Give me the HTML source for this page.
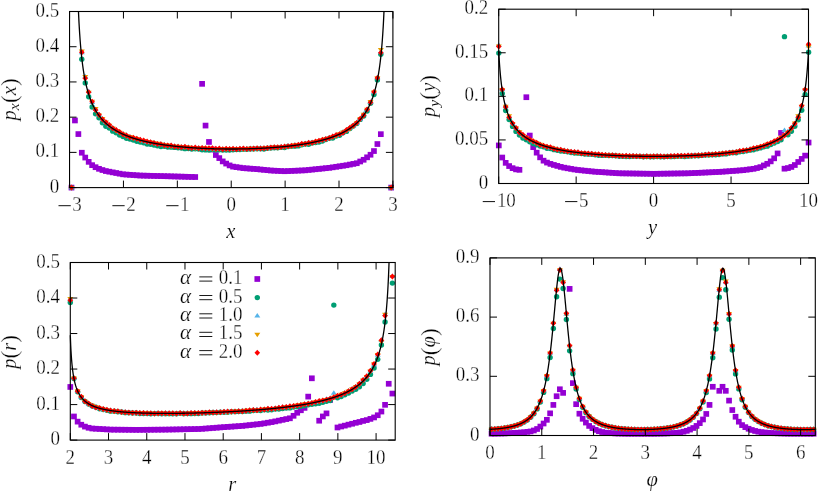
<!DOCTYPE html><html><head><meta charset="utf-8"><title>plot</title><style>html,body{margin:0;padding:0;background:#fff}svg{display:block;will-change:transform}text{font-family:"Liberation Serif",serif;fill:#000;stroke:#fff;stroke-width:0.3px}</style></head><body>
<svg width="818" height="493" viewBox="0 0 818 493"><rect width="818" height="493" fill="#fff"/>
<rect x="68.65" y="184.75" width="5.70" height="5.70" fill="#9400d3"/>
<rect x="72.09" y="117.62" width="5.70" height="5.70" fill="#9400d3"/>
<rect x="75.52" y="131.22" width="5.70" height="5.70" fill="#9400d3"/>
<rect x="78.96" y="149.88" width="5.70" height="5.70" fill="#9400d3"/>
<rect x="82.40" y="154.71" width="5.70" height="5.70" fill="#9400d3"/>
<rect x="85.84" y="159.00" width="5.70" height="5.70" fill="#9400d3"/>
<rect x="89.27" y="162.31" width="5.70" height="5.70" fill="#9400d3"/>
<rect x="92.71" y="164.36" width="5.70" height="5.70" fill="#9400d3"/>
<rect x="96.15" y="165.98" width="5.70" height="5.70" fill="#9400d3"/>
<rect x="99.58" y="167.18" width="5.70" height="5.70" fill="#9400d3"/>
<rect x="103.02" y="168.20" width="5.70" height="5.70" fill="#9400d3"/>
<rect x="106.46" y="168.85" width="5.70" height="5.70" fill="#9400d3"/>
<rect x="109.89" y="169.51" width="5.70" height="5.70" fill="#9400d3"/>
<rect x="113.33" y="170.16" width="5.70" height="5.70" fill="#9400d3"/>
<rect x="116.77" y="170.82" width="5.70" height="5.70" fill="#9400d3"/>
<rect x="120.21" y="171.47" width="5.70" height="5.70" fill="#9400d3"/>
<rect x="123.64" y="171.72" width="5.70" height="5.70" fill="#9400d3"/>
<rect x="127.08" y="171.97" width="5.70" height="5.70" fill="#9400d3"/>
<rect x="130.52" y="172.21" width="5.70" height="5.70" fill="#9400d3"/>
<rect x="133.95" y="172.46" width="5.70" height="5.70" fill="#9400d3"/>
<rect x="137.39" y="172.70" width="5.70" height="5.70" fill="#9400d3"/>
<rect x="140.83" y="172.79" width="5.70" height="5.70" fill="#9400d3"/>
<rect x="144.26" y="172.88" width="5.70" height="5.70" fill="#9400d3"/>
<rect x="147.70" y="172.97" width="5.70" height="5.70" fill="#9400d3"/>
<rect x="151.14" y="173.06" width="5.70" height="5.70" fill="#9400d3"/>
<rect x="154.58" y="173.15" width="5.70" height="5.70" fill="#9400d3"/>
<rect x="158.01" y="173.23" width="5.70" height="5.70" fill="#9400d3"/>
<rect x="161.45" y="173.32" width="5.70" height="5.70" fill="#9400d3"/>
<rect x="164.89" y="173.41" width="5.70" height="5.70" fill="#9400d3"/>
<rect x="168.32" y="173.51" width="5.70" height="5.70" fill="#9400d3"/>
<rect x="171.76" y="173.60" width="5.70" height="5.70" fill="#9400d3"/>
<rect x="175.20" y="173.70" width="5.70" height="5.70" fill="#9400d3"/>
<rect x="178.63" y="173.80" width="5.70" height="5.70" fill="#9400d3"/>
<rect x="182.07" y="173.89" width="5.70" height="5.70" fill="#9400d3"/>
<rect x="185.51" y="173.99" width="5.70" height="5.70" fill="#9400d3"/>
<rect x="188.94" y="174.09" width="5.70" height="5.70" fill="#9400d3"/>
<rect x="192.38" y="174.18" width="5.70" height="5.70" fill="#9400d3"/>
<rect x="199.26" y="80.99" width="5.70" height="5.70" fill="#9400d3"/>
<rect x="202.69" y="122.73" width="5.70" height="5.70" fill="#9400d3"/>
<rect x="206.13" y="139.10" width="5.70" height="5.70" fill="#9400d3"/>
<rect x="209.57" y="146.71" width="5.70" height="5.70" fill="#9400d3"/>
<rect x="213.00" y="152.17" width="5.70" height="5.70" fill="#9400d3"/>
<rect x="216.44" y="155.24" width="5.70" height="5.70" fill="#9400d3"/>
<rect x="219.88" y="158.55" width="5.70" height="5.70" fill="#9400d3"/>
<rect x="223.31" y="160.73" width="5.70" height="5.70" fill="#9400d3"/>
<rect x="226.75" y="162.56" width="5.70" height="5.70" fill="#9400d3"/>
<rect x="230.19" y="163.79" width="5.70" height="5.70" fill="#9400d3"/>
<rect x="233.63" y="164.29" width="5.70" height="5.70" fill="#9400d3"/>
<rect x="237.06" y="164.78" width="5.70" height="5.70" fill="#9400d3"/>
<rect x="240.50" y="165.27" width="5.70" height="5.70" fill="#9400d3"/>
<rect x="243.94" y="165.53" width="5.70" height="5.70" fill="#9400d3"/>
<rect x="247.37" y="165.78" width="5.70" height="5.70" fill="#9400d3"/>
<rect x="250.81" y="166.04" width="5.70" height="5.70" fill="#9400d3"/>
<rect x="254.25" y="166.29" width="5.70" height="5.70" fill="#9400d3"/>
<rect x="257.68" y="166.64" width="5.70" height="5.70" fill="#9400d3"/>
<rect x="261.12" y="166.98" width="5.70" height="5.70" fill="#9400d3"/>
<rect x="264.56" y="167.32" width="5.70" height="5.70" fill="#9400d3"/>
<rect x="268.00" y="167.67" width="5.70" height="5.70" fill="#9400d3"/>
<rect x="271.43" y="167.84" width="5.70" height="5.70" fill="#9400d3"/>
<rect x="274.87" y="168.02" width="5.70" height="5.70" fill="#9400d3"/>
<rect x="278.31" y="168.20" width="5.70" height="5.70" fill="#9400d3"/>
<rect x="281.74" y="168.37" width="5.70" height="5.70" fill="#9400d3"/>
<rect x="285.18" y="168.22" width="5.70" height="5.70" fill="#9400d3"/>
<rect x="288.62" y="168.07" width="5.70" height="5.70" fill="#9400d3"/>
<rect x="292.05" y="167.91" width="5.70" height="5.70" fill="#9400d3"/>
<rect x="295.49" y="167.76" width="5.70" height="5.70" fill="#9400d3"/>
<rect x="298.93" y="167.61" width="5.70" height="5.70" fill="#9400d3"/>
<rect x="302.37" y="167.46" width="5.70" height="5.70" fill="#9400d3"/>
<rect x="305.80" y="167.10" width="5.70" height="5.70" fill="#9400d3"/>
<rect x="309.24" y="166.75" width="5.70" height="5.70" fill="#9400d3"/>
<rect x="312.68" y="166.40" width="5.70" height="5.70" fill="#9400d3"/>
<rect x="316.11" y="166.05" width="5.70" height="5.70" fill="#9400d3"/>
<rect x="319.55" y="165.70" width="5.70" height="5.70" fill="#9400d3"/>
<rect x="322.99" y="165.34" width="5.70" height="5.70" fill="#9400d3"/>
<rect x="326.42" y="164.99" width="5.70" height="5.70" fill="#9400d3"/>
<rect x="329.86" y="164.47" width="5.70" height="5.70" fill="#9400d3"/>
<rect x="333.30" y="163.95" width="5.70" height="5.70" fill="#9400d3"/>
<rect x="336.74" y="163.43" width="5.70" height="5.70" fill="#9400d3"/>
<rect x="340.17" y="162.91" width="5.70" height="5.70" fill="#9400d3"/>
<rect x="343.61" y="162.39" width="5.70" height="5.70" fill="#9400d3"/>
<rect x="347.05" y="161.72" width="5.70" height="5.70" fill="#9400d3"/>
<rect x="350.48" y="161.05" width="5.70" height="5.70" fill="#9400d3"/>
<rect x="353.92" y="160.38" width="5.70" height="5.70" fill="#9400d3"/>
<rect x="357.36" y="158.65" width="5.70" height="5.70" fill="#9400d3"/>
<rect x="360.79" y="156.93" width="5.70" height="5.70" fill="#9400d3"/>
<rect x="364.23" y="154.46" width="5.70" height="5.70" fill="#9400d3"/>
<rect x="367.67" y="151.89" width="5.70" height="5.70" fill="#9400d3"/>
<rect x="371.11" y="148.19" width="5.70" height="5.70" fill="#9400d3"/>
<rect x="374.54" y="141.18" width="5.70" height="5.70" fill="#9400d3"/>
<rect x="377.98" y="131.32" width="5.70" height="5.70" fill="#9400d3"/>
<rect x="388.29" y="184.75" width="5.70" height="5.70" fill="#9400d3"/>
<circle cx="71.50" cy="187.60" r="2.7" fill="#009e73"/>
<circle cx="81.81" cy="59.14" r="2.7" fill="#009e73"/>
<circle cx="85.25" cy="82.88" r="2.7" fill="#009e73"/>
<circle cx="88.69" cy="96.81" r="2.7" fill="#009e73"/>
<circle cx="92.12" cy="107.07" r="2.7" fill="#009e73"/>
<circle cx="95.56" cy="113.86" r="2.7" fill="#009e73"/>
<circle cx="99.00" cy="117.87" r="2.7" fill="#009e73"/>
<circle cx="102.43" cy="122.79" r="2.7" fill="#009e73"/>
<circle cx="105.87" cy="126.20" r="2.7" fill="#009e73"/>
<circle cx="109.31" cy="128.12" r="2.7" fill="#009e73"/>
<circle cx="112.74" cy="131.15" r="2.7" fill="#009e73"/>
<circle cx="116.18" cy="132.84" r="2.7" fill="#009e73"/>
<circle cx="119.62" cy="135.04" r="2.7" fill="#009e73"/>
<circle cx="123.06" cy="136.47" r="2.7" fill="#009e73"/>
<circle cx="126.49" cy="138.34" r="2.7" fill="#009e73"/>
<circle cx="129.93" cy="139.09" r="2.7" fill="#009e73"/>
<circle cx="133.37" cy="139.97" r="2.7" fill="#009e73"/>
<circle cx="136.80" cy="141.28" r="2.7" fill="#009e73"/>
<circle cx="140.24" cy="141.97" r="2.7" fill="#009e73"/>
<circle cx="143.68" cy="142.85" r="2.7" fill="#009e73"/>
<circle cx="147.11" cy="144.11" r="2.7" fill="#009e73"/>
<circle cx="150.55" cy="144.18" r="2.7" fill="#009e73"/>
<circle cx="153.99" cy="144.93" r="2.7" fill="#009e73"/>
<circle cx="157.43" cy="145.73" r="2.7" fill="#009e73"/>
<circle cx="160.86" cy="146.46" r="2.7" fill="#009e73"/>
<circle cx="164.30" cy="146.23" r="2.7" fill="#009e73"/>
<circle cx="167.74" cy="146.98" r="2.7" fill="#009e73"/>
<circle cx="171.17" cy="147.16" r="2.7" fill="#009e73"/>
<circle cx="174.61" cy="147.39" r="2.7" fill="#009e73"/>
<circle cx="178.05" cy="147.84" r="2.7" fill="#009e73"/>
<circle cx="181.48" cy="147.97" r="2.7" fill="#009e73"/>
<circle cx="184.92" cy="148.64" r="2.7" fill="#009e73"/>
<circle cx="188.36" cy="148.56" r="2.7" fill="#009e73"/>
<circle cx="191.79" cy="149.05" r="2.7" fill="#009e73"/>
<circle cx="195.23" cy="148.86" r="2.7" fill="#009e73"/>
<circle cx="198.67" cy="149.06" r="2.7" fill="#009e73"/>
<circle cx="202.11" cy="149.80" r="2.7" fill="#009e73"/>
<circle cx="205.54" cy="149.89" r="2.7" fill="#009e73"/>
<circle cx="208.98" cy="149.93" r="2.7" fill="#009e73"/>
<circle cx="212.42" cy="149.45" r="2.7" fill="#009e73"/>
<circle cx="215.85" cy="149.91" r="2.7" fill="#009e73"/>
<circle cx="219.29" cy="149.81" r="2.7" fill="#009e73"/>
<circle cx="222.73" cy="150.08" r="2.7" fill="#009e73"/>
<circle cx="226.16" cy="149.93" r="2.7" fill="#009e73"/>
<circle cx="229.60" cy="150.01" r="2.7" fill="#009e73"/>
<circle cx="233.04" cy="149.82" r="2.7" fill="#009e73"/>
<circle cx="236.48" cy="149.62" r="2.7" fill="#009e73"/>
<circle cx="239.91" cy="149.58" r="2.7" fill="#009e73"/>
<circle cx="243.35" cy="149.27" r="2.7" fill="#009e73"/>
<circle cx="246.79" cy="149.36" r="2.7" fill="#009e73"/>
<circle cx="250.22" cy="149.07" r="2.7" fill="#009e73"/>
<circle cx="253.66" cy="149.01" r="2.7" fill="#009e73"/>
<circle cx="257.10" cy="148.76" r="2.7" fill="#009e73"/>
<circle cx="260.53" cy="148.85" r="2.7" fill="#009e73"/>
<circle cx="263.97" cy="149.06" r="2.7" fill="#009e73"/>
<circle cx="267.41" cy="148.31" r="2.7" fill="#009e73"/>
<circle cx="270.85" cy="148.00" r="2.7" fill="#009e73"/>
<circle cx="274.28" cy="147.79" r="2.7" fill="#009e73"/>
<circle cx="277.72" cy="147.78" r="2.7" fill="#009e73"/>
<circle cx="281.16" cy="147.36" r="2.7" fill="#009e73"/>
<circle cx="284.59" cy="147.43" r="2.7" fill="#009e73"/>
<circle cx="288.03" cy="146.56" r="2.7" fill="#009e73"/>
<circle cx="291.47" cy="146.37" r="2.7" fill="#009e73"/>
<circle cx="294.90" cy="146.17" r="2.7" fill="#009e73"/>
<circle cx="298.34" cy="145.88" r="2.7" fill="#009e73"/>
<circle cx="301.78" cy="144.70" r="2.7" fill="#009e73"/>
<circle cx="305.22" cy="144.02" r="2.7" fill="#009e73"/>
<circle cx="308.65" cy="144.19" r="2.7" fill="#009e73"/>
<circle cx="312.09" cy="142.89" r="2.7" fill="#009e73"/>
<circle cx="315.53" cy="142.51" r="2.7" fill="#009e73"/>
<circle cx="318.96" cy="141.95" r="2.7" fill="#009e73"/>
<circle cx="322.40" cy="140.94" r="2.7" fill="#009e73"/>
<circle cx="325.84" cy="139.52" r="2.7" fill="#009e73"/>
<circle cx="329.27" cy="138.35" r="2.7" fill="#009e73"/>
<circle cx="332.71" cy="137.99" r="2.7" fill="#009e73"/>
<circle cx="336.15" cy="136.09" r="2.7" fill="#009e73"/>
<circle cx="339.59" cy="135.22" r="2.7" fill="#009e73"/>
<circle cx="343.02" cy="132.84" r="2.7" fill="#009e73"/>
<circle cx="346.46" cy="131.39" r="2.7" fill="#009e73"/>
<circle cx="349.90" cy="128.59" r="2.7" fill="#009e73"/>
<circle cx="353.33" cy="125.95" r="2.7" fill="#009e73"/>
<circle cx="356.77" cy="123.59" r="2.7" fill="#009e73"/>
<circle cx="360.21" cy="119.40" r="2.7" fill="#009e73"/>
<circle cx="363.64" cy="116.06" r="2.7" fill="#009e73"/>
<circle cx="367.08" cy="111.05" r="2.7" fill="#009e73"/>
<circle cx="370.52" cy="103.20" r="2.7" fill="#009e73"/>
<circle cx="373.96" cy="94.59" r="2.7" fill="#009e73"/>
<circle cx="377.39" cy="79.90" r="2.7" fill="#009e73"/>
<circle cx="380.83" cy="54.30" r="2.7" fill="#009e73"/>
<circle cx="391.14" cy="187.60" r="2.7" fill="#009e73"/>
<path d="M68.50 189.20L74.50 189.20L71.50 184.70Z" fill="#56b4e9"/>
<path d="M78.81 54.13L84.81 54.13L81.81 49.63Z" fill="#56b4e9"/>
<path d="M82.25 78.19L88.25 78.19L85.25 73.69Z" fill="#56b4e9"/>
<path d="M85.69 93.12L91.69 93.12L88.69 88.62Z" fill="#56b4e9"/>
<path d="M89.12 103.89L95.12 103.89L92.12 99.39Z" fill="#56b4e9"/>
<path d="M92.56 110.88L98.56 110.88L95.56 106.38Z" fill="#56b4e9"/>
<path d="M96.00 116.26L102.00 116.26L99.00 111.76Z" fill="#56b4e9"/>
<path d="M99.43 120.45L105.43 120.45L102.43 115.95Z" fill="#56b4e9"/>
<path d="M102.87 124.09L108.87 124.09L105.87 119.59Z" fill="#56b4e9"/>
<path d="M106.31 127.13L112.31 127.13L109.31 122.63Z" fill="#56b4e9"/>
<path d="M109.74 129.60L115.74 129.60L112.74 125.10Z" fill="#56b4e9"/>
<path d="M113.18 131.43L119.18 131.43L116.18 126.93Z" fill="#56b4e9"/>
<path d="M116.62 133.84L122.62 133.84L119.62 129.34Z" fill="#56b4e9"/>
<path d="M120.06 135.60L126.06 135.60L123.06 131.10Z" fill="#56b4e9"/>
<path d="M123.49 136.79L129.49 136.79L126.49 132.29Z" fill="#56b4e9"/>
<path d="M126.93 138.62L132.93 138.62L129.93 134.12Z" fill="#56b4e9"/>
<path d="M130.37 139.74L136.37 139.74L133.37 135.24Z" fill="#56b4e9"/>
<path d="M133.80 140.16L139.80 140.16L136.80 135.66Z" fill="#56b4e9"/>
<path d="M137.24 141.58L143.24 141.58L140.24 137.08Z" fill="#56b4e9"/>
<path d="M140.68 142.44L146.68 142.44L143.68 137.94Z" fill="#56b4e9"/>
<path d="M144.11 143.74L150.11 143.74L147.11 139.24Z" fill="#56b4e9"/>
<path d="M147.55 144.10L153.55 144.10L150.55 139.60Z" fill="#56b4e9"/>
<path d="M150.99 144.62L156.99 144.62L153.99 140.12Z" fill="#56b4e9"/>
<path d="M154.43 145.73L160.43 145.73L157.43 141.23Z" fill="#56b4e9"/>
<path d="M157.86 145.78L163.86 145.78L160.86 141.28Z" fill="#56b4e9"/>
<path d="M161.30 146.28L167.30 146.28L164.30 141.78Z" fill="#56b4e9"/>
<path d="M164.74 147.24L170.74 147.24L167.74 142.74Z" fill="#56b4e9"/>
<path d="M168.17 147.20L174.17 147.20L171.17 142.70Z" fill="#56b4e9"/>
<path d="M171.61 147.73L177.61 147.73L174.61 143.23Z" fill="#56b4e9"/>
<path d="M175.05 147.92L181.05 147.92L178.05 143.42Z" fill="#56b4e9"/>
<path d="M178.48 148.53L184.48 148.53L181.48 144.03Z" fill="#56b4e9"/>
<path d="M181.92 148.54L187.92 148.54L184.92 144.04Z" fill="#56b4e9"/>
<path d="M185.36 148.80L191.36 148.80L188.36 144.30Z" fill="#56b4e9"/>
<path d="M188.79 149.62L194.79 149.62L191.79 145.12Z" fill="#56b4e9"/>
<path d="M192.23 149.81L198.23 149.81L195.23 145.31Z" fill="#56b4e9"/>
<path d="M195.67 149.53L201.67 149.53L198.67 145.03Z" fill="#56b4e9"/>
<path d="M199.11 149.48L205.11 149.48L202.11 144.98Z" fill="#56b4e9"/>
<path d="M202.54 150.20L208.54 150.20L205.54 145.70Z" fill="#56b4e9"/>
<path d="M205.98 150.17L211.98 150.17L208.98 145.67Z" fill="#56b4e9"/>
<path d="M209.42 150.18L215.42 150.18L212.42 145.68Z" fill="#56b4e9"/>
<path d="M212.85 150.49L218.85 150.49L215.85 145.99Z" fill="#56b4e9"/>
<path d="M216.29 150.53L222.29 150.53L219.29 146.03Z" fill="#56b4e9"/>
<path d="M219.73 150.63L225.73 150.63L222.73 146.13Z" fill="#56b4e9"/>
<path d="M223.16 150.62L229.16 150.62L226.16 146.12Z" fill="#56b4e9"/>
<path d="M226.60 150.46L232.60 150.46L229.60 145.96Z" fill="#56b4e9"/>
<path d="M230.04 150.69L236.04 150.69L233.04 146.19Z" fill="#56b4e9"/>
<path d="M233.48 150.61L239.48 150.61L236.48 146.11Z" fill="#56b4e9"/>
<path d="M236.91 150.27L242.91 150.27L239.91 145.77Z" fill="#56b4e9"/>
<path d="M240.35 150.79L246.35 150.79L243.35 146.29Z" fill="#56b4e9"/>
<path d="M243.79 150.30L249.79 150.30L246.79 145.80Z" fill="#56b4e9"/>
<path d="M247.22 150.07L253.22 150.07L250.22 145.57Z" fill="#56b4e9"/>
<path d="M250.66 150.29L256.66 150.29L253.66 145.79Z" fill="#56b4e9"/>
<path d="M254.10 150.22L260.10 150.22L257.10 145.72Z" fill="#56b4e9"/>
<path d="M257.53 149.61L263.53 149.61L260.53 145.11Z" fill="#56b4e9"/>
<path d="M260.97 149.87L266.97 149.87L263.97 145.37Z" fill="#56b4e9"/>
<path d="M264.41 149.71L270.41 149.71L267.41 145.21Z" fill="#56b4e9"/>
<path d="M267.85 149.29L273.85 149.29L270.85 144.79Z" fill="#56b4e9"/>
<path d="M271.28 148.83L277.28 148.83L274.28 144.33Z" fill="#56b4e9"/>
<path d="M274.72 149.03L280.72 149.03L277.72 144.53Z" fill="#56b4e9"/>
<path d="M278.16 148.55L284.16 148.55L281.16 144.05Z" fill="#56b4e9"/>
<path d="M281.59 148.21L287.59 148.21L284.59 143.71Z" fill="#56b4e9"/>
<path d="M285.03 147.43L291.03 147.43L288.03 142.93Z" fill="#56b4e9"/>
<path d="M288.47 147.36L294.47 147.36L291.47 142.86Z" fill="#56b4e9"/>
<path d="M291.90 146.57L297.90 146.57L294.90 142.07Z" fill="#56b4e9"/>
<path d="M295.34 146.68L301.34 146.68L298.34 142.18Z" fill="#56b4e9"/>
<path d="M298.78 146.02L304.78 146.02L301.78 141.52Z" fill="#56b4e9"/>
<path d="M302.22 145.18L308.22 145.18L305.22 140.68Z" fill="#56b4e9"/>
<path d="M305.65 144.35L311.65 144.35L308.65 139.85Z" fill="#56b4e9"/>
<path d="M309.09 144.07L315.09 144.07L312.09 139.57Z" fill="#56b4e9"/>
<path d="M312.53 143.54L318.53 143.54L315.53 139.04Z" fill="#56b4e9"/>
<path d="M315.96 142.84L321.96 142.84L318.96 138.34Z" fill="#56b4e9"/>
<path d="M319.40 141.57L325.40 141.57L322.40 137.07Z" fill="#56b4e9"/>
<path d="M322.84 140.92L328.84 140.92L325.84 136.42Z" fill="#56b4e9"/>
<path d="M326.27 139.24L332.27 139.24L329.27 134.74Z" fill="#56b4e9"/>
<path d="M329.71 138.01L335.71 138.01L332.71 133.51Z" fill="#56b4e9"/>
<path d="M333.15 137.35L339.15 137.35L336.15 132.85Z" fill="#56b4e9"/>
<path d="M336.59 135.77L342.59 135.77L339.59 131.27Z" fill="#56b4e9"/>
<path d="M340.02 133.51L346.02 133.51L343.02 129.01Z" fill="#56b4e9"/>
<path d="M343.46 131.78L349.46 131.78L346.46 127.28Z" fill="#56b4e9"/>
<path d="M346.90 129.38L352.90 129.38L349.90 124.88Z" fill="#56b4e9"/>
<path d="M350.33 127.40L356.33 127.40L353.33 122.90Z" fill="#56b4e9"/>
<path d="M353.77 124.70L359.77 124.70L356.77 120.20Z" fill="#56b4e9"/>
<path d="M357.21 120.93L363.21 120.93L360.21 116.43Z" fill="#56b4e9"/>
<path d="M360.64 115.86L366.64 115.86L363.64 111.36Z" fill="#56b4e9"/>
<path d="M364.08 111.17L370.08 111.17L367.08 106.67Z" fill="#56b4e9"/>
<path d="M367.52 103.95L373.52 103.95L370.52 99.45Z" fill="#56b4e9"/>
<path d="M370.96 94.03L376.96 94.03L373.96 89.53Z" fill="#56b4e9"/>
<path d="M374.39 79.37L380.39 79.37L377.39 74.87Z" fill="#56b4e9"/>
<path d="M377.83 53.87L383.83 53.87L380.83 49.37Z" fill="#56b4e9"/>
<path d="M388.14 189.20L394.14 189.20L391.14 184.70Z" fill="#56b4e9"/>
<path d="M68.50 186.00L74.50 186.00L71.50 190.50Z" fill="#e69f00"/>
<path d="M78.81 49.39L84.81 49.39L81.81 53.89Z" fill="#e69f00"/>
<path d="M82.25 74.93L88.25 74.93L85.25 79.43Z" fill="#e69f00"/>
<path d="M85.69 90.80L91.69 90.80L88.69 95.30Z" fill="#e69f00"/>
<path d="M89.12 99.72L95.12 99.72L92.12 104.22Z" fill="#e69f00"/>
<path d="M92.56 106.95L98.56 106.95L95.56 111.45Z" fill="#e69f00"/>
<path d="M96.00 113.49L102.00 113.49L99.00 117.99Z" fill="#e69f00"/>
<path d="M99.43 117.11L105.43 117.11L102.43 121.61Z" fill="#e69f00"/>
<path d="M102.87 120.58L108.87 120.58L105.87 125.08Z" fill="#e69f00"/>
<path d="M106.31 123.80L112.31 123.80L109.31 128.30Z" fill="#e69f00"/>
<path d="M109.74 126.53L115.74 126.53L112.74 131.03Z" fill="#e69f00"/>
<path d="M113.18 128.98L119.18 128.98L116.18 133.48Z" fill="#e69f00"/>
<path d="M116.62 130.83L122.62 130.83L119.62 135.33Z" fill="#e69f00"/>
<path d="M120.06 132.62L126.06 132.62L123.06 137.12Z" fill="#e69f00"/>
<path d="M123.49 134.27L129.49 134.27L126.49 138.77Z" fill="#e69f00"/>
<path d="M126.93 135.06L132.93 135.06L129.93 139.56Z" fill="#e69f00"/>
<path d="M130.37 136.56L136.37 136.56L133.37 141.06Z" fill="#e69f00"/>
<path d="M133.80 137.12L139.80 137.12L136.80 141.62Z" fill="#e69f00"/>
<path d="M137.24 138.83L143.24 138.83L140.24 143.33Z" fill="#e69f00"/>
<path d="M140.68 138.90L146.68 138.90L143.68 143.40Z" fill="#e69f00"/>
<path d="M144.11 139.91L150.11 139.91L147.11 144.41Z" fill="#e69f00"/>
<path d="M147.55 140.44L153.55 140.44L150.55 144.94Z" fill="#e69f00"/>
<path d="M150.99 141.14L156.99 141.14L153.99 145.64Z" fill="#e69f00"/>
<path d="M154.43 141.76L160.43 141.76L157.43 146.26Z" fill="#e69f00"/>
<path d="M157.86 142.61L163.86 142.61L160.86 147.11Z" fill="#e69f00"/>
<path d="M161.30 143.61L167.30 143.61L164.30 148.11Z" fill="#e69f00"/>
<path d="M164.74 143.46L170.74 143.46L167.74 147.96Z" fill="#e69f00"/>
<path d="M168.17 144.38L174.17 144.38L171.17 148.88Z" fill="#e69f00"/>
<path d="M171.61 144.67L177.61 144.67L174.61 149.17Z" fill="#e69f00"/>
<path d="M175.05 144.74L181.05 144.74L178.05 149.24Z" fill="#e69f00"/>
<path d="M178.48 145.19L184.48 145.19L181.48 149.69Z" fill="#e69f00"/>
<path d="M181.92 145.58L187.92 145.58L184.92 150.08Z" fill="#e69f00"/>
<path d="M185.36 145.43L191.36 145.43L188.36 149.93Z" fill="#e69f00"/>
<path d="M188.79 145.95L194.79 145.95L191.79 150.45Z" fill="#e69f00"/>
<path d="M192.23 146.39L198.23 146.39L195.23 150.89Z" fill="#e69f00"/>
<path d="M195.67 146.66L201.67 146.66L198.67 151.16Z" fill="#e69f00"/>
<path d="M199.11 146.36L205.11 146.36L202.11 150.86Z" fill="#e69f00"/>
<path d="M202.54 146.82L208.54 146.82L205.54 151.32Z" fill="#e69f00"/>
<path d="M205.98 146.72L211.98 146.72L208.98 151.22Z" fill="#e69f00"/>
<path d="M209.42 147.17L215.42 147.17L212.42 151.67Z" fill="#e69f00"/>
<path d="M212.85 147.39L218.85 147.39L215.85 151.89Z" fill="#e69f00"/>
<path d="M216.29 147.20L222.29 147.20L219.29 151.70Z" fill="#e69f00"/>
<path d="M219.73 147.04L225.73 147.04L222.73 151.54Z" fill="#e69f00"/>
<path d="M223.16 147.57L229.16 147.57L226.16 152.07Z" fill="#e69f00"/>
<path d="M226.60 147.11L232.60 147.11L229.60 151.61Z" fill="#e69f00"/>
<path d="M230.04 147.01L236.04 147.01L233.04 151.51Z" fill="#e69f00"/>
<path d="M233.48 147.08L239.48 147.08L236.48 151.58Z" fill="#e69f00"/>
<path d="M236.91 147.03L242.91 147.03L239.91 151.53Z" fill="#e69f00"/>
<path d="M240.35 147.61L246.35 147.61L243.35 152.11Z" fill="#e69f00"/>
<path d="M243.79 147.05L249.79 147.05L246.79 151.55Z" fill="#e69f00"/>
<path d="M247.22 146.77L253.22 146.77L250.22 151.27Z" fill="#e69f00"/>
<path d="M250.66 147.29L256.66 147.29L253.66 151.79Z" fill="#e69f00"/>
<path d="M254.10 146.98L260.10 146.98L257.10 151.48Z" fill="#e69f00"/>
<path d="M257.53 146.83L263.53 146.83L260.53 151.33Z" fill="#e69f00"/>
<path d="M260.97 146.44L266.97 146.44L263.97 150.94Z" fill="#e69f00"/>
<path d="M264.41 146.33L270.41 146.33L267.41 150.83Z" fill="#e69f00"/>
<path d="M267.85 146.06L273.85 146.06L270.85 150.56Z" fill="#e69f00"/>
<path d="M271.28 145.57L277.28 145.57L274.28 150.07Z" fill="#e69f00"/>
<path d="M274.72 145.91L280.72 145.91L277.72 150.41Z" fill="#e69f00"/>
<path d="M278.16 145.57L284.16 145.57L281.16 150.07Z" fill="#e69f00"/>
<path d="M281.59 145.18L287.59 145.18L284.59 149.68Z" fill="#e69f00"/>
<path d="M285.03 144.82L291.03 144.82L288.03 149.32Z" fill="#e69f00"/>
<path d="M288.47 144.47L294.47 144.47L291.47 148.97Z" fill="#e69f00"/>
<path d="M291.90 143.27L297.90 143.27L294.90 147.77Z" fill="#e69f00"/>
<path d="M295.34 142.89L301.34 142.89L298.34 147.39Z" fill="#e69f00"/>
<path d="M298.78 143.03L304.78 143.03L301.78 147.53Z" fill="#e69f00"/>
<path d="M302.22 142.11L308.22 142.11L305.22 146.61Z" fill="#e69f00"/>
<path d="M305.65 141.66L311.65 141.66L308.65 146.16Z" fill="#e69f00"/>
<path d="M309.09 140.99L315.09 140.99L312.09 145.49Z" fill="#e69f00"/>
<path d="M312.53 140.22L318.53 140.22L315.53 144.72Z" fill="#e69f00"/>
<path d="M315.96 139.14L321.96 139.14L318.96 143.64Z" fill="#e69f00"/>
<path d="M319.40 138.31L325.40 138.31L322.40 142.81Z" fill="#e69f00"/>
<path d="M322.84 137.56L328.84 137.56L325.84 142.06Z" fill="#e69f00"/>
<path d="M326.27 136.65L332.27 136.65L329.27 141.15Z" fill="#e69f00"/>
<path d="M329.71 135.33L335.71 135.33L332.71 139.83Z" fill="#e69f00"/>
<path d="M333.15 134.21L339.15 134.21L336.15 138.71Z" fill="#e69f00"/>
<path d="M336.59 132.27L342.59 132.27L339.59 136.77Z" fill="#e69f00"/>
<path d="M340.02 130.41L346.02 130.41L343.02 134.91Z" fill="#e69f00"/>
<path d="M343.46 128.88L349.46 128.88L346.46 133.38Z" fill="#e69f00"/>
<path d="M346.90 127.05L352.90 127.05L349.90 131.55Z" fill="#e69f00"/>
<path d="M350.33 124.40L356.33 124.40L353.33 128.90Z" fill="#e69f00"/>
<path d="M353.77 121.18L359.77 121.18L356.77 125.68Z" fill="#e69f00"/>
<path d="M357.21 117.30L363.21 117.30L360.21 121.80Z" fill="#e69f00"/>
<path d="M360.64 112.68L366.64 112.68L363.64 117.18Z" fill="#e69f00"/>
<path d="M364.08 107.80L370.08 107.80L367.08 112.30Z" fill="#e69f00"/>
<path d="M367.52 99.97L373.52 99.97L370.52 104.47Z" fill="#e69f00"/>
<path d="M370.96 90.44L376.96 90.44L373.96 94.94Z" fill="#e69f00"/>
<path d="M374.39 76.15L380.39 76.15L377.39 80.65Z" fill="#e69f00"/>
<path d="M377.83 48.07L383.83 48.07L380.83 52.57Z" fill="#e69f00"/>
<path d="M388.14 186.00L394.14 186.00L391.14 190.50Z" fill="#e69f00"/>
<path d="M68.70 187.60L71.50 184.60L74.30 187.60L71.50 190.60Z" fill="#ff0000"/>
<path d="M79.01 52.13L81.81 49.13L84.61 52.13L81.81 55.13Z" fill="#ff0000"/>
<path d="M82.45 78.16L85.25 75.16L88.05 78.16L85.25 81.16Z" fill="#ff0000"/>
<path d="M85.89 92.21L88.69 89.21L91.48 92.21L88.69 95.21Z" fill="#ff0000"/>
<path d="M89.32 101.75L92.12 98.75L94.92 101.75L92.12 104.75Z" fill="#ff0000"/>
<path d="M92.76 109.89L95.56 106.89L98.36 109.89L95.56 112.89Z" fill="#ff0000"/>
<path d="M96.20 114.80L99.00 111.80L101.80 114.80L99.00 117.80Z" fill="#ff0000"/>
<path d="M99.63 119.15L102.43 116.15L105.23 119.15L102.43 122.15Z" fill="#ff0000"/>
<path d="M103.07 122.13L105.87 119.13L108.67 122.13L105.87 125.13Z" fill="#ff0000"/>
<path d="M106.51 125.06L109.31 122.06L112.11 125.06L109.31 128.06Z" fill="#ff0000"/>
<path d="M109.94 128.30L112.74 125.30L115.54 128.30L112.74 131.30Z" fill="#ff0000"/>
<path d="M113.38 129.88L116.18 126.88L118.98 129.88L116.18 132.88Z" fill="#ff0000"/>
<path d="M116.82 131.93L119.62 128.93L122.42 131.93L119.62 134.93Z" fill="#ff0000"/>
<path d="M120.26 134.19L123.06 131.19L125.86 134.19L123.06 137.19Z" fill="#ff0000"/>
<path d="M123.69 135.46L126.49 132.46L129.29 135.46L126.49 138.46Z" fill="#ff0000"/>
<path d="M127.13 137.14L129.93 134.14L132.73 137.14L129.93 140.14Z" fill="#ff0000"/>
<path d="M130.57 137.63L133.37 134.63L136.17 137.63L133.37 140.63Z" fill="#ff0000"/>
<path d="M134.00 138.86L136.80 135.86L139.60 138.86L136.80 141.86Z" fill="#ff0000"/>
<path d="M137.44 139.63L140.24 136.63L143.04 139.63L140.24 142.63Z" fill="#ff0000"/>
<path d="M140.88 140.61L143.68 137.61L146.48 140.61L143.68 143.61Z" fill="#ff0000"/>
<path d="M144.31 141.53L147.11 138.53L149.91 141.53L147.11 144.53Z" fill="#ff0000"/>
<path d="M147.75 142.21L150.55 139.21L153.35 142.21L150.55 145.21Z" fill="#ff0000"/>
<path d="M151.19 143.04L153.99 140.04L156.79 143.04L153.99 146.04Z" fill="#ff0000"/>
<path d="M154.62 144.06L157.43 141.06L160.23 144.06L157.43 147.06Z" fill="#ff0000"/>
<path d="M158.06 144.20L160.86 141.20L163.66 144.20L160.86 147.20Z" fill="#ff0000"/>
<path d="M161.50 145.22L164.30 142.22L167.10 145.22L164.30 148.22Z" fill="#ff0000"/>
<path d="M164.94 145.57L167.74 142.57L170.54 145.57L167.74 148.57Z" fill="#ff0000"/>
<path d="M168.37 145.48L171.17 142.48L173.97 145.48L171.17 148.48Z" fill="#ff0000"/>
<path d="M171.81 146.48L174.61 143.48L177.41 146.48L174.61 149.48Z" fill="#ff0000"/>
<path d="M175.25 146.81L178.05 143.81L180.85 146.81L178.05 149.81Z" fill="#ff0000"/>
<path d="M178.68 147.13L181.48 144.13L184.28 147.13L181.48 150.13Z" fill="#ff0000"/>
<path d="M182.12 146.80L184.92 143.80L187.72 146.80L184.92 149.80Z" fill="#ff0000"/>
<path d="M185.56 147.65L188.36 144.65L191.16 147.65L188.36 150.65Z" fill="#ff0000"/>
<path d="M188.99 148.02L191.79 145.02L194.59 148.02L191.79 151.02Z" fill="#ff0000"/>
<path d="M192.43 147.59L195.23 144.59L198.03 147.59L195.23 150.59Z" fill="#ff0000"/>
<path d="M195.87 148.37L198.67 145.37L201.47 148.37L198.67 151.37Z" fill="#ff0000"/>
<path d="M199.31 147.97L202.11 144.97L204.91 147.97L202.11 150.97Z" fill="#ff0000"/>
<path d="M202.74 148.27L205.54 145.27L208.34 148.27L205.54 151.27Z" fill="#ff0000"/>
<path d="M206.18 148.28L208.98 145.28L211.78 148.28L208.98 151.28Z" fill="#ff0000"/>
<path d="M209.62 148.30L212.42 145.30L215.22 148.30L212.42 151.30Z" fill="#ff0000"/>
<path d="M213.05 148.69L215.85 145.69L218.65 148.69L215.85 151.69Z" fill="#ff0000"/>
<path d="M216.49 148.59L219.29 145.59L222.09 148.59L219.29 151.59Z" fill="#ff0000"/>
<path d="M219.93 149.24L222.73 146.24L225.53 149.24L222.73 152.24Z" fill="#ff0000"/>
<path d="M223.36 148.71L226.16 145.71L228.97 148.71L226.16 151.71Z" fill="#ff0000"/>
<path d="M226.80 148.93L229.60 145.93L232.40 148.93L229.60 151.93Z" fill="#ff0000"/>
<path d="M230.24 148.77L233.04 145.77L235.84 148.77L233.04 151.77Z" fill="#ff0000"/>
<path d="M233.68 149.22L236.48 146.22L239.28 149.22L236.48 152.22Z" fill="#ff0000"/>
<path d="M237.11 148.69L239.91 145.69L242.71 148.69L239.91 151.69Z" fill="#ff0000"/>
<path d="M240.55 148.49L243.35 145.49L246.15 148.49L243.35 151.49Z" fill="#ff0000"/>
<path d="M243.99 149.09L246.79 146.09L249.59 149.09L246.79 152.09Z" fill="#ff0000"/>
<path d="M247.42 148.79L250.22 145.79L253.02 148.79L250.22 151.79Z" fill="#ff0000"/>
<path d="M250.86 148.49L253.66 145.49L256.46 148.49L253.66 151.49Z" fill="#ff0000"/>
<path d="M254.30 148.15L257.10 145.15L259.90 148.15L257.10 151.15Z" fill="#ff0000"/>
<path d="M257.73 148.45L260.53 145.45L263.33 148.45L260.53 151.45Z" fill="#ff0000"/>
<path d="M261.17 148.32L263.97 145.32L266.77 148.32L263.97 151.32Z" fill="#ff0000"/>
<path d="M264.61 148.06L267.41 145.06L270.21 148.06L267.41 151.06Z" fill="#ff0000"/>
<path d="M268.05 147.55L270.85 144.55L273.65 147.55L270.85 150.55Z" fill="#ff0000"/>
<path d="M271.48 147.18L274.28 144.18L277.08 147.18L274.28 150.18Z" fill="#ff0000"/>
<path d="M274.92 147.20L277.72 144.20L280.52 147.20L277.72 150.20Z" fill="#ff0000"/>
<path d="M278.36 146.91L281.16 143.91L283.96 146.91L281.16 149.91Z" fill="#ff0000"/>
<path d="M281.79 146.56L284.59 143.56L287.39 146.56L284.59 149.56Z" fill="#ff0000"/>
<path d="M285.23 146.23L288.03 143.23L290.83 146.23L288.03 149.23Z" fill="#ff0000"/>
<path d="M288.67 145.77L291.47 142.77L294.27 145.77L291.47 148.77Z" fill="#ff0000"/>
<path d="M292.10 145.62L294.90 142.62L297.70 145.62L294.90 148.62Z" fill="#ff0000"/>
<path d="M295.54 144.79L298.34 141.79L301.14 144.79L298.34 147.79Z" fill="#ff0000"/>
<path d="M298.98 143.87L301.78 140.87L304.58 143.87L301.78 146.87Z" fill="#ff0000"/>
<path d="M302.42 143.79L305.22 140.79L308.02 143.79L305.22 146.79Z" fill="#ff0000"/>
<path d="M305.85 142.87L308.65 139.87L311.45 142.87L308.65 145.87Z" fill="#ff0000"/>
<path d="M309.29 142.73L312.09 139.73L314.89 142.73L312.09 145.73Z" fill="#ff0000"/>
<path d="M312.73 141.51L315.53 138.51L318.33 141.51L315.53 144.51Z" fill="#ff0000"/>
<path d="M316.16 140.64L318.96 137.64L321.76 140.64L318.96 143.64Z" fill="#ff0000"/>
<path d="M319.60 139.83L322.40 136.83L325.20 139.83L322.40 142.83Z" fill="#ff0000"/>
<path d="M323.04 139.01L325.84 136.01L328.64 139.01L325.84 142.01Z" fill="#ff0000"/>
<path d="M326.47 137.96L329.27 134.96L332.07 137.96L329.27 140.96Z" fill="#ff0000"/>
<path d="M329.91 136.61L332.71 133.61L335.51 136.61L332.71 139.61Z" fill="#ff0000"/>
<path d="M333.35 135.01L336.15 132.01L338.95 135.01L336.15 138.01Z" fill="#ff0000"/>
<path d="M336.79 134.31L339.59 131.31L342.39 134.31L339.59 137.31Z" fill="#ff0000"/>
<path d="M340.22 132.70L343.02 129.70L345.82 132.70L343.02 135.70Z" fill="#ff0000"/>
<path d="M343.66 130.06L346.46 127.06L349.26 130.06L346.46 133.06Z" fill="#ff0000"/>
<path d="M347.10 127.65L349.90 124.65L352.70 127.65L349.90 130.65Z" fill="#ff0000"/>
<path d="M350.53 125.58L353.33 122.58L356.13 125.58L353.33 128.58Z" fill="#ff0000"/>
<path d="M353.97 122.69L356.77 119.69L359.57 122.69L356.77 125.69Z" fill="#ff0000"/>
<path d="M357.41 118.75L360.21 115.75L363.01 118.75L360.21 121.75Z" fill="#ff0000"/>
<path d="M360.84 115.15L363.64 112.15L366.44 115.15L363.64 118.15Z" fill="#ff0000"/>
<path d="M364.28 109.58L367.08 106.58L369.88 109.58L367.08 112.58Z" fill="#ff0000"/>
<path d="M367.72 102.60L370.52 99.60L373.32 102.60L370.52 105.60Z" fill="#ff0000"/>
<path d="M371.16 92.11L373.96 89.11L376.76 92.11L373.96 95.11Z" fill="#ff0000"/>
<path d="M374.59 78.01L377.39 75.01L380.19 78.01L377.39 81.01Z" fill="#ff0000"/>
<path d="M378.03 52.75L380.83 49.75L383.63 52.75L380.83 55.75Z" fill="#ff0000"/>
<path d="M388.34 187.60L391.14 184.60L393.94 187.60L391.14 190.60Z" fill="#ff0000"/>
<path d="M78.48 11.50L78.60 14.37L78.82 18.87L79.03 23.03L79.25 26.89L79.47 30.49L79.68 33.85L79.90 37.00L80.11 39.96L80.33 42.75L80.54 45.38L80.76 47.87L80.98 50.24L81.19 52.48L81.41 54.61L81.62 56.64L81.84 58.58L82.05 60.43L82.27 62.21L82.48 63.90L82.70 65.53L82.92 67.10L83.13 68.60L83.35 70.05L83.56 71.44L83.78 72.78L83.99 74.07L84.21 75.33L84.42 76.53L84.64 77.70L84.86 78.83L85.07 79.93L85.29 80.99L85.50 82.02L85.72 83.01L85.93 83.98L86.15 84.92L86.36 85.84L86.58 86.73L86.80 87.59L87.01 88.43L87.23 89.25L87.44 90.05L87.66 90.83L87.87 91.59L88.09 92.33L88.30 93.05L88.52 93.76L88.74 94.44L88.95 95.12L89.17 95.77L89.38 96.42L89.60 97.04L89.81 97.66L90.03 98.26L90.24 98.85L90.46 99.42L90.68 99.99L90.89 100.54L91.11 101.08L91.32 101.61L91.54 102.13L91.75 102.64L91.97 103.14L92.18 103.63L92.40 104.11L92.62 104.59L92.83 105.05L93.05 105.51L93.26 105.95L93.48 106.39L93.69 106.83L93.91 107.25L94.12 107.67L94.34 108.08L94.56 108.48L94.77 108.88L94.99 109.27L95.20 109.65L95.42 110.03L95.63 110.40L95.85 110.76L96.06 111.12L96.28 111.48L96.50 111.83L96.71 112.17L96.93 112.51L97.14 112.84L97.36 113.17L97.57 113.49L97.79 113.81L98.00 114.13L98.22 114.44L98.44 114.74L98.65 115.04L98.87 115.34L99.08 115.63L99.30 115.92L99.51 116.21L99.73 116.49L99.94 116.77L100.16 117.04L100.38 117.31L100.59 117.58L100.81 117.84L101.02 118.10L101.24 118.36L101.45 118.61L101.67 118.86L101.88 119.11L102.10 119.35L102.32 119.59L102.53 119.83L102.75 120.06L102.96 120.30L103.18 120.53L103.39 120.75L103.61 120.98L103.83 121.20L104.04 121.42L104.26 121.63L104.47 121.85L104.69 122.06L104.90 122.27L105.12 122.48L105.33 122.68L105.55 122.88L105.77 123.08L105.98 123.28L106.20 123.48L106.41 123.67L106.63 123.86L106.84 124.05L107.06 124.24L107.27 124.42L107.49 124.61L107.71 124.79L107.92 124.97L108.14 125.15L108.35 125.32L108.57 125.50L108.78 125.67L109.00 125.84L109.21 126.01L109.43 126.18L109.65 126.34L109.86 126.51L110.08 126.67L110.29 126.83L110.51 126.99L110.72 127.15L110.94 127.31L111.15 127.46L111.37 127.61L111.59 127.77L111.80 127.92L112.02 128.07L112.23 128.21L112.45 128.36L112.66 128.51L112.88 128.65L113.09 128.79L113.31 128.93L113.53 129.07L113.74 129.21L113.96 129.35L114.17 129.49L114.39 129.62L114.60 129.75L114.82 129.89L115.03 130.02L115.25 130.15L115.47 130.28L115.68 130.41L115.90 130.53L116.11 130.66L116.33 130.78L116.54 130.91L116.76 131.03L116.97 131.15L117.19 131.27L117.41 131.39L117.62 131.51L117.84 131.63L118.05 131.75L118.27 131.86L118.48 131.98L118.70 132.09L118.91 132.21L119.13 132.32L119.35 132.43L119.56 132.54L119.78 132.65L119.99 132.76L120.21 132.87L120.42 132.97L120.64 133.08L120.85 133.19L121.07 133.29L121.29 133.39L121.50 133.50L121.72 133.60L121.93 133.70L122.15 133.80L122.36 133.90L122.58 134.00L122.79 134.10L123.01 134.20L123.23 134.29L123.44 134.39L123.66 134.49L123.87 134.58L124.09 134.67L124.30 134.77L124.52 134.86L124.74 134.95L124.95 135.04L125.17 135.13L125.38 135.22L125.60 135.31L125.81 135.40L126.03 135.49L126.24 135.58L126.46 135.67L126.68 135.75L126.89 135.84L127.11 135.92L127.32 136.01L127.54 136.09L127.75 136.18L127.97 136.26L128.18 136.34L128.40 136.42L128.62 136.50L128.83 136.58L129.05 136.66L129.26 136.74L129.48 136.82L129.69 136.90L129.91 136.98L130.12 137.06L130.34 137.13L130.56 137.21L130.77 137.28L130.99 137.36L131.20 137.43L131.42 137.51L131.63 137.58L131.85 137.66L132.06 137.73L132.28 137.80L132.50 137.87L132.71 137.94L132.93 138.02L133.14 138.09L133.36 138.16L133.57 138.23L133.79 138.30L134.00 138.36L134.22 138.43L134.44 138.50L134.65 138.57L134.87 138.63L135.08 138.70L135.30 138.77L135.51 138.83L135.73 138.90L135.94 138.96L136.16 139.03L136.38 139.09L136.59 139.16L136.81 139.22L137.02 139.28L137.24 139.34L137.45 139.41L137.67 139.47L137.88 139.53L138.10 139.59L138.32 139.65L138.53 139.71L138.75 139.77L138.96 139.83L139.18 139.89L139.39 139.95L139.61 140.01L139.82 140.07L140.04 140.12L140.26 140.18L140.47 140.24L140.69 140.30L140.90 140.35L141.12 140.41L141.33 140.46L141.55 140.52L141.76 140.57L141.98 140.63L142.20 140.68L142.41 140.74L142.63 140.79L142.84 140.85L143.06 140.90L143.27 140.95L143.49 141.00L143.70 141.06L143.92 141.11L144.14 141.16L144.35 141.21L144.57 141.26L144.78 141.31L145.00 141.36L145.21 141.41L145.43 141.46L145.65 141.51L145.86 141.56L146.08 141.61L146.29 141.66L146.51 141.71L146.72 141.76L146.94 141.80L147.15 141.85L147.37 141.90L147.59 141.95L147.80 141.99L148.02 142.04L148.23 142.09L148.45 142.13L148.66 142.18L148.88 142.22L149.09 142.27L149.31 142.31L149.53 142.36L149.74 142.40L149.96 142.45L150.17 142.49L150.39 142.54L150.60 142.58L150.82 142.62L151.03 142.67L151.25 142.71L151.47 142.75L151.68 142.79L151.90 142.84L152.11 142.88L152.33 142.92L152.54 142.96L152.76 143.00L152.97 143.04L153.19 143.08L153.41 143.12L153.62 143.16L153.84 143.21L154.05 143.24L154.27 143.28L154.48 143.32L154.70 143.36L154.91 143.40L155.13 143.44L155.35 143.48L155.56 143.52L155.78 143.56L155.99 143.59L156.21 143.63L156.42 143.67L156.64 143.71L156.85 143.74L157.07 143.78L157.29 143.82L157.50 143.85L157.72 143.89L157.93 143.93L158.15 143.96L158.36 144.00L158.58 144.03L158.79 144.07L159.01 144.10L159.23 144.14L159.44 144.17L159.66 144.21L159.87 144.24L160.09 144.28L160.30 144.31L160.52 144.35L160.73 144.38L160.95 144.41L161.17 144.45L161.38 144.48L161.60 144.51L161.81 144.55L162.03 144.58L162.24 144.61L162.46 144.64L162.67 144.67L162.89 144.71L163.11 144.74L163.32 144.77L163.54 144.80L163.75 144.83L163.97 144.86L164.18 144.89L164.40 144.93L164.61 144.96L164.83 144.99L165.05 145.02L165.26 145.05L165.48 145.08L165.69 145.11L165.91 145.14L166.12 145.17L166.34 145.19L166.55 145.22L166.77 145.25L166.99 145.28L167.20 145.31L167.42 145.34L167.63 145.37L167.85 145.40L168.06 145.42L168.28 145.45L168.50 145.48L168.71 145.51L168.93 145.53L169.14 145.56L169.36 145.59L169.57 145.62L169.79 145.64L170.00 145.67L170.22 145.70L170.44 145.72L170.65 145.75L170.87 145.77L171.08 145.80L171.30 145.83L171.51 145.85L171.73 145.88L171.94 145.90L172.16 145.93L172.38 145.95L172.59 145.98L172.81 146.00L173.02 146.03L173.24 146.05L173.45 146.08L173.67 146.10L173.88 146.13L174.10 146.15L174.32 146.17L174.53 146.20L174.75 146.22L174.96 146.25L175.18 146.27L175.39 146.29L175.61 146.32L175.82 146.34L176.04 146.36L176.26 146.38L176.47 146.41L176.69 146.43L176.90 146.45L177.12 146.47L177.33 146.50L177.55 146.52L177.76 146.54L177.98 146.56L178.20 146.58L178.41 146.61L178.63 146.63L178.84 146.65L179.06 146.67L179.27 146.69L179.49 146.71L179.70 146.73L179.92 146.75L180.14 146.77L180.35 146.79L180.57 146.81L180.78 146.83L181.00 146.85L181.21 146.87L181.43 146.89L181.64 146.91L181.86 146.93L182.08 146.95L182.29 146.97L182.51 146.99L182.72 147.01L182.94 147.03L183.15 147.05L183.37 147.07L183.58 147.09L183.80 147.11L184.02 147.12L184.23 147.14L184.45 147.16L184.66 147.18L184.88 147.20L185.09 147.22L185.31 147.23L185.52 147.25L185.74 147.27L185.96 147.29L186.17 147.30L186.39 147.32L186.60 147.34L186.82 147.36L187.03 147.37L187.25 147.39L187.46 147.41L187.68 147.42L187.90 147.44L188.11 147.46L188.33 147.47L188.54 147.49L188.76 147.51L188.97 147.52L189.19 147.54L189.41 147.55L189.62 147.57L189.84 147.58L190.05 147.60L190.27 147.62L190.48 147.63L190.70 147.65L190.91 147.66L191.13 147.68L191.35 147.69L191.56 147.71L191.78 147.72L191.99 147.74L192.21 147.75L192.42 147.77L192.64 147.78L192.85 147.79L193.07 147.81L193.29 147.82L193.50 147.84L193.72 147.85L193.93 147.86L194.15 147.88L194.36 147.89L194.58 147.91L194.79 147.92L195.01 147.93L195.23 147.95L195.44 147.96L195.66 147.97L195.87 147.99L196.09 148.00L196.30 148.01L196.52 148.02L196.73 148.04L196.95 148.05L197.17 148.06L197.38 148.07L197.60 148.09L197.81 148.10L198.03 148.11L198.24 148.12L198.46 148.13L198.67 148.15L198.89 148.16L199.11 148.17L199.32 148.18L199.54 148.19L199.75 148.20L199.97 148.22L200.18 148.23L200.40 148.24L200.61 148.25L200.83 148.26L201.05 148.27L201.26 148.28L201.48 148.29L201.69 148.30L201.91 148.31L202.12 148.32L202.34 148.33L202.55 148.34L202.77 148.35L202.99 148.36L203.20 148.37L203.42 148.38L203.63 148.39L203.85 148.40L204.06 148.41L204.28 148.42L204.49 148.43L204.71 148.44L204.93 148.45L205.14 148.46L205.36 148.47L205.57 148.48L205.79 148.49L206.00 148.50L206.22 148.51L206.43 148.52L206.65 148.52L206.87 148.53L207.08 148.54L207.30 148.55L207.51 148.56L207.73 148.57L207.94 148.57L208.16 148.58L208.37 148.59L208.59 148.60L208.81 148.61L209.02 148.61L209.24 148.62L209.45 148.63L209.67 148.64L209.88 148.64L210.10 148.65L210.32 148.66L210.53 148.67L210.75 148.67L210.96 148.68L211.18 148.69L211.39 148.69L211.61 148.70L211.82 148.71L212.04 148.72L212.26 148.72L212.47 148.73L212.69 148.73L212.90 148.74L213.12 148.75L213.33 148.75L213.55 148.76L213.76 148.77L213.98 148.77L214.20 148.78L214.41 148.78L214.63 148.79L214.84 148.80L215.06 148.80L215.27 148.81L215.49 148.81L215.70 148.82L215.92 148.82L216.14 148.83L216.35 148.83L216.57 148.84L216.78 148.84L217.00 148.85L217.21 148.85L217.43 148.86L217.64 148.86L217.86 148.87L218.08 148.87L218.29 148.88L218.51 148.88L218.72 148.88L218.94 148.89L219.15 148.89L219.37 148.90L219.58 148.90L219.80 148.91L220.02 148.91L220.23 148.91L220.45 148.92L220.66 148.92L220.88 148.92L221.09 148.93L221.31 148.93L221.52 148.93L221.74 148.94L221.96 148.94L222.17 148.94L222.39 148.95L222.60 148.95L222.82 148.95L223.03 148.96L223.25 148.96L223.46 148.96L223.68 148.96L223.90 148.97L224.11 148.97L224.33 148.97L224.54 148.97L224.76 148.98L224.97 148.98L225.19 148.98L225.40 148.98L225.62 148.98L225.84 148.99L226.05 148.99L226.27 148.99L226.48 148.99L226.70 148.99L226.91 148.99L227.13 149.00L227.34 149.00L227.56 149.00L227.78 149.00L227.99 149.00L228.21 149.00L228.42 149.00L228.64 149.00L228.85 149.00L229.07 149.00L229.28 149.01L229.50 149.01L229.72 149.01L229.93 149.01L230.15 149.01L230.36 149.01L230.58 149.01L230.79 149.01L231.01 149.01L231.22 149.01L231.44 149.01L231.66 149.01L231.87 149.01L232.09 149.01L232.30 149.01L232.52 149.01L232.73 149.01L232.95 149.01L233.17 149.01L233.38 149.00L233.60 149.00L233.81 149.00L234.03 149.00L234.24 149.00L234.46 149.00L234.67 149.00L234.89 149.00L235.11 149.00L235.32 149.00L235.54 148.99L235.75 148.99L235.97 148.99L236.18 148.99L236.40 148.99L236.61 148.99L236.83 148.98L237.05 148.98L237.26 148.98L237.48 148.98L237.69 148.98L237.91 148.97L238.12 148.97L238.34 148.97L238.55 148.97L238.77 148.96L238.99 148.96L239.20 148.96L239.42 148.96L239.63 148.95L239.85 148.95L240.06 148.95L240.28 148.94L240.49 148.94L240.71 148.94L240.93 148.93L241.14 148.93L241.36 148.93L241.57 148.92L241.79 148.92L242.00 148.92L242.22 148.91L242.43 148.91L242.65 148.91L242.87 148.90L243.08 148.90L243.30 148.89L243.51 148.89L243.73 148.88L243.94 148.88L244.16 148.88L244.37 148.87L244.59 148.87L244.81 148.86L245.02 148.86L245.24 148.85L245.45 148.85L245.67 148.84L245.88 148.84L246.10 148.83L246.31 148.83L246.53 148.82L246.75 148.82L246.96 148.81L247.18 148.81L247.39 148.80L247.61 148.80L247.82 148.79L248.04 148.78L248.25 148.78L248.47 148.77L248.69 148.77L248.90 148.76L249.12 148.75L249.33 148.75L249.55 148.74L249.76 148.73L249.98 148.73L250.19 148.72L250.41 148.72L250.63 148.71L250.84 148.70L251.06 148.69L251.27 148.69L251.49 148.68L251.70 148.67L251.92 148.67L252.13 148.66L252.35 148.65L252.57 148.64L252.78 148.64L253.00 148.63L253.21 148.62L253.43 148.61L253.64 148.61L253.86 148.60L254.08 148.59L254.29 148.58L254.51 148.57L254.72 148.57L254.94 148.56L255.15 148.55L255.37 148.54L255.58 148.53L255.80 148.52L256.02 148.52L256.23 148.51L256.45 148.50L256.66 148.49L256.88 148.48L257.09 148.47L257.31 148.46L257.52 148.45L257.74 148.44L257.96 148.43L258.17 148.42L258.39 148.41L258.60 148.40L258.82 148.39L259.03 148.38L259.25 148.37L259.46 148.36L259.68 148.35L259.90 148.34L260.11 148.33L260.33 148.32L260.54 148.31L260.76 148.30L260.97 148.29L261.19 148.28L261.40 148.27L261.62 148.26L261.84 148.25L262.05 148.24L262.27 148.23L262.48 148.22L262.70 148.20L262.91 148.19L263.13 148.18L263.34 148.17L263.56 148.16L263.78 148.15L263.99 148.13L264.21 148.12L264.42 148.11L264.64 148.10L264.85 148.09L265.07 148.07L265.28 148.06L265.50 148.05L265.72 148.04L265.93 148.02L266.15 148.01L266.36 148.00L266.58 147.99L266.79 147.97L267.01 147.96L267.22 147.95L267.44 147.93L267.66 147.92L267.87 147.91L268.09 147.89L268.30 147.88L268.52 147.86L268.73 147.85L268.95 147.84L269.16 147.82L269.38 147.81L269.60 147.79L269.81 147.78L270.03 147.77L270.24 147.75L270.46 147.74L270.67 147.72L270.89 147.71L271.10 147.69L271.32 147.68L271.54 147.66L271.75 147.65L271.97 147.63L272.18 147.62L272.40 147.60L272.61 147.58L272.83 147.57L273.04 147.55L273.26 147.54L273.48 147.52L273.69 147.51L273.91 147.49L274.12 147.47L274.34 147.46L274.55 147.44L274.77 147.42L274.99 147.41L275.20 147.39L275.42 147.37L275.63 147.36L275.85 147.34L276.06 147.32L276.28 147.30L276.49 147.29L276.71 147.27L276.93 147.25L277.14 147.23L277.36 147.22L277.57 147.20L277.79 147.18L278.00 147.16L278.22 147.14L278.43 147.12L278.65 147.11L278.87 147.09L279.08 147.07L279.30 147.05L279.51 147.03L279.73 147.01L279.94 146.99L280.16 146.97L280.37 146.95L280.59 146.93L280.81 146.91L281.02 146.89L281.24 146.87L281.45 146.85L281.67 146.83L281.88 146.81L282.10 146.79L282.31 146.77L282.53 146.75L282.75 146.73L282.96 146.71L283.18 146.69L283.39 146.67L283.61 146.65L283.82 146.63L284.04 146.61L284.25 146.58L284.47 146.56L284.69 146.54L284.90 146.52L285.12 146.50L285.33 146.47L285.55 146.45L285.76 146.43L285.98 146.41L286.19 146.38L286.41 146.36L286.63 146.34L286.84 146.32L287.06 146.29L287.27 146.27L287.49 146.25L287.70 146.22L287.92 146.20L288.13 146.17L288.35 146.15L288.57 146.13L288.78 146.10L289.00 146.08L289.21 146.05L289.43 146.03L289.64 146.00L289.86 145.98L290.07 145.95L290.29 145.93L290.51 145.90L290.72 145.88L290.94 145.85L291.15 145.83L291.37 145.80L291.58 145.77L291.80 145.75L292.01 145.72L292.23 145.70L292.45 145.67L292.66 145.64L292.88 145.62L293.09 145.59L293.31 145.56L293.52 145.53L293.74 145.51L293.95 145.48L294.17 145.45L294.39 145.42L294.60 145.40L294.82 145.37L295.03 145.34L295.25 145.31L295.46 145.28L295.68 145.25L295.89 145.22L296.11 145.19L296.33 145.17L296.54 145.14L296.76 145.11L296.97 145.08L297.19 145.05L297.40 145.02L297.62 144.99L297.84 144.96L298.05 144.93L298.27 144.89L298.48 144.86L298.70 144.83L298.91 144.80L299.13 144.77L299.34 144.74L299.56 144.71L299.78 144.67L299.99 144.64L300.21 144.61L300.42 144.58L300.64 144.55L300.85 144.51L301.07 144.48L301.28 144.45L301.50 144.41L301.72 144.38L301.93 144.35L302.15 144.31L302.36 144.28L302.58 144.24L302.79 144.21L303.01 144.17L303.22 144.14L303.44 144.10L303.66 144.07L303.87 144.03L304.09 144.00L304.30 143.96L304.52 143.93L304.73 143.89L304.95 143.85L305.16 143.82L305.38 143.78L305.60 143.74L305.81 143.71L306.03 143.67L306.24 143.63L306.46 143.59L306.67 143.56L306.89 143.52L307.10 143.48L307.32 143.44L307.54 143.40L307.75 143.36L307.97 143.32L308.18 143.28L308.40 143.24L308.61 143.21L308.83 143.16L309.04 143.12L309.26 143.08L309.48 143.04L309.69 143.00L309.91 142.96L310.12 142.92L310.34 142.88L310.55 142.84L310.77 142.79L310.98 142.75L311.20 142.71L311.42 142.67L311.63 142.62L311.85 142.58L312.06 142.54L312.28 142.49L312.49 142.45L312.71 142.40L312.92 142.36L313.14 142.31L313.36 142.27L313.57 142.22L313.79 142.18L314.00 142.13L314.22 142.09L314.43 142.04L314.65 141.99L314.86 141.95L315.08 141.90L315.30 141.85L315.51 141.80L315.73 141.76L315.94 141.71L316.16 141.66L316.37 141.61L316.59 141.56L316.80 141.51L317.02 141.46L317.24 141.41L317.45 141.36L317.67 141.31L317.88 141.26L318.10 141.21L318.31 141.16L318.53 141.11L318.75 141.06L318.96 141.00L319.18 140.95L319.39 140.90L319.61 140.85L319.82 140.79L320.04 140.74L320.25 140.68L320.47 140.63L320.69 140.57L320.90 140.52L321.12 140.46L321.33 140.41L321.55 140.35L321.76 140.30L321.98 140.24L322.19 140.18L322.41 140.12L322.63 140.07L322.84 140.01L323.06 139.95L323.27 139.89L323.49 139.83L323.70 139.77L323.92 139.71L324.13 139.65L324.35 139.59L324.57 139.53L324.78 139.47L325.00 139.41L325.21 139.34L325.43 139.28L325.64 139.22L325.86 139.16L326.07 139.09L326.29 139.03L326.51 138.96L326.72 138.90L326.94 138.83L327.15 138.77L327.37 138.70L327.58 138.63L327.80 138.57L328.01 138.50L328.23 138.43L328.45 138.36L328.66 138.30L328.88 138.23L329.09 138.16L329.31 138.09L329.52 138.02L329.74 137.94L329.95 137.87L330.17 137.80L330.39 137.73L330.60 137.66L330.82 137.58L331.03 137.51L331.25 137.43L331.46 137.36L331.68 137.28L331.89 137.21L332.11 137.13L332.33 137.06L332.54 136.98L332.76 136.90L332.97 136.82L333.19 136.74L333.40 136.66L333.62 136.58L333.83 136.50L334.05 136.42L334.27 136.34L334.48 136.26L334.70 136.18L334.91 136.09L335.13 136.01L335.34 135.92L335.56 135.84L335.77 135.75L335.99 135.67L336.21 135.58L336.42 135.49L336.64 135.40L336.85 135.31L337.07 135.22L337.28 135.13L337.50 135.04L337.71 134.95L337.93 134.86L338.15 134.77L338.36 134.67L338.58 134.58L338.79 134.49L339.01 134.39L339.22 134.29L339.44 134.20L339.66 134.10L339.87 134.00L340.09 133.90L340.30 133.80L340.52 133.70L340.73 133.60L340.95 133.50L341.16 133.39L341.38 133.29L341.60 133.19L341.81 133.08L342.03 132.97L342.24 132.87L342.46 132.76L342.67 132.65L342.89 132.54L343.10 132.43L343.32 132.32L343.54 132.21L343.75 132.09L343.97 131.98L344.18 131.86L344.40 131.75L344.61 131.63L344.83 131.51L345.04 131.39L345.26 131.27L345.48 131.15L345.69 131.03L345.91 130.91L346.12 130.78L346.34 130.66L346.55 130.53L346.77 130.41L346.98 130.28L347.20 130.15L347.42 130.02L347.63 129.89L347.85 129.75L348.06 129.62L348.28 129.49L348.49 129.35L348.71 129.21L348.92 129.07L349.14 128.93L349.36 128.79L349.57 128.65L349.79 128.51L350.00 128.36L350.22 128.21L350.43 128.07L350.65 127.92L350.86 127.77L351.08 127.61L351.30 127.46L351.51 127.31L351.73 127.15L351.94 126.99L352.16 126.83L352.37 126.67L352.59 126.51L352.80 126.34L353.02 126.18L353.24 126.01L353.45 125.84L353.67 125.67L353.88 125.50L354.10 125.32L354.31 125.15L354.53 124.97L354.74 124.79L354.96 124.61L355.18 124.42L355.39 124.24L355.61 124.05L355.82 123.86L356.04 123.67L356.25 123.48L356.47 123.28L356.68 123.08L356.90 122.88L357.12 122.68L357.33 122.48L357.55 122.27L357.76 122.06L357.98 121.85L358.19 121.63L358.41 121.42L358.62 121.20L358.84 120.98L359.06 120.75L359.27 120.53L359.49 120.30L359.70 120.06L359.92 119.83L360.13 119.59L360.35 119.35L360.56 119.11L360.78 118.86L361.00 118.61L361.21 118.36L361.43 118.10L361.64 117.84L361.86 117.58L362.07 117.31L362.29 117.04L362.51 116.77L362.72 116.49L362.94 116.21L363.15 115.92L363.37 115.63L363.58 115.34L363.80 115.04L364.01 114.74L364.23 114.44L364.45 114.13L364.66 113.81L364.88 113.49L365.09 113.17L365.31 112.84L365.52 112.51L365.74 112.17L365.95 111.83L366.17 111.48L366.39 111.12L366.60 110.76L366.82 110.40L367.03 110.03L367.25 109.65L367.46 109.27L367.68 108.88L367.89 108.48L368.11 108.08L368.33 107.67L368.54 107.25L368.76 106.83L368.97 106.39L369.19 105.95L369.40 105.51L369.62 105.05L369.83 104.59L370.05 104.11L370.27 103.63L370.48 103.14L370.70 102.64L370.91 102.13L371.13 101.61L371.34 101.08L371.56 100.54L371.77 99.99L371.99 99.42L372.21 98.85L372.42 98.26L372.64 97.66L372.85 97.04L373.07 96.42L373.28 95.77L373.50 95.12L373.71 94.44L373.93 93.76L374.15 93.05L374.36 92.33L374.58 91.59L374.79 90.83L375.01 90.05L375.22 89.25L375.44 88.43L375.65 87.59L375.87 86.73L376.09 85.84L376.30 84.92L376.52 83.98L376.73 83.01L376.95 82.02L377.16 80.99L377.38 79.93L377.59 78.83L377.81 77.70L378.03 76.53L378.24 75.33L378.46 74.07L378.67 72.78L378.89 71.44L379.10 70.05L379.32 68.60L379.53 67.10L379.75 65.53L379.97 63.90L380.18 62.21L380.40 60.43L380.61 58.58L380.83 56.64L381.04 54.61L381.26 52.48L381.47 50.24L381.69 47.87L381.91 45.38L382.12 42.75L382.34 39.96L382.55 37.00L382.77 33.85L382.98 30.49L383.20 26.89L383.42 23.03L383.63 18.87L383.85 14.37L383.97 11.50" fill="none" stroke="#000" stroke-width="1.3" stroke-linejoin="round"/>
<path d="M69.55 187.6v-7M69.55 11.5v7M123.44 187.6v-7M123.44 11.5v7M177.33 187.6v-7M177.33 11.5v7M231.22 187.6v-7M231.22 11.5v7M285.12 187.6v-7M285.12 11.5v7M339.01 187.6v-7M339.01 11.5v7M392.90 187.6v-7M392.90 11.5v7M69.55 187.60h7M392.9 187.60h-7M69.55 152.38h7M392.9 152.38h-7M69.55 117.16h7M392.9 117.16h-7M69.55 81.94h7M392.9 81.94h-7M69.55 46.72h7M392.9 46.72h-7M69.55 11.50h7M392.9 11.50h-7" stroke="#000" stroke-width="1" fill="none"/>
<rect x="69.55" y="11.5" width="323.35" height="176.10" fill="none" stroke="#000" stroke-width="1.1"/>
<path d="M58.50 205.70H70.75" stroke="#000" stroke-width="0.95" fill="none"/><text transform="translate(81.82 211.00) scale(1 1.11)" text-anchor="end" font-size="19.0" >3</text>
<path d="M112.39 205.70H124.64" stroke="#000" stroke-width="0.95" fill="none"/><text transform="translate(135.72 211.00) scale(1 1.11)" text-anchor="end" font-size="19.0" >2</text>
<path d="M166.28 205.70H178.53" stroke="#000" stroke-width="0.95" fill="none"/><text transform="translate(189.61 211.00) scale(1 1.11)" text-anchor="end" font-size="19.0" >1</text>
<text transform="translate(231.22 211.00) scale(1 1.11)" text-anchor="middle" font-size="19.0" >0</text>
<text transform="translate(285.12 211.00) scale(1 1.11)" text-anchor="middle" font-size="19.0" >1</text>
<text transform="translate(339.01 211.00) scale(1 1.11)" text-anchor="middle" font-size="19.0" >2</text>
<text transform="translate(392.90 211.00) scale(1 1.11)" text-anchor="middle" font-size="19.0" >3</text>
<text transform="translate(59.15 192.60) scale(1 1.11)" text-anchor="end" font-size="19.0" >0</text>
<text transform="translate(59.15 157.38) scale(1 1.11)" text-anchor="end" font-size="19.0" >0.1</text>
<text transform="translate(59.15 122.16) scale(1 1.11)" text-anchor="end" font-size="19.0" >0.2</text>
<text transform="translate(59.15 86.94) scale(1 1.11)" text-anchor="end" font-size="19.0" >0.3</text>
<text transform="translate(59.15 51.72) scale(1 1.11)" text-anchor="end" font-size="19.0" >0.4</text>
<text transform="translate(59.15 16.50) scale(1 1.11)" text-anchor="end" font-size="19.0" >0.5</text>
<rect x="495.95" y="142.57" width="5.70" height="5.70" fill="#9400d3"/>
<rect x="499.39" y="154.68" width="5.70" height="5.70" fill="#9400d3"/>
<rect x="502.83" y="160.00" width="5.70" height="5.70" fill="#9400d3"/>
<rect x="506.28" y="163.22" width="5.70" height="5.70" fill="#9400d3"/>
<rect x="509.72" y="165.31" width="5.70" height="5.70" fill="#9400d3"/>
<rect x="513.16" y="166.53" width="5.70" height="5.70" fill="#9400d3"/>
<rect x="516.60" y="166.97" width="5.70" height="5.70" fill="#9400d3"/>
<rect x="523.49" y="94.37" width="5.70" height="5.70" fill="#9400d3"/>
<rect x="526.93" y="132.72" width="5.70" height="5.70" fill="#9400d3"/>
<rect x="530.37" y="144.31" width="5.70" height="5.70" fill="#9400d3"/>
<rect x="533.81" y="149.80" width="5.70" height="5.70" fill="#9400d3"/>
<rect x="537.25" y="154.50" width="5.70" height="5.70" fill="#9400d3"/>
<rect x="540.70" y="157.82" width="5.70" height="5.70" fill="#9400d3"/>
<rect x="544.14" y="159.73" width="5.70" height="5.70" fill="#9400d3"/>
<rect x="547.58" y="161.04" width="5.70" height="5.70" fill="#9400d3"/>
<rect x="551.02" y="162.09" width="5.70" height="5.70" fill="#9400d3"/>
<rect x="554.46" y="163.06" width="5.70" height="5.70" fill="#9400d3"/>
<rect x="557.91" y="164.04" width="5.70" height="5.70" fill="#9400d3"/>
<rect x="561.35" y="164.83" width="5.70" height="5.70" fill="#9400d3"/>
<rect x="564.79" y="165.44" width="5.70" height="5.70" fill="#9400d3"/>
<rect x="568.23" y="166.05" width="5.70" height="5.70" fill="#9400d3"/>
<rect x="571.67" y="166.66" width="5.70" height="5.70" fill="#9400d3"/>
<rect x="575.12" y="167.14" width="5.70" height="5.70" fill="#9400d3"/>
<rect x="578.56" y="167.50" width="5.70" height="5.70" fill="#9400d3"/>
<rect x="582.00" y="167.85" width="5.70" height="5.70" fill="#9400d3"/>
<rect x="585.44" y="168.20" width="5.70" height="5.70" fill="#9400d3"/>
<rect x="588.88" y="168.55" width="5.70" height="5.70" fill="#9400d3"/>
<rect x="592.33" y="168.87" width="5.70" height="5.70" fill="#9400d3"/>
<rect x="595.77" y="169.09" width="5.70" height="5.70" fill="#9400d3"/>
<rect x="599.21" y="169.32" width="5.70" height="5.70" fill="#9400d3"/>
<rect x="602.65" y="169.55" width="5.70" height="5.70" fill="#9400d3"/>
<rect x="606.09" y="169.77" width="5.70" height="5.70" fill="#9400d3"/>
<rect x="609.54" y="170.00" width="5.70" height="5.70" fill="#9400d3"/>
<rect x="612.98" y="170.23" width="5.70" height="5.70" fill="#9400d3"/>
<rect x="616.42" y="170.45" width="5.70" height="5.70" fill="#9400d3"/>
<rect x="619.86" y="170.51" width="5.70" height="5.70" fill="#9400d3"/>
<rect x="623.30" y="170.56" width="5.70" height="5.70" fill="#9400d3"/>
<rect x="626.75" y="170.61" width="5.70" height="5.70" fill="#9400d3"/>
<rect x="630.19" y="170.66" width="5.70" height="5.70" fill="#9400d3"/>
<rect x="633.63" y="170.71" width="5.70" height="5.70" fill="#9400d3"/>
<rect x="637.07" y="170.77" width="5.70" height="5.70" fill="#9400d3"/>
<rect x="640.51" y="170.82" width="5.70" height="5.70" fill="#9400d3"/>
<rect x="643.96" y="170.87" width="5.70" height="5.70" fill="#9400d3"/>
<rect x="647.40" y="170.92" width="5.70" height="5.70" fill="#9400d3"/>
<rect x="650.84" y="170.98" width="5.70" height="5.70" fill="#9400d3"/>
<rect x="654.28" y="170.92" width="5.70" height="5.70" fill="#9400d3"/>
<rect x="657.72" y="170.87" width="5.70" height="5.70" fill="#9400d3"/>
<rect x="661.17" y="170.82" width="5.70" height="5.70" fill="#9400d3"/>
<rect x="664.61" y="170.77" width="5.70" height="5.70" fill="#9400d3"/>
<rect x="668.05" y="170.71" width="5.70" height="5.70" fill="#9400d3"/>
<rect x="671.49" y="170.66" width="5.70" height="5.70" fill="#9400d3"/>
<rect x="674.93" y="170.61" width="5.70" height="5.70" fill="#9400d3"/>
<rect x="678.38" y="170.56" width="5.70" height="5.70" fill="#9400d3"/>
<rect x="681.82" y="170.51" width="5.70" height="5.70" fill="#9400d3"/>
<rect x="685.26" y="170.45" width="5.70" height="5.70" fill="#9400d3"/>
<rect x="688.70" y="170.30" width="5.70" height="5.70" fill="#9400d3"/>
<rect x="692.14" y="170.14" width="5.70" height="5.70" fill="#9400d3"/>
<rect x="695.59" y="169.99" width="5.70" height="5.70" fill="#9400d3"/>
<rect x="699.03" y="169.83" width="5.70" height="5.70" fill="#9400d3"/>
<rect x="702.47" y="169.68" width="5.70" height="5.70" fill="#9400d3"/>
<rect x="705.91" y="169.52" width="5.70" height="5.70" fill="#9400d3"/>
<rect x="709.35" y="169.37" width="5.70" height="5.70" fill="#9400d3"/>
<rect x="712.80" y="169.21" width="5.70" height="5.70" fill="#9400d3"/>
<rect x="716.24" y="169.06" width="5.70" height="5.70" fill="#9400d3"/>
<rect x="719.68" y="168.83" width="5.70" height="5.70" fill="#9400d3"/>
<rect x="723.12" y="168.59" width="5.70" height="5.70" fill="#9400d3"/>
<rect x="726.56" y="168.36" width="5.70" height="5.70" fill="#9400d3"/>
<rect x="730.01" y="168.10" width="5.70" height="5.70" fill="#9400d3"/>
<rect x="733.45" y="167.84" width="5.70" height="5.70" fill="#9400d3"/>
<rect x="736.89" y="167.58" width="5.70" height="5.70" fill="#9400d3"/>
<rect x="740.33" y="167.32" width="5.70" height="5.70" fill="#9400d3"/>
<rect x="743.77" y="166.87" width="5.70" height="5.70" fill="#9400d3"/>
<rect x="747.22" y="166.42" width="5.70" height="5.70" fill="#9400d3"/>
<rect x="750.66" y="165.97" width="5.70" height="5.70" fill="#9400d3"/>
<rect x="754.10" y="165.19" width="5.70" height="5.70" fill="#9400d3"/>
<rect x="757.54" y="164.27" width="5.70" height="5.70" fill="#9400d3"/>
<rect x="760.98" y="162.61" width="5.70" height="5.70" fill="#9400d3"/>
<rect x="764.43" y="160.95" width="5.70" height="5.70" fill="#9400d3"/>
<rect x="767.87" y="158.51" width="5.70" height="5.70" fill="#9400d3"/>
<rect x="771.31" y="155.46" width="5.70" height="5.70" fill="#9400d3"/>
<rect x="774.75" y="150.58" width="5.70" height="5.70" fill="#9400d3"/>
<rect x="778.19" y="130.10" width="5.70" height="5.70" fill="#9400d3"/>
<rect x="781.64" y="165.83" width="5.70" height="5.70" fill="#9400d3"/>
<rect x="785.08" y="165.22" width="5.70" height="5.70" fill="#9400d3"/>
<rect x="788.52" y="164.09" width="5.70" height="5.70" fill="#9400d3"/>
<rect x="791.96" y="162.17" width="5.70" height="5.70" fill="#9400d3"/>
<rect x="795.40" y="159.12" width="5.70" height="5.70" fill="#9400d3"/>
<rect x="798.85" y="156.07" width="5.70" height="5.70" fill="#9400d3"/>
<rect x="802.29" y="152.76" width="5.70" height="5.70" fill="#9400d3"/>
<rect x="805.73" y="139.69" width="5.70" height="5.70" fill="#9400d3"/>
<circle cx="498.80" cy="53.12" r="2.7" fill="#009e73"/>
<circle cx="502.24" cy="93.45" r="2.7" fill="#009e73"/>
<circle cx="505.68" cy="110.54" r="2.7" fill="#009e73"/>
<circle cx="509.13" cy="119.58" r="2.7" fill="#009e73"/>
<circle cx="512.57" cy="126.40" r="2.7" fill="#009e73"/>
<circle cx="516.01" cy="131.40" r="2.7" fill="#009e73"/>
<circle cx="519.45" cy="134.96" r="2.7" fill="#009e73"/>
<circle cx="522.89" cy="137.93" r="2.7" fill="#009e73"/>
<circle cx="526.34" cy="139.81" r="2.7" fill="#009e73"/>
<circle cx="529.78" cy="141.82" r="2.7" fill="#009e73"/>
<circle cx="533.22" cy="143.62" r="2.7" fill="#009e73"/>
<circle cx="536.66" cy="144.87" r="2.7" fill="#009e73"/>
<circle cx="540.10" cy="146.12" r="2.7" fill="#009e73"/>
<circle cx="543.55" cy="146.87" r="2.7" fill="#009e73"/>
<circle cx="546.99" cy="148.27" r="2.7" fill="#009e73"/>
<circle cx="550.43" cy="148.53" r="2.7" fill="#009e73"/>
<circle cx="553.87" cy="149.65" r="2.7" fill="#009e73"/>
<circle cx="557.31" cy="150.25" r="2.7" fill="#009e73"/>
<circle cx="560.76" cy="150.96" r="2.7" fill="#009e73"/>
<circle cx="564.20" cy="151.29" r="2.7" fill="#009e73"/>
<circle cx="567.64" cy="151.82" r="2.7" fill="#009e73"/>
<circle cx="571.08" cy="152.45" r="2.7" fill="#009e73"/>
<circle cx="574.52" cy="152.93" r="2.7" fill="#009e73"/>
<circle cx="577.97" cy="153.17" r="2.7" fill="#009e73"/>
<circle cx="581.41" cy="153.45" r="2.7" fill="#009e73"/>
<circle cx="584.85" cy="154.05" r="2.7" fill="#009e73"/>
<circle cx="588.29" cy="154.16" r="2.7" fill="#009e73"/>
<circle cx="591.73" cy="154.31" r="2.7" fill="#009e73"/>
<circle cx="595.18" cy="154.85" r="2.7" fill="#009e73"/>
<circle cx="598.62" cy="155.21" r="2.7" fill="#009e73"/>
<circle cx="602.06" cy="155.42" r="2.7" fill="#009e73"/>
<circle cx="605.50" cy="155.34" r="2.7" fill="#009e73"/>
<circle cx="608.94" cy="155.55" r="2.7" fill="#009e73"/>
<circle cx="612.39" cy="155.55" r="2.7" fill="#009e73"/>
<circle cx="615.83" cy="155.75" r="2.7" fill="#009e73"/>
<circle cx="619.27" cy="156.22" r="2.7" fill="#009e73"/>
<circle cx="622.71" cy="156.36" r="2.7" fill="#009e73"/>
<circle cx="626.15" cy="156.43" r="2.7" fill="#009e73"/>
<circle cx="629.60" cy="156.55" r="2.7" fill="#009e73"/>
<circle cx="633.04" cy="156.35" r="2.7" fill="#009e73"/>
<circle cx="636.48" cy="156.33" r="2.7" fill="#009e73"/>
<circle cx="639.92" cy="156.36" r="2.7" fill="#009e73"/>
<circle cx="643.36" cy="156.75" r="2.7" fill="#009e73"/>
<circle cx="646.81" cy="156.45" r="2.7" fill="#009e73"/>
<circle cx="650.25" cy="156.76" r="2.7" fill="#009e73"/>
<circle cx="653.69" cy="156.71" r="2.7" fill="#009e73"/>
<circle cx="657.13" cy="156.54" r="2.7" fill="#009e73"/>
<circle cx="660.57" cy="156.87" r="2.7" fill="#009e73"/>
<circle cx="664.02" cy="156.84" r="2.7" fill="#009e73"/>
<circle cx="667.46" cy="156.40" r="2.7" fill="#009e73"/>
<circle cx="670.90" cy="156.64" r="2.7" fill="#009e73"/>
<circle cx="674.34" cy="156.54" r="2.7" fill="#009e73"/>
<circle cx="677.78" cy="156.34" r="2.7" fill="#009e73"/>
<circle cx="681.23" cy="156.20" r="2.7" fill="#009e73"/>
<circle cx="684.67" cy="156.46" r="2.7" fill="#009e73"/>
<circle cx="688.11" cy="156.17" r="2.7" fill="#009e73"/>
<circle cx="691.55" cy="155.98" r="2.7" fill="#009e73"/>
<circle cx="694.99" cy="155.81" r="2.7" fill="#009e73"/>
<circle cx="698.44" cy="155.80" r="2.7" fill="#009e73"/>
<circle cx="701.88" cy="155.42" r="2.7" fill="#009e73"/>
<circle cx="705.32" cy="155.02" r="2.7" fill="#009e73"/>
<circle cx="708.76" cy="155.12" r="2.7" fill="#009e73"/>
<circle cx="712.20" cy="154.80" r="2.7" fill="#009e73"/>
<circle cx="715.65" cy="154.79" r="2.7" fill="#009e73"/>
<circle cx="719.09" cy="154.43" r="2.7" fill="#009e73"/>
<circle cx="722.53" cy="153.90" r="2.7" fill="#009e73"/>
<circle cx="725.97" cy="153.90" r="2.7" fill="#009e73"/>
<circle cx="729.41" cy="153.07" r="2.7" fill="#009e73"/>
<circle cx="732.86" cy="152.66" r="2.7" fill="#009e73"/>
<circle cx="736.30" cy="152.74" r="2.7" fill="#009e73"/>
<circle cx="739.74" cy="151.74" r="2.7" fill="#009e73"/>
<circle cx="743.18" cy="151.59" r="2.7" fill="#009e73"/>
<circle cx="746.62" cy="150.76" r="2.7" fill="#009e73"/>
<circle cx="750.07" cy="150.15" r="2.7" fill="#009e73"/>
<circle cx="753.51" cy="149.77" r="2.7" fill="#009e73"/>
<circle cx="756.95" cy="148.75" r="2.7" fill="#009e73"/>
<circle cx="760.39" cy="147.91" r="2.7" fill="#009e73"/>
<circle cx="763.83" cy="146.84" r="2.7" fill="#009e73"/>
<circle cx="767.28" cy="146.16" r="2.7" fill="#009e73"/>
<circle cx="770.72" cy="144.56" r="2.7" fill="#009e73"/>
<circle cx="774.16" cy="142.98" r="2.7" fill="#009e73"/>
<circle cx="777.60" cy="141.57" r="2.7" fill="#009e73"/>
<circle cx="781.04" cy="139.76" r="2.7" fill="#009e73"/>
<circle cx="784.49" cy="36.65" r="2.7" fill="#009e73"/>
<circle cx="787.93" cy="134.69" r="2.7" fill="#009e73"/>
<circle cx="791.37" cy="131.31" r="2.7" fill="#009e73"/>
<circle cx="794.81" cy="126.24" r="2.7" fill="#009e73"/>
<circle cx="798.25" cy="119.80" r="2.7" fill="#009e73"/>
<circle cx="801.70" cy="110.31" r="2.7" fill="#009e73"/>
<circle cx="805.14" cy="94.39" r="2.7" fill="#009e73"/>
<circle cx="808.58" cy="52.21" r="2.7" fill="#009e73"/>
<path d="M495.80 46.65L501.80 46.65L498.80 42.15Z" fill="#56b4e9"/>
<path d="M499.24 91.11L505.24 91.11L502.24 86.61Z" fill="#56b4e9"/>
<path d="M502.68 107.40L508.68 107.40L505.68 102.90Z" fill="#56b4e9"/>
<path d="M506.13 117.94L512.13 117.94L509.13 113.44Z" fill="#56b4e9"/>
<path d="M509.57 125.42L515.57 125.42L512.57 120.92Z" fill="#56b4e9"/>
<path d="M513.01 129.46L519.01 129.46L516.01 124.96Z" fill="#56b4e9"/>
<path d="M516.45 134.13L522.45 134.13L519.45 129.63Z" fill="#56b4e9"/>
<path d="M519.89 136.98L525.89 136.98L522.89 132.48Z" fill="#56b4e9"/>
<path d="M523.34 139.12L529.34 139.12L526.34 134.62Z" fill="#56b4e9"/>
<path d="M526.78 141.33L532.78 141.33L529.78 136.83Z" fill="#56b4e9"/>
<path d="M530.22 143.15L536.22 143.15L533.22 138.65Z" fill="#56b4e9"/>
<path d="M533.66 144.62L539.66 144.62L536.66 140.12Z" fill="#56b4e9"/>
<path d="M537.10 146.12L543.10 146.12L540.10 141.62Z" fill="#56b4e9"/>
<path d="M540.55 147.41L546.55 147.41L543.55 142.91Z" fill="#56b4e9"/>
<path d="M543.99 148.55L549.99 148.55L546.99 144.05Z" fill="#56b4e9"/>
<path d="M547.43 149.56L553.43 149.56L550.43 145.06Z" fill="#56b4e9"/>
<path d="M550.87 149.94L556.87 149.94L553.87 145.44Z" fill="#56b4e9"/>
<path d="M554.31 150.68L560.31 150.68L557.31 146.18Z" fill="#56b4e9"/>
<path d="M557.76 151.51L563.76 151.51L560.76 147.01Z" fill="#56b4e9"/>
<path d="M561.20 152.01L567.20 152.01L564.20 147.51Z" fill="#56b4e9"/>
<path d="M564.64 152.83L570.64 152.83L567.64 148.33Z" fill="#56b4e9"/>
<path d="M568.08 153.41L574.08 153.41L571.08 148.91Z" fill="#56b4e9"/>
<path d="M571.52 153.81L577.52 153.81L574.52 149.31Z" fill="#56b4e9"/>
<path d="M574.97 153.94L580.97 153.94L577.97 149.44Z" fill="#56b4e9"/>
<path d="M578.41 154.85L584.41 154.85L581.41 150.35Z" fill="#56b4e9"/>
<path d="M581.85 154.93L587.85 154.93L584.85 150.43Z" fill="#56b4e9"/>
<path d="M585.29 155.43L591.29 155.43L588.29 150.93Z" fill="#56b4e9"/>
<path d="M588.73 155.43L594.73 155.43L591.73 150.93Z" fill="#56b4e9"/>
<path d="M592.18 155.96L598.18 155.96L595.18 151.46Z" fill="#56b4e9"/>
<path d="M595.62 156.23L601.62 156.23L598.62 151.73Z" fill="#56b4e9"/>
<path d="M599.06 156.43L605.06 156.43L602.06 151.93Z" fill="#56b4e9"/>
<path d="M602.50 156.56L608.50 156.56L605.50 152.06Z" fill="#56b4e9"/>
<path d="M605.94 156.63L611.94 156.63L608.94 152.13Z" fill="#56b4e9"/>
<path d="M609.39 157.05L615.39 157.05L612.39 152.55Z" fill="#56b4e9"/>
<path d="M612.83 156.94L618.83 156.94L615.83 152.44Z" fill="#56b4e9"/>
<path d="M616.27 157.49L622.27 157.49L619.27 152.99Z" fill="#56b4e9"/>
<path d="M619.71 157.53L625.71 157.53L622.71 153.03Z" fill="#56b4e9"/>
<path d="M623.15 157.74L629.15 157.74L626.15 153.24Z" fill="#56b4e9"/>
<path d="M626.60 157.83L632.60 157.83L629.60 153.33Z" fill="#56b4e9"/>
<path d="M630.04 157.56L636.04 157.56L633.04 153.06Z" fill="#56b4e9"/>
<path d="M633.48 157.66L639.48 157.66L636.48 153.16Z" fill="#56b4e9"/>
<path d="M636.92 158.01L642.92 158.01L639.92 153.51Z" fill="#56b4e9"/>
<path d="M640.36 158.05L646.36 158.05L643.36 153.55Z" fill="#56b4e9"/>
<path d="M643.81 157.96L649.81 157.96L646.81 153.46Z" fill="#56b4e9"/>
<path d="M647.25 157.80L653.25 157.80L650.25 153.30Z" fill="#56b4e9"/>
<path d="M650.69 157.77L656.69 157.77L653.69 153.27Z" fill="#56b4e9"/>
<path d="M654.13 157.80L660.13 157.80L657.13 153.30Z" fill="#56b4e9"/>
<path d="M657.57 157.87L663.57 157.87L660.57 153.37Z" fill="#56b4e9"/>
<path d="M661.02 158.08L667.02 158.08L664.02 153.58Z" fill="#56b4e9"/>
<path d="M664.46 157.89L670.46 157.89L667.46 153.39Z" fill="#56b4e9"/>
<path d="M667.90 157.95L673.90 157.95L670.90 153.45Z" fill="#56b4e9"/>
<path d="M671.34 157.69L677.34 157.69L674.34 153.19Z" fill="#56b4e9"/>
<path d="M674.78 157.58L680.78 157.58L677.78 153.08Z" fill="#56b4e9"/>
<path d="M678.23 157.69L684.23 157.69L681.23 153.19Z" fill="#56b4e9"/>
<path d="M681.67 157.54L687.67 157.54L684.67 153.04Z" fill="#56b4e9"/>
<path d="M685.11 157.12L691.11 157.12L688.11 152.62Z" fill="#56b4e9"/>
<path d="M688.55 157.39L694.55 157.39L691.55 152.89Z" fill="#56b4e9"/>
<path d="M691.99 156.80L697.99 156.80L694.99 152.30Z" fill="#56b4e9"/>
<path d="M695.44 156.57L701.44 156.57L698.44 152.07Z" fill="#56b4e9"/>
<path d="M698.88 156.33L704.88 156.33L701.88 151.83Z" fill="#56b4e9"/>
<path d="M702.32 156.44L708.32 156.44L705.32 151.94Z" fill="#56b4e9"/>
<path d="M705.76 156.10L711.76 156.10L708.76 151.60Z" fill="#56b4e9"/>
<path d="M709.20 155.82L715.20 155.82L712.20 151.32Z" fill="#56b4e9"/>
<path d="M712.65 155.51L718.65 155.51L715.65 151.01Z" fill="#56b4e9"/>
<path d="M716.09 154.99L722.09 154.99L719.09 150.49Z" fill="#56b4e9"/>
<path d="M719.53 154.82L725.53 154.82L722.53 150.32Z" fill="#56b4e9"/>
<path d="M722.97 154.69L728.97 154.69L725.97 150.19Z" fill="#56b4e9"/>
<path d="M726.41 153.95L732.41 153.95L729.41 149.45Z" fill="#56b4e9"/>
<path d="M729.86 153.74L735.86 153.74L732.86 149.24Z" fill="#56b4e9"/>
<path d="M733.30 153.19L739.30 153.19L736.30 148.69Z" fill="#56b4e9"/>
<path d="M736.74 152.59L742.74 152.59L739.74 148.09Z" fill="#56b4e9"/>
<path d="M740.18 152.49L746.18 152.49L743.18 147.99Z" fill="#56b4e9"/>
<path d="M743.62 151.36L749.62 151.36L746.62 146.86Z" fill="#56b4e9"/>
<path d="M747.07 150.74L753.07 150.74L750.07 146.24Z" fill="#56b4e9"/>
<path d="M750.51 150.10L756.51 150.10L753.51 145.60Z" fill="#56b4e9"/>
<path d="M753.95 149.24L759.95 149.24L756.95 144.74Z" fill="#56b4e9"/>
<path d="M757.39 148.35L763.39 148.35L760.39 143.85Z" fill="#56b4e9"/>
<path d="M760.83 147.50L766.83 147.50L763.83 143.00Z" fill="#56b4e9"/>
<path d="M764.28 146.06L770.28 146.06L767.28 141.56Z" fill="#56b4e9"/>
<path d="M767.72 145.11L773.72 145.11L770.72 140.61Z" fill="#56b4e9"/>
<path d="M771.16 143.20L777.16 143.20L774.16 138.70Z" fill="#56b4e9"/>
<path d="M774.60 141.29L780.60 141.29L777.60 136.79Z" fill="#56b4e9"/>
<path d="M778.04 139.37L784.04 139.37L781.04 134.87Z" fill="#56b4e9"/>
<path d="M781.49 131.94L787.49 131.94L784.49 127.44Z" fill="#56b4e9"/>
<path d="M784.93 133.29L790.93 133.29L787.93 128.79Z" fill="#56b4e9"/>
<path d="M788.37 129.51L794.37 129.51L791.37 125.01Z" fill="#56b4e9"/>
<path d="M791.81 125.40L797.81 125.40L794.81 120.90Z" fill="#56b4e9"/>
<path d="M795.25 117.76L801.25 117.76L798.25 113.26Z" fill="#56b4e9"/>
<path d="M798.70 107.81L804.70 107.81L801.70 103.31Z" fill="#56b4e9"/>
<path d="M802.14 91.35L808.14 91.35L805.14 86.85Z" fill="#56b4e9"/>
<path d="M805.58 47.40L811.58 47.40L808.58 42.90Z" fill="#56b4e9"/>
<path d="M495.80 44.55L501.80 44.55L498.80 49.05Z" fill="#e69f00"/>
<path d="M499.24 88.10L505.24 88.10L502.24 92.60Z" fill="#e69f00"/>
<path d="M502.68 104.74L508.68 104.74L505.68 109.24Z" fill="#e69f00"/>
<path d="M506.13 114.37L512.13 114.37L509.13 118.87Z" fill="#e69f00"/>
<path d="M509.57 121.98L515.57 121.98L512.57 126.48Z" fill="#e69f00"/>
<path d="M513.01 126.33L519.01 126.33L516.01 130.83Z" fill="#e69f00"/>
<path d="M516.45 130.36L522.45 130.36L519.45 134.86Z" fill="#e69f00"/>
<path d="M519.89 133.97L525.89 133.97L522.89 138.47Z" fill="#e69f00"/>
<path d="M523.34 135.79L529.34 135.79L526.34 140.29Z" fill="#e69f00"/>
<path d="M526.78 138.13L532.78 138.13L529.78 142.63Z" fill="#e69f00"/>
<path d="M530.22 139.64L536.22 139.64L533.22 144.14Z" fill="#e69f00"/>
<path d="M533.66 141.36L539.66 141.36L536.66 145.86Z" fill="#e69f00"/>
<path d="M537.10 142.70L543.10 142.70L540.10 147.20Z" fill="#e69f00"/>
<path d="M540.55 144.18L546.55 144.18L543.55 148.68Z" fill="#e69f00"/>
<path d="M543.99 144.89L549.99 144.89L546.99 149.39Z" fill="#e69f00"/>
<path d="M547.43 145.74L553.43 145.74L550.43 150.24Z" fill="#e69f00"/>
<path d="M550.87 146.64L556.87 146.64L553.87 151.14Z" fill="#e69f00"/>
<path d="M554.31 147.70L560.31 147.70L557.31 152.20Z" fill="#e69f00"/>
<path d="M557.76 148.17L563.76 148.17L560.76 152.67Z" fill="#e69f00"/>
<path d="M561.20 148.98L567.20 148.98L564.20 153.48Z" fill="#e69f00"/>
<path d="M564.64 149.79L570.64 149.79L567.64 154.29Z" fill="#e69f00"/>
<path d="M568.08 150.35L574.08 150.35L571.08 154.85Z" fill="#e69f00"/>
<path d="M571.52 150.80L577.52 150.80L574.52 155.30Z" fill="#e69f00"/>
<path d="M574.97 151.15L580.97 151.15L577.97 155.65Z" fill="#e69f00"/>
<path d="M578.41 151.58L584.41 151.58L581.41 156.08Z" fill="#e69f00"/>
<path d="M581.85 151.74L587.85 151.74L584.85 156.24Z" fill="#e69f00"/>
<path d="M585.29 151.96L591.29 151.96L588.29 156.46Z" fill="#e69f00"/>
<path d="M588.73 152.36L594.73 152.36L591.73 156.86Z" fill="#e69f00"/>
<path d="M592.18 152.72L598.18 152.72L595.18 157.22Z" fill="#e69f00"/>
<path d="M595.62 152.84L601.62 152.84L598.62 157.34Z" fill="#e69f00"/>
<path d="M599.06 153.28L605.06 153.28L602.06 157.78Z" fill="#e69f00"/>
<path d="M602.50 153.41L608.50 153.41L605.50 157.91Z" fill="#e69f00"/>
<path d="M605.94 153.44L611.94 153.44L608.94 157.94Z" fill="#e69f00"/>
<path d="M609.39 153.82L615.39 153.82L612.39 158.32Z" fill="#e69f00"/>
<path d="M612.83 154.11L618.83 154.11L615.83 158.61Z" fill="#e69f00"/>
<path d="M616.27 153.85L622.27 153.85L619.27 158.35Z" fill="#e69f00"/>
<path d="M619.71 154.08L625.71 154.08L622.71 158.58Z" fill="#e69f00"/>
<path d="M623.15 154.40L629.15 154.40L626.15 158.90Z" fill="#e69f00"/>
<path d="M626.60 154.49L632.60 154.49L629.60 158.99Z" fill="#e69f00"/>
<path d="M630.04 154.49L636.04 154.49L633.04 158.99Z" fill="#e69f00"/>
<path d="M633.48 154.53L639.48 154.53L636.48 159.03Z" fill="#e69f00"/>
<path d="M636.92 154.79L642.92 154.79L639.92 159.29Z" fill="#e69f00"/>
<path d="M640.36 154.96L646.36 154.96L643.36 159.46Z" fill="#e69f00"/>
<path d="M643.81 154.88L649.81 154.88L646.81 159.38Z" fill="#e69f00"/>
<path d="M647.25 154.58L653.25 154.58L650.25 159.08Z" fill="#e69f00"/>
<path d="M650.69 154.94L656.69 154.94L653.69 159.44Z" fill="#e69f00"/>
<path d="M654.13 154.76L660.13 154.76L657.13 159.26Z" fill="#e69f00"/>
<path d="M657.57 154.88L663.57 154.88L660.57 159.38Z" fill="#e69f00"/>
<path d="M661.02 154.84L667.02 154.84L664.02 159.34Z" fill="#e69f00"/>
<path d="M664.46 154.82L670.46 154.82L667.46 159.32Z" fill="#e69f00"/>
<path d="M667.90 154.63L673.90 154.63L670.90 159.13Z" fill="#e69f00"/>
<path d="M671.34 154.69L677.34 154.69L674.34 159.19Z" fill="#e69f00"/>
<path d="M674.78 154.68L680.78 154.68L677.78 159.18Z" fill="#e69f00"/>
<path d="M678.23 154.54L684.23 154.54L681.23 159.04Z" fill="#e69f00"/>
<path d="M681.67 154.39L687.67 154.39L684.67 158.89Z" fill="#e69f00"/>
<path d="M685.11 154.08L691.11 154.08L688.11 158.58Z" fill="#e69f00"/>
<path d="M688.55 154.18L694.55 154.18L691.55 158.68Z" fill="#e69f00"/>
<path d="M691.99 154.04L697.99 154.04L694.99 158.54Z" fill="#e69f00"/>
<path d="M695.44 153.62L701.44 153.62L698.44 158.12Z" fill="#e69f00"/>
<path d="M698.88 153.44L704.88 153.44L701.88 157.94Z" fill="#e69f00"/>
<path d="M702.32 153.05L708.32 153.05L705.32 157.55Z" fill="#e69f00"/>
<path d="M705.76 153.19L711.76 153.19L708.76 157.69Z" fill="#e69f00"/>
<path d="M709.20 152.73L715.20 152.73L712.20 157.23Z" fill="#e69f00"/>
<path d="M712.65 152.45L718.65 152.45L715.65 156.95Z" fill="#e69f00"/>
<path d="M716.09 152.36L722.09 152.36L719.09 156.86Z" fill="#e69f00"/>
<path d="M719.53 151.46L725.53 151.46L722.53 155.96Z" fill="#e69f00"/>
<path d="M722.97 151.54L728.97 151.54L725.97 156.04Z" fill="#e69f00"/>
<path d="M726.41 151.22L732.41 151.22L729.41 155.72Z" fill="#e69f00"/>
<path d="M729.86 150.55L735.86 150.55L732.86 155.05Z" fill="#e69f00"/>
<path d="M733.30 150.27L739.30 150.27L736.30 154.77Z" fill="#e69f00"/>
<path d="M736.74 149.46L742.74 149.46L739.74 153.96Z" fill="#e69f00"/>
<path d="M740.18 149.07L746.18 149.07L743.18 153.57Z" fill="#e69f00"/>
<path d="M743.62 148.59L749.62 148.59L746.62 153.09Z" fill="#e69f00"/>
<path d="M747.07 147.96L753.07 147.96L750.07 152.46Z" fill="#e69f00"/>
<path d="M750.51 146.74L756.51 146.74L753.51 151.24Z" fill="#e69f00"/>
<path d="M753.95 146.21L759.95 146.21L756.95 150.71Z" fill="#e69f00"/>
<path d="M757.39 144.90L763.39 144.90L760.39 149.40Z" fill="#e69f00"/>
<path d="M760.83 144.09L766.83 144.09L763.83 148.59Z" fill="#e69f00"/>
<path d="M764.28 142.55L770.28 142.55L767.28 147.05Z" fill="#e69f00"/>
<path d="M767.72 141.70L773.72 141.70L770.72 146.20Z" fill="#e69f00"/>
<path d="M771.16 140.21L777.16 140.21L774.16 144.71Z" fill="#e69f00"/>
<path d="M774.60 138.42L780.60 138.42L777.60 142.92Z" fill="#e69f00"/>
<path d="M778.04 135.83L784.04 135.83L781.04 140.33Z" fill="#e69f00"/>
<path d="M781.49 133.49L787.49 133.49L784.49 137.99Z" fill="#e69f00"/>
<path d="M784.93 130.72L790.93 130.72L787.93 135.22Z" fill="#e69f00"/>
<path d="M788.37 127.19L794.37 127.19L791.37 131.69Z" fill="#e69f00"/>
<path d="M791.81 121.55L797.81 121.55L794.81 126.05Z" fill="#e69f00"/>
<path d="M795.25 114.32L801.25 114.32L798.25 118.82Z" fill="#e69f00"/>
<path d="M798.70 104.66L804.70 104.66L801.70 109.16Z" fill="#e69f00"/>
<path d="M802.14 88.24L808.14 88.24L805.14 92.74Z" fill="#e69f00"/>
<path d="M805.58 45.11L811.58 45.11L808.58 49.61Z" fill="#e69f00"/>
<path d="M496.00 46.54L498.80 43.54L501.60 46.54L498.80 49.54Z" fill="#ff0000"/>
<path d="M499.44 89.53L502.24 86.53L505.04 89.53L502.24 92.53Z" fill="#ff0000"/>
<path d="M502.88 107.12L505.68 104.12L508.48 107.12L505.68 110.12Z" fill="#ff0000"/>
<path d="M506.33 117.15L509.13 114.15L511.93 117.15L509.13 120.15Z" fill="#ff0000"/>
<path d="M509.77 123.18L512.57 120.18L515.37 123.18L512.57 126.18Z" fill="#ff0000"/>
<path d="M513.21 127.90L516.01 124.90L518.81 127.90L516.01 130.90Z" fill="#ff0000"/>
<path d="M516.65 132.47L519.45 129.47L522.25 132.47L519.45 135.47Z" fill="#ff0000"/>
<path d="M520.09 134.76L522.89 131.76L525.69 134.76L522.89 137.76Z" fill="#ff0000"/>
<path d="M523.54 137.74L526.34 134.74L529.14 137.74L526.34 140.74Z" fill="#ff0000"/>
<path d="M526.98 139.55L529.78 136.55L532.58 139.55L529.78 142.55Z" fill="#ff0000"/>
<path d="M530.42 141.25L533.22 138.25L536.02 141.25L533.22 144.25Z" fill="#ff0000"/>
<path d="M533.86 142.78L536.66 139.78L539.46 142.78L536.66 145.78Z" fill="#ff0000"/>
<path d="M537.30 144.85L540.10 141.85L542.90 144.85L540.10 147.85Z" fill="#ff0000"/>
<path d="M540.75 145.81L543.55 142.81L546.35 145.81L543.55 148.81Z" fill="#ff0000"/>
<path d="M544.19 146.64L546.99 143.64L549.79 146.64L546.99 149.64Z" fill="#ff0000"/>
<path d="M547.63 147.33L550.43 144.33L553.23 147.33L550.43 150.33Z" fill="#ff0000"/>
<path d="M551.07 148.78L553.87 145.78L556.67 148.78L553.87 151.78Z" fill="#ff0000"/>
<path d="M554.51 149.40L557.31 146.40L560.11 149.40L557.31 152.40Z" fill="#ff0000"/>
<path d="M557.96 149.71L560.76 146.71L563.56 149.71L560.76 152.71Z" fill="#ff0000"/>
<path d="M561.40 150.82L564.20 147.82L567.00 150.82L564.20 153.82Z" fill="#ff0000"/>
<path d="M564.84 151.21L567.64 148.21L570.44 151.21L567.64 154.21Z" fill="#ff0000"/>
<path d="M568.28 151.76L571.08 148.76L573.88 151.76L571.08 154.76Z" fill="#ff0000"/>
<path d="M571.72 152.02L574.52 149.02L577.32 152.02L574.52 155.02Z" fill="#ff0000"/>
<path d="M575.17 152.30L577.97 149.30L580.77 152.30L577.97 155.30Z" fill="#ff0000"/>
<path d="M578.61 153.17L581.41 150.17L584.21 153.17L581.41 156.17Z" fill="#ff0000"/>
<path d="M582.05 153.19L584.85 150.19L587.65 153.19L584.85 156.19Z" fill="#ff0000"/>
<path d="M585.49 153.54L588.29 150.54L591.09 153.54L588.29 156.54Z" fill="#ff0000"/>
<path d="M588.93 153.79L591.73 150.79L594.53 153.79L591.73 156.79Z" fill="#ff0000"/>
<path d="M592.38 154.24L595.18 151.24L597.98 154.24L595.18 157.24Z" fill="#ff0000"/>
<path d="M595.82 154.29L598.62 151.29L601.42 154.29L598.62 157.29Z" fill="#ff0000"/>
<path d="M599.26 154.85L602.06 151.85L604.86 154.85L602.06 157.85Z" fill="#ff0000"/>
<path d="M602.70 155.04L605.50 152.04L608.30 155.04L605.50 158.04Z" fill="#ff0000"/>
<path d="M606.14 155.34L608.94 152.34L611.74 155.34L608.94 158.34Z" fill="#ff0000"/>
<path d="M609.59 155.21L612.39 152.21L615.19 155.21L612.39 158.21Z" fill="#ff0000"/>
<path d="M613.03 155.54L615.83 152.54L618.63 155.54L615.83 158.54Z" fill="#ff0000"/>
<path d="M616.47 155.80L619.27 152.80L622.07 155.80L619.27 158.80Z" fill="#ff0000"/>
<path d="M619.91 155.99L622.71 152.99L625.51 155.99L622.71 158.99Z" fill="#ff0000"/>
<path d="M623.35 155.80L626.15 152.80L628.95 155.80L626.15 158.80Z" fill="#ff0000"/>
<path d="M626.80 155.96L629.60 152.96L632.40 155.96L629.60 158.96Z" fill="#ff0000"/>
<path d="M630.24 155.99L633.04 152.99L635.84 155.99L633.04 158.99Z" fill="#ff0000"/>
<path d="M633.68 156.24L636.48 153.24L639.28 156.24L636.48 159.24Z" fill="#ff0000"/>
<path d="M637.12 156.25L639.92 153.25L642.72 156.25L639.92 159.25Z" fill="#ff0000"/>
<path d="M640.56 156.47L643.36 153.47L646.16 156.47L643.36 159.47Z" fill="#ff0000"/>
<path d="M644.01 156.20L646.81 153.20L649.61 156.20L646.81 159.20Z" fill="#ff0000"/>
<path d="M647.45 156.60L650.25 153.60L653.05 156.60L650.25 159.60Z" fill="#ff0000"/>
<path d="M650.89 156.36L653.69 153.36L656.49 156.36L653.69 159.36Z" fill="#ff0000"/>
<path d="M654.33 156.20L657.13 153.20L659.93 156.20L657.13 159.20Z" fill="#ff0000"/>
<path d="M657.77 156.22L660.57 153.22L663.37 156.22L660.57 159.22Z" fill="#ff0000"/>
<path d="M661.22 156.50L664.02 153.50L666.82 156.50L664.02 159.50Z" fill="#ff0000"/>
<path d="M664.66 156.38L667.46 153.38L670.26 156.38L667.46 159.38Z" fill="#ff0000"/>
<path d="M668.10 155.99L670.90 152.99L673.70 155.99L670.90 158.99Z" fill="#ff0000"/>
<path d="M671.54 156.03L674.34 153.03L677.14 156.03L674.34 159.03Z" fill="#ff0000"/>
<path d="M674.98 155.81L677.78 152.81L680.58 155.81L677.78 158.81Z" fill="#ff0000"/>
<path d="M678.43 155.72L681.23 152.72L684.03 155.72L681.23 158.72Z" fill="#ff0000"/>
<path d="M681.87 155.83L684.67 152.83L687.47 155.83L684.67 158.83Z" fill="#ff0000"/>
<path d="M685.31 155.46L688.11 152.46L690.91 155.46L688.11 158.46Z" fill="#ff0000"/>
<path d="M688.75 155.40L691.55 152.40L694.35 155.40L691.55 158.40Z" fill="#ff0000"/>
<path d="M692.19 155.46L694.99 152.46L697.79 155.46L694.99 158.46Z" fill="#ff0000"/>
<path d="M695.64 155.26L698.44 152.26L701.24 155.26L698.44 158.26Z" fill="#ff0000"/>
<path d="M699.08 155.23L701.88 152.23L704.68 155.23L701.88 158.23Z" fill="#ff0000"/>
<path d="M702.52 154.83L705.32 151.83L708.12 154.83L705.32 157.83Z" fill="#ff0000"/>
<path d="M705.96 154.27L708.76 151.27L711.56 154.27L708.76 157.27Z" fill="#ff0000"/>
<path d="M709.40 154.50L712.20 151.50L715.00 154.50L712.20 157.50Z" fill="#ff0000"/>
<path d="M712.85 153.94L715.65 150.94L718.45 153.94L715.65 156.94Z" fill="#ff0000"/>
<path d="M716.29 153.91L719.09 150.91L721.89 153.91L719.09 156.91Z" fill="#ff0000"/>
<path d="M719.73 153.59L722.53 150.59L725.33 153.59L722.53 156.59Z" fill="#ff0000"/>
<path d="M723.17 152.88L725.97 149.88L728.77 152.88L725.97 155.88Z" fill="#ff0000"/>
<path d="M726.61 152.73L729.41 149.73L732.21 152.73L729.41 155.73Z" fill="#ff0000"/>
<path d="M730.06 152.42L732.86 149.42L735.66 152.42L732.86 155.42Z" fill="#ff0000"/>
<path d="M733.50 151.88L736.30 148.88L739.10 151.88L736.30 154.88Z" fill="#ff0000"/>
<path d="M736.94 151.04L739.74 148.04L742.54 151.04L739.74 154.04Z" fill="#ff0000"/>
<path d="M740.38 150.51L743.18 147.51L745.98 150.51L743.18 153.51Z" fill="#ff0000"/>
<path d="M743.82 150.27L746.62 147.27L749.42 150.27L746.62 153.27Z" fill="#ff0000"/>
<path d="M747.27 149.44L750.07 146.44L752.87 149.44L750.07 152.44Z" fill="#ff0000"/>
<path d="M750.71 148.17L753.51 145.17L756.31 148.17L753.51 151.17Z" fill="#ff0000"/>
<path d="M754.15 147.85L756.95 144.85L759.75 147.85L756.95 150.85Z" fill="#ff0000"/>
<path d="M757.59 146.67L760.39 143.67L763.19 146.67L760.39 149.67Z" fill="#ff0000"/>
<path d="M761.03 145.73L763.83 142.73L766.63 145.73L763.83 148.73Z" fill="#ff0000"/>
<path d="M764.48 144.26L767.28 141.26L770.08 144.26L767.28 147.26Z" fill="#ff0000"/>
<path d="M767.92 143.06L770.72 140.06L773.52 143.06L770.72 146.06Z" fill="#ff0000"/>
<path d="M771.36 141.36L774.16 138.36L776.96 141.36L774.16 144.36Z" fill="#ff0000"/>
<path d="M774.80 139.78L777.60 136.78L780.40 139.78L777.60 142.78Z" fill="#ff0000"/>
<path d="M778.24 138.00L781.04 135.00L783.84 138.00L781.04 141.00Z" fill="#ff0000"/>
<path d="M781.69 135.53L784.49 132.53L787.29 135.53L784.49 138.53Z" fill="#ff0000"/>
<path d="M785.13 132.59L787.93 129.59L790.73 132.59L787.93 135.59Z" fill="#ff0000"/>
<path d="M788.57 127.98L791.37 124.98L794.17 127.98L791.37 130.98Z" fill="#ff0000"/>
<path d="M792.01 123.83L794.81 120.83L797.61 123.83L794.81 126.83Z" fill="#ff0000"/>
<path d="M795.45 117.19L798.25 114.19L801.05 117.19L798.25 120.19Z" fill="#ff0000"/>
<path d="M798.90 105.68L801.70 102.68L804.50 105.68L801.70 108.68Z" fill="#ff0000"/>
<path d="M802.34 89.47L805.14 86.47L807.94 89.47L805.14 92.47Z" fill="#ff0000"/>
<path d="M805.78 44.32L808.58 41.32L811.38 44.32L808.58 47.32Z" fill="#ff0000"/>
<path d="M498.70 50.44L498.91 54.34L499.11 57.91L499.32 61.20L499.53 64.23L499.73 67.05L499.94 69.68L500.15 72.13L500.35 74.42L500.56 76.58L500.77 78.61L500.97 80.53L501.18 82.34L501.38 84.06L501.59 85.69L501.80 87.25L502.00 88.73L502.21 90.14L502.42 91.48L502.62 92.77L502.83 94.01L503.04 95.19L503.24 96.33L503.45 97.42L503.66 98.47L503.86 99.48L504.07 100.46L504.28 101.40L504.48 102.31L504.69 103.19L504.90 104.03L505.10 104.85L505.31 105.65L505.52 106.42L505.72 107.17L505.93 107.89L506.14 108.60L506.34 109.28L506.55 109.94L506.75 110.59L506.96 111.22L507.17 111.83L507.37 112.42L507.58 113.00L507.79 113.57L507.99 114.12L508.20 114.66L508.41 115.18L508.61 115.69L508.82 116.19L509.03 116.68L509.23 117.16L509.44 117.62L509.65 118.08L509.85 118.52L510.06 118.96L510.27 119.39L510.47 119.81L510.68 120.22L510.89 120.62L511.09 121.01L511.30 121.39L511.51 121.77L511.71 122.14L511.92 122.51L512.12 122.86L512.33 123.21L512.54 123.55L512.74 123.89L512.95 124.22L513.16 124.55L513.36 124.87L513.57 125.18L513.78 125.49L513.98 125.79L514.19 126.09L514.40 126.38L514.60 126.67L514.81 126.95L515.02 127.23L515.22 127.50L515.43 127.77L515.64 128.04L515.84 128.30L516.05 128.56L516.26 128.81L516.46 129.06L516.67 129.30L516.87 129.55L517.08 129.79L517.29 130.02L517.49 130.25L517.70 130.48L517.91 130.70L518.11 130.93L518.32 131.15L518.53 131.36L518.73 131.57L518.94 131.78L519.15 131.99L519.35 132.19L519.56 132.40L519.77 132.59L519.97 132.79L520.18 132.98L520.39 133.18L520.59 133.36L520.80 133.55L521.01 133.73L521.21 133.92L521.42 134.10L521.63 134.27L521.83 134.45L522.04 134.62L522.24 134.79L522.45 134.96L522.66 135.13L522.86 135.29L523.07 135.45L523.28 135.62L523.48 135.77L523.69 135.93L523.90 136.09L524.10 136.24L524.31 136.39L524.52 136.54L524.72 136.69L524.93 136.84L525.14 136.98L525.34 137.13L525.55 137.27L525.76 137.41L525.96 137.55L526.17 137.69L526.38 137.82L526.58 137.96L526.79 138.09L527.00 138.23L527.20 138.36L527.41 138.49L527.61 138.61L527.82 138.74L528.03 138.87L528.23 138.99L528.44 139.11L528.65 139.24L528.85 139.36L529.06 139.48L529.27 139.59L529.47 139.71L529.68 139.83L529.89 139.94L530.09 140.06L530.30 140.17L530.51 140.28L530.71 140.39L530.92 140.50L531.13 140.61L531.33 140.72L531.54 140.82L531.75 140.93L531.95 141.03L532.16 141.14L532.36 141.24L532.57 141.34L532.78 141.44L532.98 141.54L533.19 141.64L533.40 141.74L533.60 141.84L533.81 141.93L534.02 142.03L534.22 142.13L534.43 142.22L534.64 142.31L534.84 142.41L535.05 142.50L535.26 142.59L535.46 142.68L535.67 142.77L535.88 142.86L536.08 142.94L536.29 143.03L536.50 143.12L536.70 143.20L536.91 143.29L537.12 143.37L537.32 143.46L537.53 143.54L537.73 143.62L537.94 143.71L538.15 143.79L538.35 143.87L538.56 143.95L538.77 144.03L538.97 144.11L539.18 144.18L539.39 144.26L539.59 144.34L539.80 144.41L540.01 144.49L540.21 144.56L540.42 144.64L540.63 144.71L540.83 144.79L541.04 144.86L541.25 144.93L541.45 145.00L541.66 145.08L541.87 145.15L542.07 145.22L542.28 145.29L542.49 145.36L542.69 145.42L542.90 145.49L543.10 145.56L543.31 145.63L543.52 145.69L543.72 145.76L543.93 145.83L544.14 145.89L544.34 145.96L544.55 146.02L544.76 146.08L544.96 146.15L545.17 146.21L545.38 146.27L545.58 146.34L545.79 146.40L546.00 146.46L546.20 146.52L546.41 146.58L546.62 146.64L546.82 146.70L547.03 146.76L547.24 146.82L547.44 146.88L547.65 146.94L547.85 146.99L548.06 147.05L548.27 147.11L548.47 147.16L548.68 147.22L548.89 147.28L549.09 147.33L549.30 147.39L549.51 147.44L549.71 147.50L549.92 147.55L550.13 147.60L550.33 147.66L550.54 147.71L550.75 147.76L550.95 147.82L551.16 147.87L551.37 147.92L551.57 147.97L551.78 148.02L551.99 148.07L552.19 148.12L552.40 148.17L552.61 148.22L552.81 148.27L553.02 148.32L553.22 148.37L553.43 148.42L553.64 148.47L553.84 148.51L554.05 148.56L554.26 148.61L554.46 148.66L554.67 148.70L554.88 148.75L555.08 148.80L555.29 148.84L555.50 148.89L555.70 148.93L555.91 148.98L556.12 149.02L556.32 149.07L556.53 149.11L556.74 149.16L556.94 149.20L557.15 149.24L557.36 149.29L557.56 149.33L557.77 149.37L557.98 149.41L558.18 149.46L558.39 149.50L558.59 149.54L558.80 149.58L559.01 149.62L559.21 149.66L559.42 149.70L559.63 149.75L559.83 149.79L560.04 149.83L560.25 149.87L560.45 149.91L560.66 149.94L560.87 149.98L561.07 150.02L561.28 150.06L561.49 150.10L561.69 150.14L561.90 150.18L562.11 150.21L562.31 150.25L562.52 150.29L562.73 150.33L562.93 150.36L563.14 150.40L563.34 150.44L563.55 150.47L563.76 150.51L563.96 150.55L564.17 150.58L564.38 150.62L564.58 150.65L564.79 150.69L565.00 150.72L565.20 150.76L565.41 150.79L565.62 150.83L565.82 150.86L566.03 150.89L566.24 150.93L566.44 150.96L566.65 151.00L566.86 151.03L567.06 151.06L567.27 151.09L567.48 151.13L567.68 151.16L567.89 151.19L568.10 151.22L568.30 151.26L568.51 151.29L568.71 151.32L568.92 151.35L569.13 151.38L569.33 151.41L569.54 151.45L569.75 151.48L569.95 151.51L570.16 151.54L570.37 151.57L570.57 151.60L570.78 151.63L570.99 151.66L571.19 151.69L571.40 151.72L571.61 151.75L571.81 151.78L572.02 151.81L572.23 151.83L572.43 151.86L572.64 151.89L572.85 151.92L573.05 151.95L573.26 151.98L573.47 152.01L573.67 152.03L573.88 152.06L574.08 152.09L574.29 152.12L574.50 152.14L574.70 152.17L574.91 152.20L575.12 152.22L575.32 152.25L575.53 152.28L575.74 152.30L575.94 152.33L576.15 152.36L576.36 152.38L576.56 152.41L576.77 152.44L576.98 152.46L577.18 152.49L577.39 152.51L577.60 152.54L577.80 152.56L578.01 152.59L578.22 152.61L578.42 152.64L578.63 152.66L578.83 152.69L579.04 152.71L579.25 152.74L579.45 152.76L579.66 152.78L579.87 152.81L580.07 152.83L580.28 152.85L580.49 152.88L580.69 152.90L580.90 152.92L581.11 152.95L581.31 152.97L581.52 152.99L581.73 153.02L581.93 153.04L582.14 153.06L582.35 153.08L582.55 153.11L582.76 153.13L582.97 153.15L583.17 153.17L583.38 153.20L583.59 153.22L583.79 153.24L584.00 153.26L584.20 153.28L584.41 153.30L584.62 153.32L584.82 153.35L585.03 153.37L585.24 153.39L585.44 153.41L585.65 153.43L585.86 153.45L586.06 153.47L586.27 153.49L586.48 153.51L586.68 153.53L586.89 153.55L587.10 153.57L587.30 153.59L587.51 153.61L587.72 153.63L587.92 153.65L588.13 153.67L588.34 153.69L588.54 153.71L588.75 153.73L588.96 153.75L589.16 153.77L589.37 153.78L589.57 153.80L589.78 153.82L589.99 153.84L590.19 153.86L590.40 153.88L590.61 153.90L590.81 153.91L591.02 153.93L591.23 153.95L591.43 153.97L591.64 153.99L591.85 154.00L592.05 154.02L592.26 154.04L592.47 154.06L592.67 154.07L592.88 154.09L593.09 154.11L593.29 154.13L593.50 154.14L593.71 154.16L593.91 154.18L594.12 154.19L594.32 154.21L594.53 154.23L594.74 154.24L594.94 154.26L595.15 154.28L595.36 154.29L595.56 154.31L595.77 154.32L595.98 154.34L596.18 154.36L596.39 154.37L596.60 154.39L596.80 154.40L597.01 154.42L597.22 154.44L597.42 154.45L597.63 154.47L597.84 154.48L598.04 154.50L598.25 154.51L598.46 154.53L598.66 154.54L598.87 154.56L599.08 154.57L599.28 154.59L599.49 154.60L599.69 154.62L599.90 154.63L600.11 154.64L600.31 154.66L600.52 154.67L600.73 154.69L600.93 154.70L601.14 154.72L601.35 154.73L601.55 154.74L601.76 154.76L601.97 154.77L602.17 154.78L602.38 154.80L602.59 154.81L602.79 154.82L603.00 154.84L603.21 154.85L603.41 154.86L603.62 154.88L603.83 154.89L604.03 154.90L604.24 154.92L604.45 154.93L604.65 154.94L604.86 154.96L605.06 154.97L605.27 154.98L605.48 154.99L605.68 155.01L605.89 155.02L606.10 155.03L606.30 155.04L606.51 155.05L606.72 155.07L606.92 155.08L607.13 155.09L607.34 155.10L607.54 155.11L607.75 155.13L607.96 155.14L608.16 155.15L608.37 155.16L608.58 155.17L608.78 155.18L608.99 155.19L609.20 155.21L609.40 155.22L609.61 155.23L609.81 155.24L610.02 155.25L610.23 155.26L610.43 155.27L610.64 155.28L610.85 155.29L611.05 155.30L611.26 155.32L611.47 155.33L611.67 155.34L611.88 155.35L612.09 155.36L612.29 155.37L612.50 155.38L612.71 155.39L612.91 155.40L613.12 155.41L613.33 155.42L613.53 155.43L613.74 155.44L613.95 155.45L614.15 155.46L614.36 155.47L614.57 155.48L614.77 155.49L614.98 155.50L615.18 155.51L615.39 155.52L615.60 155.52L615.80 155.53L616.01 155.54L616.22 155.55L616.42 155.56L616.63 155.57L616.84 155.58L617.04 155.59L617.25 155.60L617.46 155.61L617.66 155.61L617.87 155.62L618.08 155.63L618.28 155.64L618.49 155.65L618.70 155.66L618.90 155.67L619.11 155.67L619.32 155.68L619.52 155.69L619.73 155.70L619.94 155.71L620.14 155.71L620.35 155.72L620.55 155.73L620.76 155.74L620.97 155.75L621.17 155.75L621.38 155.76L621.59 155.77L621.79 155.78L622.00 155.78L622.21 155.79L622.41 155.80L622.62 155.81L622.83 155.81L623.03 155.82L623.24 155.83L623.45 155.84L623.65 155.84L623.86 155.85L624.07 155.86L624.27 155.86L624.48 155.87L624.69 155.88L624.89 155.88L625.10 155.89L625.30 155.90L625.51 155.90L625.72 155.91L625.92 155.92L626.13 155.92L626.34 155.93L626.54 155.94L626.75 155.94L626.96 155.95L627.16 155.96L627.37 155.96L627.58 155.97L627.78 155.97L627.99 155.98L628.20 155.99L628.40 155.99L628.61 156.00L628.82 156.00L629.02 156.01L629.23 156.02L629.44 156.02L629.64 156.03L629.85 156.03L630.06 156.04L630.26 156.04L630.47 156.05L630.67 156.05L630.88 156.06L631.09 156.06L631.29 156.07L631.50 156.07L631.71 156.08L631.91 156.08L632.12 156.09L632.33 156.09L632.53 156.10L632.74 156.10L632.95 156.11L633.15 156.11L633.36 156.12L633.57 156.12L633.77 156.13L633.98 156.13L634.19 156.14L634.39 156.14L634.60 156.15L634.81 156.15L635.01 156.15L635.22 156.16L635.43 156.16L635.63 156.17L635.84 156.17L636.04 156.17L636.25 156.18L636.46 156.18L636.66 156.19L636.87 156.19L637.08 156.19L637.28 156.20L637.49 156.20L637.70 156.20L637.90 156.21L638.11 156.21L638.32 156.22L638.52 156.22L638.73 156.22L638.94 156.23L639.14 156.23L639.35 156.23L639.56 156.24L639.76 156.24L639.97 156.24L640.18 156.24L640.38 156.25L640.59 156.25L640.79 156.25L641.00 156.26L641.21 156.26L641.41 156.26L641.62 156.27L641.83 156.27L642.03 156.27L642.24 156.27L642.45 156.28L642.65 156.28L642.86 156.28L643.07 156.28L643.27 156.29L643.48 156.29L643.69 156.29L643.89 156.29L644.10 156.29L644.31 156.30L644.51 156.30L644.72 156.30L644.93 156.30L645.13 156.30L645.34 156.31L645.55 156.31L645.75 156.31L645.96 156.31L646.16 156.31L646.37 156.31L646.58 156.32L646.78 156.32L646.99 156.32L647.20 156.32L647.40 156.32L647.61 156.32L647.82 156.33L648.02 156.33L648.23 156.33L648.44 156.33L648.64 156.33L648.85 156.33L649.06 156.33L649.26 156.33L649.47 156.33L649.68 156.33L649.88 156.34L650.09 156.34L650.30 156.34L650.50 156.34L650.71 156.34L650.92 156.34L651.12 156.34L651.33 156.34L651.53 156.34L651.74 156.34L651.95 156.34L652.15 156.34L652.36 156.34L652.57 156.34L652.77 156.34L652.98 156.34L653.19 156.34L653.39 156.34L653.60 156.34L653.81 156.34L654.01 156.34L654.22 156.34L654.43 156.34L654.63 156.34L654.84 156.34L655.05 156.34L655.25 156.34L655.46 156.34L655.67 156.34L655.87 156.34L656.08 156.34L656.28 156.34L656.49 156.34L656.70 156.34L656.90 156.34L657.11 156.34L657.32 156.34L657.52 156.33L657.73 156.33L657.94 156.33L658.14 156.33L658.35 156.33L658.56 156.33L658.76 156.33L658.97 156.33L659.18 156.33L659.38 156.33L659.59 156.32L659.80 156.32L660.00 156.32L660.21 156.32L660.42 156.32L660.62 156.32L660.83 156.31L661.04 156.31L661.24 156.31L661.45 156.31L661.65 156.31L661.86 156.31L662.07 156.30L662.27 156.30L662.48 156.30L662.69 156.30L662.89 156.30L663.10 156.29L663.31 156.29L663.51 156.29L663.72 156.29L663.93 156.29L664.13 156.28L664.34 156.28L664.55 156.28L664.75 156.28L664.96 156.27L665.17 156.27L665.37 156.27L665.58 156.27L665.79 156.26L665.99 156.26L666.20 156.26L666.41 156.25L666.61 156.25L666.82 156.25L667.02 156.24L667.23 156.24L667.44 156.24L667.64 156.24L667.85 156.23L668.06 156.23L668.26 156.23L668.47 156.22L668.68 156.22L668.88 156.22L669.09 156.21L669.30 156.21L669.50 156.20L669.71 156.20L669.92 156.20L670.12 156.19L670.33 156.19L670.54 156.19L670.74 156.18L670.95 156.18L671.16 156.17L671.36 156.17L671.57 156.17L671.77 156.16L671.98 156.16L672.19 156.15L672.39 156.15L672.60 156.15L672.81 156.14L673.01 156.14L673.22 156.13L673.43 156.13L673.63 156.12L673.84 156.12L674.05 156.11L674.25 156.11L674.46 156.10L674.67 156.10L674.87 156.09L675.08 156.09L675.29 156.08L675.49 156.08L675.70 156.07L675.91 156.07L676.11 156.06L676.32 156.06L676.53 156.05L676.73 156.05L676.94 156.04L677.14 156.04L677.35 156.03L677.56 156.03L677.76 156.02L677.97 156.02L678.18 156.01L678.38 156.00L678.59 156.00L678.80 155.99L679.00 155.99L679.21 155.98L679.42 155.97L679.62 155.97L679.83 155.96L680.04 155.96L680.24 155.95L680.45 155.94L680.66 155.94L680.86 155.93L681.07 155.92L681.28 155.92L681.48 155.91L681.69 155.90L681.90 155.90L682.10 155.89L682.31 155.88L682.51 155.88L682.72 155.87L682.93 155.86L683.13 155.86L683.34 155.85L683.55 155.84L683.75 155.84L683.96 155.83L684.17 155.82L684.37 155.81L684.58 155.81L684.79 155.80L684.99 155.79L685.20 155.78L685.41 155.78L685.61 155.77L685.82 155.76L686.03 155.75L686.23 155.75L686.44 155.74L686.65 155.73L686.85 155.72L687.06 155.71L687.26 155.71L687.47 155.70L687.68 155.69L687.88 155.68L688.09 155.67L688.30 155.67L688.50 155.66L688.71 155.65L688.92 155.64L689.12 155.63L689.33 155.62L689.54 155.61L689.74 155.61L689.95 155.60L690.16 155.59L690.36 155.58L690.57 155.57L690.78 155.56L690.98 155.55L691.19 155.54L691.40 155.53L691.60 155.52L691.81 155.52L692.02 155.51L692.22 155.50L692.43 155.49L692.63 155.48L692.84 155.47L693.05 155.46L693.25 155.45L693.46 155.44L693.67 155.43L693.87 155.42L694.08 155.41L694.29 155.40L694.49 155.39L694.70 155.38L694.91 155.37L695.11 155.36L695.32 155.35L695.53 155.34L695.73 155.33L695.94 155.32L696.15 155.30L696.35 155.29L696.56 155.28L696.77 155.27L696.97 155.26L697.18 155.25L697.39 155.24L697.59 155.23L697.80 155.22L698.00 155.21L698.21 155.19L698.42 155.18L698.62 155.17L698.83 155.16L699.04 155.15L699.24 155.14L699.45 155.13L699.66 155.11L699.86 155.10L700.07 155.09L700.28 155.08L700.48 155.07L700.69 155.05L700.90 155.04L701.10 155.03L701.31 155.02L701.52 155.01L701.72 154.99L701.93 154.98L702.14 154.97L702.34 154.96L702.55 154.94L702.75 154.93L702.96 154.92L703.17 154.90L703.37 154.89L703.58 154.88L703.79 154.86L703.99 154.85L704.20 154.84L704.41 154.82L704.61 154.81L704.82 154.80L705.03 154.78L705.23 154.77L705.44 154.76L705.65 154.74L705.85 154.73L706.06 154.72L706.27 154.70L706.47 154.69L706.68 154.67L706.89 154.66L707.09 154.64L707.30 154.63L707.51 154.62L707.71 154.60L707.92 154.59L708.12 154.57L708.33 154.56L708.54 154.54L708.74 154.53L708.95 154.51L709.16 154.50L709.36 154.48L709.57 154.47L709.78 154.45L709.98 154.44L710.19 154.42L710.40 154.40L710.60 154.39L710.81 154.37L711.02 154.36L711.22 154.34L711.43 154.32L711.64 154.31L711.84 154.29L712.05 154.28L712.26 154.26L712.46 154.24L712.67 154.23L712.88 154.21L713.08 154.19L713.29 154.18L713.49 154.16L713.70 154.14L713.91 154.13L714.11 154.11L714.32 154.09L714.53 154.07L714.73 154.06L714.94 154.04L715.15 154.02L715.35 154.00L715.56 153.99L715.77 153.97L715.97 153.95L716.18 153.93L716.39 153.91L716.59 153.90L716.80 153.88L717.01 153.86L717.21 153.84L717.42 153.82L717.63 153.80L717.83 153.78L718.04 153.77L718.24 153.75L718.45 153.73L718.66 153.71L718.86 153.69L719.07 153.67L719.28 153.65L719.48 153.63L719.69 153.61L719.90 153.59L720.10 153.57L720.31 153.55L720.52 153.53L720.72 153.51L720.93 153.49L721.14 153.47L721.34 153.45L721.55 153.43L721.76 153.41L721.96 153.39L722.17 153.37L722.38 153.35L722.58 153.32L722.79 153.30L723.00 153.28L723.20 153.26L723.41 153.24L723.61 153.22L723.82 153.20L724.03 153.17L724.23 153.15L724.44 153.13L724.65 153.11L724.85 153.08L725.06 153.06L725.27 153.04L725.47 153.02L725.68 152.99L725.89 152.97L726.09 152.95L726.30 152.92L726.51 152.90L726.71 152.88L726.92 152.85L727.13 152.83L727.33 152.81L727.54 152.78L727.75 152.76L727.95 152.74L728.16 152.71L728.37 152.69L728.57 152.66L728.78 152.64L728.98 152.61L729.19 152.59L729.40 152.56L729.60 152.54L729.81 152.51L730.02 152.49L730.22 152.46L730.43 152.44L730.64 152.41L730.84 152.38L731.05 152.36L731.26 152.33L731.46 152.30L731.67 152.28L731.88 152.25L732.08 152.22L732.29 152.20L732.50 152.17L732.70 152.14L732.91 152.12L733.12 152.09L733.32 152.06L733.53 152.03L733.73 152.01L733.94 151.98L734.15 151.95L734.35 151.92L734.56 151.89L734.77 151.86L734.97 151.83L735.18 151.81L735.39 151.78L735.59 151.75L735.80 151.72L736.01 151.69L736.21 151.66L736.42 151.63L736.63 151.60L736.83 151.57L737.04 151.54L737.25 151.51L737.45 151.48L737.66 151.45L737.87 151.41L738.07 151.38L738.28 151.35L738.49 151.32L738.69 151.29L738.90 151.26L739.10 151.22L739.31 151.19L739.52 151.16L739.72 151.13L739.93 151.09L740.14 151.06L740.34 151.03L740.55 151.00L740.76 150.96L740.96 150.93L741.17 150.89L741.38 150.86L741.58 150.83L741.79 150.79L742.00 150.76L742.20 150.72L742.41 150.69L742.62 150.65L742.82 150.62L743.03 150.58L743.24 150.55L743.44 150.51L743.65 150.47L743.86 150.44L744.06 150.40L744.27 150.36L744.47 150.33L744.68 150.29L744.89 150.25L745.09 150.21L745.30 150.18L745.51 150.14L745.71 150.10L745.92 150.06L746.13 150.02L746.33 149.98L746.54 149.94L746.75 149.91L746.95 149.87L747.16 149.83L747.37 149.79L747.57 149.75L747.78 149.70L747.99 149.66L748.19 149.62L748.40 149.58L748.61 149.54L748.81 149.50L749.02 149.46L749.22 149.41L749.43 149.37L749.64 149.33L749.84 149.29L750.05 149.24L750.26 149.20L750.46 149.16L750.67 149.11L750.88 149.07L751.08 149.02L751.29 148.98L751.50 148.93L751.70 148.89L751.91 148.84L752.12 148.80L752.32 148.75L752.53 148.70L752.74 148.66L752.94 148.61L753.15 148.56L753.36 148.51L753.56 148.47L753.77 148.42L753.98 148.37L754.18 148.32L754.39 148.27L754.59 148.22L754.80 148.17L755.01 148.12L755.21 148.07L755.42 148.02L755.63 147.97L755.83 147.92L756.04 147.87L756.25 147.82L756.45 147.76L756.66 147.71L756.87 147.66L757.07 147.60L757.28 147.55L757.49 147.50L757.69 147.44L757.90 147.39L758.11 147.33L758.31 147.28L758.52 147.22L758.73 147.16L758.93 147.11L759.14 147.05L759.35 146.99L759.55 146.94L759.76 146.88L759.96 146.82L760.17 146.76L760.38 146.70L760.58 146.64L760.79 146.58L761.00 146.52L761.20 146.46L761.41 146.40L761.62 146.34L761.82 146.27L762.03 146.21L762.24 146.15L762.44 146.08L762.65 146.02L762.86 145.96L763.06 145.89L763.27 145.83L763.48 145.76L763.68 145.69L763.89 145.63L764.10 145.56L764.30 145.49L764.51 145.42L764.71 145.36L764.92 145.29L765.13 145.22L765.33 145.15L765.54 145.08L765.75 145.00L765.95 144.93L766.16 144.86L766.37 144.79L766.57 144.71L766.78 144.64L766.99 144.56L767.19 144.49L767.40 144.41L767.61 144.34L767.81 144.26L768.02 144.18L768.23 144.11L768.43 144.03L768.64 143.95L768.85 143.87L769.05 143.79L769.26 143.71L769.47 143.62L769.67 143.54L769.88 143.46L770.08 143.37L770.29 143.29L770.50 143.20L770.70 143.12L770.91 143.03L771.12 142.94L771.32 142.86L771.53 142.77L771.74 142.68L771.94 142.59L772.15 142.50L772.36 142.41L772.56 142.31L772.77 142.22L772.98 142.13L773.18 142.03L773.39 141.93L773.60 141.84L773.80 141.74L774.01 141.64L774.22 141.54L774.42 141.44L774.63 141.34L774.84 141.24L775.04 141.14L775.25 141.03L775.45 140.93L775.66 140.82L775.87 140.72L776.07 140.61L776.28 140.50L776.49 140.39L776.69 140.28L776.90 140.17L777.11 140.06L777.31 139.94L777.52 139.83L777.73 139.71L777.93 139.59L778.14 139.48L778.35 139.36L778.55 139.24L778.76 139.11L778.97 138.99L779.17 138.87L779.38 138.74L779.59 138.61L779.79 138.49L780.00 138.36L780.20 138.23L780.41 138.09L780.62 137.96L780.82 137.82L781.03 137.69L781.24 137.55L781.44 137.41L781.65 137.27L781.86 137.13L782.06 136.98L782.27 136.84L782.48 136.69L782.68 136.54L782.89 136.39L783.10 136.24L783.30 136.09L783.51 135.93L783.72 135.77L783.92 135.62L784.13 135.45L784.34 135.29L784.54 135.13L784.75 134.96L784.96 134.79L785.16 134.62L785.37 134.45L785.57 134.27L785.78 134.10L785.99 133.92L786.19 133.73L786.40 133.55L786.61 133.36L786.81 133.18L787.02 132.98L787.23 132.79L787.43 132.59L787.64 132.40L787.85 132.19L788.05 131.99L788.26 131.78L788.47 131.57L788.67 131.36L788.88 131.15L789.09 130.93L789.29 130.70L789.50 130.48L789.71 130.25L789.91 130.02L790.12 129.79L790.33 129.55L790.53 129.30L790.74 129.06L790.94 128.81L791.15 128.56L791.36 128.30L791.56 128.04L791.77 127.77L791.98 127.50L792.18 127.23L792.39 126.95L792.60 126.67L792.80 126.38L793.01 126.09L793.22 125.79L793.42 125.49L793.63 125.18L793.84 124.87L794.04 124.55L794.25 124.22L794.46 123.89L794.66 123.55L794.87 123.21L795.08 122.86L795.28 122.51L795.49 122.14L795.69 121.77L795.90 121.39L796.11 121.01L796.31 120.62L796.52 120.22L796.73 119.81L796.93 119.39L797.14 118.96L797.35 118.52L797.55 118.08L797.76 117.62L797.97 117.16L798.17 116.68L798.38 116.19L798.59 115.69L798.79 115.18L799.00 114.66L799.21 114.12L799.41 113.57L799.62 113.00L799.83 112.42L800.03 111.83L800.24 111.22L800.45 110.59L800.65 109.94L800.86 109.28L801.06 108.60L801.27 107.89L801.48 107.17L801.68 106.42L801.89 105.65L802.10 104.85L802.30 104.03L802.51 103.19L802.72 102.31L802.92 101.40L803.13 100.46L803.34 99.48L803.54 98.47L803.75 97.42L803.96 96.33L804.16 95.19L804.37 94.01L804.58 92.77L804.78 91.48L804.99 90.14L805.20 88.73L805.40 87.25L805.61 85.69L805.82 84.06L806.02 82.34L806.23 80.53L806.43 78.61L806.64 76.58L806.85 74.42L807.05 72.13L807.26 69.68L807.47 67.05L807.67 64.23L807.88 61.20L808.09 57.91L808.29 54.34L808.50 50.44" fill="none" stroke="#000" stroke-width="1.3" stroke-linejoin="round"/>
<path d="M498.70 183.5v-7M498.70 9.2v7M576.15 183.5v-7M576.15 9.2v7M653.60 183.5v-7M653.60 9.2v7M731.05 183.5v-7M731.05 9.2v7M808.50 183.5v-7M808.50 9.2v7M498.7 183.50h7M808.5 183.50h-7M498.7 139.93h7M808.5 139.93h-7M498.7 96.35h7M808.5 96.35h-7M498.7 52.78h7M808.5 52.78h-7M498.7 9.20h7M808.5 9.20h-7" stroke="#000" stroke-width="1" fill="none"/>
<rect x="498.7" y="9.2" width="309.80" height="174.30" fill="none" stroke="#000" stroke-width="1.1"/>
<path d="M482.75 201.60H495.00" stroke="#000" stroke-width="0.95" fill="none"/><text transform="translate(515.87 206.90) scale(1 1.11)" text-anchor="end" font-size="19.0" >10</text>
<path d="M565.10 201.60H577.35" stroke="#000" stroke-width="0.95" fill="none"/><text transform="translate(588.42 206.90) scale(1 1.11)" text-anchor="end" font-size="19.0" >5</text>
<text transform="translate(653.60 206.90) scale(1 1.11)" text-anchor="middle" font-size="19.0" >0</text>
<text transform="translate(731.05 206.90) scale(1 1.11)" text-anchor="middle" font-size="19.0" >5</text>
<text transform="translate(808.50 206.90) scale(1 1.11)" text-anchor="middle" font-size="19.0" >10</text>
<text transform="translate(488.30 188.50) scale(1 1.11)" text-anchor="end" font-size="19.0" >0</text>
<text transform="translate(488.30 144.93) scale(1 1.11)" text-anchor="end" font-size="19.0" >0.05</text>
<text transform="translate(488.30 101.35) scale(1 1.11)" text-anchor="end" font-size="19.0" >0.1</text>
<text transform="translate(488.30 57.78) scale(1 1.11)" text-anchor="end" font-size="19.0" >0.15</text>
<text transform="translate(488.30 14.20) scale(1 1.11)" text-anchor="end" font-size="19.0" >0.2</text>
<rect x="67.45" y="384.11" width="5.70" height="5.70" fill="#9400d3"/>
<rect x="71.11" y="413.63" width="5.70" height="5.70" fill="#9400d3"/>
<rect x="74.77" y="418.78" width="5.70" height="5.70" fill="#9400d3"/>
<rect x="78.43" y="421.87" width="5.70" height="5.70" fill="#9400d3"/>
<rect x="82.09" y="423.75" width="5.70" height="5.70" fill="#9400d3"/>
<rect x="85.75" y="424.92" width="5.70" height="5.70" fill="#9400d3"/>
<rect x="89.41" y="425.67" width="5.70" height="5.70" fill="#9400d3"/>
<rect x="93.07" y="425.89" width="5.70" height="5.70" fill="#9400d3"/>
<rect x="96.73" y="426.11" width="5.70" height="5.70" fill="#9400d3"/>
<rect x="100.39" y="426.33" width="5.70" height="5.70" fill="#9400d3"/>
<rect x="104.05" y="426.55" width="5.70" height="5.70" fill="#9400d3"/>
<rect x="107.71" y="426.77" width="5.70" height="5.70" fill="#9400d3"/>
<rect x="111.37" y="426.81" width="5.70" height="5.70" fill="#9400d3"/>
<rect x="115.03" y="426.84" width="5.70" height="5.70" fill="#9400d3"/>
<rect x="118.69" y="426.88" width="5.70" height="5.70" fill="#9400d3"/>
<rect x="122.35" y="426.91" width="5.70" height="5.70" fill="#9400d3"/>
<rect x="126.01" y="426.95" width="5.70" height="5.70" fill="#9400d3"/>
<rect x="129.67" y="426.98" width="5.70" height="5.70" fill="#9400d3"/>
<rect x="133.33" y="427.02" width="5.70" height="5.70" fill="#9400d3"/>
<rect x="136.99" y="426.99" width="5.70" height="5.70" fill="#9400d3"/>
<rect x="140.65" y="426.96" width="5.70" height="5.70" fill="#9400d3"/>
<rect x="144.31" y="426.93" width="5.70" height="5.70" fill="#9400d3"/>
<rect x="147.97" y="426.90" width="5.70" height="5.70" fill="#9400d3"/>
<rect x="151.63" y="426.86" width="5.70" height="5.70" fill="#9400d3"/>
<rect x="155.29" y="426.83" width="5.70" height="5.70" fill="#9400d3"/>
<rect x="158.95" y="426.80" width="5.70" height="5.70" fill="#9400d3"/>
<rect x="162.61" y="426.77" width="5.70" height="5.70" fill="#9400d3"/>
<rect x="166.27" y="426.70" width="5.70" height="5.70" fill="#9400d3"/>
<rect x="169.93" y="426.64" width="5.70" height="5.70" fill="#9400d3"/>
<rect x="173.59" y="426.57" width="5.70" height="5.70" fill="#9400d3"/>
<rect x="177.25" y="426.50" width="5.70" height="5.70" fill="#9400d3"/>
<rect x="180.91" y="426.43" width="5.70" height="5.70" fill="#9400d3"/>
<rect x="184.57" y="426.36" width="5.70" height="5.70" fill="#9400d3"/>
<rect x="188.23" y="426.30" width="5.70" height="5.70" fill="#9400d3"/>
<rect x="191.89" y="426.23" width="5.70" height="5.70" fill="#9400d3"/>
<rect x="195.55" y="426.16" width="5.70" height="5.70" fill="#9400d3"/>
<rect x="199.21" y="425.96" width="5.70" height="5.70" fill="#9400d3"/>
<rect x="202.87" y="425.68" width="5.70" height="5.70" fill="#9400d3"/>
<rect x="206.53" y="425.40" width="5.70" height="5.70" fill="#9400d3"/>
<rect x="210.19" y="425.12" width="5.70" height="5.70" fill="#9400d3"/>
<rect x="213.85" y="424.84" width="5.70" height="5.70" fill="#9400d3"/>
<rect x="217.51" y="424.55" width="5.70" height="5.70" fill="#9400d3"/>
<rect x="221.17" y="424.28" width="5.70" height="5.70" fill="#9400d3"/>
<rect x="224.83" y="424.03" width="5.70" height="5.70" fill="#9400d3"/>
<rect x="228.49" y="423.79" width="5.70" height="5.70" fill="#9400d3"/>
<rect x="232.15" y="423.54" width="5.70" height="5.70" fill="#9400d3"/>
<rect x="235.81" y="423.29" width="5.70" height="5.70" fill="#9400d3"/>
<rect x="239.47" y="423.04" width="5.70" height="5.70" fill="#9400d3"/>
<rect x="243.13" y="422.65" width="5.70" height="5.70" fill="#9400d3"/>
<rect x="246.79" y="422.25" width="5.70" height="5.70" fill="#9400d3"/>
<rect x="250.45" y="421.85" width="5.70" height="5.70" fill="#9400d3"/>
<rect x="254.11" y="421.45" width="5.70" height="5.70" fill="#9400d3"/>
<rect x="257.77" y="421.06" width="5.70" height="5.70" fill="#9400d3"/>
<rect x="261.43" y="420.47" width="5.70" height="5.70" fill="#9400d3"/>
<rect x="265.09" y="419.86" width="5.70" height="5.70" fill="#9400d3"/>
<rect x="268.75" y="419.25" width="5.70" height="5.70" fill="#9400d3"/>
<rect x="272.41" y="418.53" width="5.70" height="5.70" fill="#9400d3"/>
<rect x="276.07" y="417.77" width="5.70" height="5.70" fill="#9400d3"/>
<rect x="279.73" y="417.00" width="5.70" height="5.70" fill="#9400d3"/>
<rect x="283.39" y="416.23" width="5.70" height="5.70" fill="#9400d3"/>
<rect x="287.05" y="415.44" width="5.70" height="5.70" fill="#9400d3"/>
<rect x="290.71" y="412.95" width="5.70" height="5.70" fill="#9400d3"/>
<rect x="294.37" y="409.90" width="5.70" height="5.70" fill="#9400d3"/>
<rect x="298.03" y="407.41" width="5.70" height="5.70" fill="#9400d3"/>
<rect x="301.69" y="405.03" width="5.70" height="5.70" fill="#9400d3"/>
<rect x="305.35" y="393.77" width="5.70" height="5.70" fill="#9400d3"/>
<rect x="309.01" y="375.45" width="5.70" height="5.70" fill="#9400d3"/>
<rect x="316.33" y="417.86" width="5.70" height="5.70" fill="#9400d3"/>
<rect x="319.99" y="413.59" width="5.70" height="5.70" fill="#9400d3"/>
<rect x="323.65" y="410.54" width="5.70" height="5.70" fill="#9400d3"/>
<rect x="327.31" y="397.11" width="5.70" height="5.70" fill="#9400d3"/>
<rect x="334.63" y="424.64" width="5.70" height="5.70" fill="#9400d3"/>
<rect x="338.29" y="423.65" width="5.70" height="5.70" fill="#9400d3"/>
<rect x="341.95" y="422.79" width="5.70" height="5.70" fill="#9400d3"/>
<rect x="345.61" y="421.80" width="5.70" height="5.70" fill="#9400d3"/>
<rect x="349.27" y="420.91" width="5.70" height="5.70" fill="#9400d3"/>
<rect x="352.93" y="419.95" width="5.70" height="5.70" fill="#9400d3"/>
<rect x="356.59" y="419.13" width="5.70" height="5.70" fill="#9400d3"/>
<rect x="360.25" y="418.07" width="5.70" height="5.70" fill="#9400d3"/>
<rect x="363.91" y="417.25" width="5.70" height="5.70" fill="#9400d3"/>
<rect x="367.57" y="416.04" width="5.70" height="5.70" fill="#9400d3"/>
<rect x="371.23" y="414.59" width="5.70" height="5.70" fill="#9400d3"/>
<rect x="374.89" y="412.39" width="5.70" height="5.70" fill="#9400d3"/>
<rect x="378.55" y="408.69" width="5.70" height="5.70" fill="#9400d3"/>
<rect x="382.21" y="401.98" width="5.70" height="5.70" fill="#9400d3"/>
<rect x="385.87" y="380.92" width="5.70" height="5.70" fill="#9400d3"/>
<rect x="389.53" y="390.72" width="5.70" height="5.70" fill="#9400d3"/>
<circle cx="70.30" cy="302.50" r="2.7" fill="#009e73"/>
<circle cx="73.96" cy="378.61" r="2.7" fill="#009e73"/>
<circle cx="77.62" cy="391.68" r="2.7" fill="#009e73"/>
<circle cx="81.28" cy="397.45" r="2.7" fill="#009e73"/>
<circle cx="84.94" cy="401.50" r="2.7" fill="#009e73"/>
<circle cx="88.60" cy="404.11" r="2.7" fill="#009e73"/>
<circle cx="92.26" cy="405.94" r="2.7" fill="#009e73"/>
<circle cx="95.92" cy="407.32" r="2.7" fill="#009e73"/>
<circle cx="99.58" cy="408.79" r="2.7" fill="#009e73"/>
<circle cx="103.24" cy="409.53" r="2.7" fill="#009e73"/>
<circle cx="106.90" cy="410.36" r="2.7" fill="#009e73"/>
<circle cx="110.56" cy="411.16" r="2.7" fill="#009e73"/>
<circle cx="114.22" cy="411.24" r="2.7" fill="#009e73"/>
<circle cx="117.88" cy="411.80" r="2.7" fill="#009e73"/>
<circle cx="121.54" cy="412.03" r="2.7" fill="#009e73"/>
<circle cx="125.20" cy="412.67" r="2.7" fill="#009e73"/>
<circle cx="128.86" cy="412.74" r="2.7" fill="#009e73"/>
<circle cx="132.52" cy="412.99" r="2.7" fill="#009e73"/>
<circle cx="136.18" cy="413.02" r="2.7" fill="#009e73"/>
<circle cx="139.84" cy="413.52" r="2.7" fill="#009e73"/>
<circle cx="143.50" cy="413.50" r="2.7" fill="#009e73"/>
<circle cx="147.16" cy="413.52" r="2.7" fill="#009e73"/>
<circle cx="150.82" cy="413.82" r="2.7" fill="#009e73"/>
<circle cx="154.48" cy="413.62" r="2.7" fill="#009e73"/>
<circle cx="158.14" cy="413.56" r="2.7" fill="#009e73"/>
<circle cx="161.80" cy="413.75" r="2.7" fill="#009e73"/>
<circle cx="165.46" cy="413.64" r="2.7" fill="#009e73"/>
<circle cx="169.12" cy="413.66" r="2.7" fill="#009e73"/>
<circle cx="172.78" cy="413.85" r="2.7" fill="#009e73"/>
<circle cx="176.44" cy="413.75" r="2.7" fill="#009e73"/>
<circle cx="180.10" cy="413.37" r="2.7" fill="#009e73"/>
<circle cx="183.76" cy="413.67" r="2.7" fill="#009e73"/>
<circle cx="187.42" cy="413.55" r="2.7" fill="#009e73"/>
<circle cx="191.08" cy="413.66" r="2.7" fill="#009e73"/>
<circle cx="194.74" cy="413.51" r="2.7" fill="#009e73"/>
<circle cx="198.40" cy="413.44" r="2.7" fill="#009e73"/>
<circle cx="202.06" cy="412.93" r="2.7" fill="#009e73"/>
<circle cx="205.72" cy="412.92" r="2.7" fill="#009e73"/>
<circle cx="209.38" cy="412.72" r="2.7" fill="#009e73"/>
<circle cx="213.04" cy="412.52" r="2.7" fill="#009e73"/>
<circle cx="216.70" cy="412.58" r="2.7" fill="#009e73"/>
<circle cx="220.36" cy="412.25" r="2.7" fill="#009e73"/>
<circle cx="224.02" cy="412.32" r="2.7" fill="#009e73"/>
<circle cx="227.68" cy="412.24" r="2.7" fill="#009e73"/>
<circle cx="231.34" cy="411.78" r="2.7" fill="#009e73"/>
<circle cx="235.00" cy="411.64" r="2.7" fill="#009e73"/>
<circle cx="238.66" cy="411.44" r="2.7" fill="#009e73"/>
<circle cx="242.32" cy="411.51" r="2.7" fill="#009e73"/>
<circle cx="245.98" cy="411.14" r="2.7" fill="#009e73"/>
<circle cx="249.64" cy="411.14" r="2.7" fill="#009e73"/>
<circle cx="253.30" cy="410.57" r="2.7" fill="#009e73"/>
<circle cx="256.96" cy="410.37" r="2.7" fill="#009e73"/>
<circle cx="260.62" cy="410.48" r="2.7" fill="#009e73"/>
<circle cx="264.28" cy="409.83" r="2.7" fill="#009e73"/>
<circle cx="267.94" cy="409.99" r="2.7" fill="#009e73"/>
<circle cx="271.60" cy="409.73" r="2.7" fill="#009e73"/>
<circle cx="275.26" cy="409.02" r="2.7" fill="#009e73"/>
<circle cx="278.92" cy="408.94" r="2.7" fill="#009e73"/>
<circle cx="282.58" cy="408.43" r="2.7" fill="#009e73"/>
<circle cx="286.24" cy="407.96" r="2.7" fill="#009e73"/>
<circle cx="289.90" cy="407.92" r="2.7" fill="#009e73"/>
<circle cx="293.56" cy="407.02" r="2.7" fill="#009e73"/>
<circle cx="297.22" cy="406.85" r="2.7" fill="#009e73"/>
<circle cx="300.88" cy="406.23" r="2.7" fill="#009e73"/>
<circle cx="304.54" cy="405.74" r="2.7" fill="#009e73"/>
<circle cx="308.20" cy="404.87" r="2.7" fill="#009e73"/>
<circle cx="311.86" cy="404.22" r="2.7" fill="#009e73"/>
<circle cx="315.52" cy="403.86" r="2.7" fill="#009e73"/>
<circle cx="319.18" cy="403.26" r="2.7" fill="#009e73"/>
<circle cx="322.84" cy="402.30" r="2.7" fill="#009e73"/>
<circle cx="326.50" cy="401.33" r="2.7" fill="#009e73"/>
<circle cx="330.16" cy="400.62" r="2.7" fill="#009e73"/>
<circle cx="333.82" cy="305.12" r="2.7" fill="#009e73"/>
<circle cx="337.48" cy="397.80" r="2.7" fill="#009e73"/>
<circle cx="341.14" cy="396.48" r="2.7" fill="#009e73"/>
<circle cx="344.80" cy="394.68" r="2.7" fill="#009e73"/>
<circle cx="348.46" cy="392.93" r="2.7" fill="#009e73"/>
<circle cx="352.12" cy="391.02" r="2.7" fill="#009e73"/>
<circle cx="355.78" cy="389.23" r="2.7" fill="#009e73"/>
<circle cx="359.44" cy="386.78" r="2.7" fill="#009e73"/>
<circle cx="363.10" cy="383.43" r="2.7" fill="#009e73"/>
<circle cx="366.76" cy="379.36" r="2.7" fill="#009e73"/>
<circle cx="370.42" cy="374.38" r="2.7" fill="#009e73"/>
<circle cx="374.08" cy="367.95" r="2.7" fill="#009e73"/>
<circle cx="377.74" cy="359.37" r="2.7" fill="#009e73"/>
<circle cx="381.40" cy="345.02" r="2.7" fill="#009e73"/>
<circle cx="385.06" cy="321.97" r="2.7" fill="#009e73"/>
<circle cx="392.38" cy="283.10" r="2.7" fill="#009e73"/>
<path d="M67.30 300.40L73.30 300.40L70.30 295.90Z" fill="#56b4e9"/>
<path d="M70.96 379.67L76.96 379.67L73.96 375.17Z" fill="#56b4e9"/>
<path d="M74.62 392.67L80.62 392.67L77.62 388.17Z" fill="#56b4e9"/>
<path d="M78.28 398.55L84.28 398.55L81.28 394.05Z" fill="#56b4e9"/>
<path d="M81.94 403.10L87.94 403.10L84.94 398.60Z" fill="#56b4e9"/>
<path d="M85.60 405.64L91.60 405.64L88.60 401.14Z" fill="#56b4e9"/>
<path d="M89.26 407.28L95.26 407.28L92.26 402.78Z" fill="#56b4e9"/>
<path d="M92.92 408.74L98.92 408.74L95.92 404.24Z" fill="#56b4e9"/>
<path d="M96.58 410.12L102.58 410.12L99.58 405.62Z" fill="#56b4e9"/>
<path d="M100.24 411.10L106.24 411.10L103.24 406.60Z" fill="#56b4e9"/>
<path d="M103.90 411.74L109.90 411.74L106.90 407.24Z" fill="#56b4e9"/>
<path d="M107.56 412.02L113.56 412.02L110.56 407.52Z" fill="#56b4e9"/>
<path d="M111.22 412.71L117.22 412.71L114.22 408.21Z" fill="#56b4e9"/>
<path d="M114.88 412.84L120.88 412.84L117.88 408.34Z" fill="#56b4e9"/>
<path d="M118.54 413.31L124.54 413.31L121.54 408.81Z" fill="#56b4e9"/>
<path d="M122.20 413.50L128.20 413.50L125.20 409.00Z" fill="#56b4e9"/>
<path d="M125.86 414.28L131.86 414.28L128.86 409.78Z" fill="#56b4e9"/>
<path d="M129.52 414.41L135.52 414.41L132.52 409.91Z" fill="#56b4e9"/>
<path d="M133.18 414.69L139.18 414.69L136.18 410.19Z" fill="#56b4e9"/>
<path d="M136.84 414.61L142.84 414.61L139.84 410.11Z" fill="#56b4e9"/>
<path d="M140.50 414.78L146.50 414.78L143.50 410.28Z" fill="#56b4e9"/>
<path d="M144.16 415.03L150.16 415.03L147.16 410.53Z" fill="#56b4e9"/>
<path d="M147.82 414.84L153.82 414.84L150.82 410.34Z" fill="#56b4e9"/>
<path d="M151.48 415.14L157.48 415.14L154.48 410.64Z" fill="#56b4e9"/>
<path d="M155.14 415.07L161.14 415.07L158.14 410.57Z" fill="#56b4e9"/>
<path d="M158.80 415.13L164.80 415.13L161.80 410.63Z" fill="#56b4e9"/>
<path d="M162.46 414.84L168.46 414.84L165.46 410.34Z" fill="#56b4e9"/>
<path d="M166.12 415.04L172.12 415.04L169.12 410.54Z" fill="#56b4e9"/>
<path d="M169.78 415.11L175.78 415.11L172.78 410.61Z" fill="#56b4e9"/>
<path d="M173.44 415.19L179.44 415.19L176.44 410.69Z" fill="#56b4e9"/>
<path d="M177.10 414.95L183.10 414.95L180.10 410.45Z" fill="#56b4e9"/>
<path d="M180.76 414.79L186.76 414.79L183.76 410.29Z" fill="#56b4e9"/>
<path d="M184.42 414.70L190.42 414.70L187.42 410.20Z" fill="#56b4e9"/>
<path d="M188.08 414.50L194.08 414.50L191.08 410.00Z" fill="#56b4e9"/>
<path d="M191.74 414.47L197.74 414.47L194.74 409.97Z" fill="#56b4e9"/>
<path d="M195.40 414.68L201.40 414.68L198.40 410.18Z" fill="#56b4e9"/>
<path d="M199.06 414.63L205.06 414.63L202.06 410.13Z" fill="#56b4e9"/>
<path d="M202.72 414.18L208.72 414.18L205.72 409.68Z" fill="#56b4e9"/>
<path d="M206.38 414.03L212.38 414.03L209.38 409.53Z" fill="#56b4e9"/>
<path d="M210.04 414.05L216.04 414.05L213.04 409.55Z" fill="#56b4e9"/>
<path d="M213.70 413.73L219.70 413.73L216.70 409.23Z" fill="#56b4e9"/>
<path d="M217.36 413.73L223.36 413.73L220.36 409.23Z" fill="#56b4e9"/>
<path d="M221.02 413.71L227.02 413.71L224.02 409.21Z" fill="#56b4e9"/>
<path d="M224.68 413.60L230.68 413.60L227.68 409.10Z" fill="#56b4e9"/>
<path d="M228.34 413.49L234.34 413.49L231.34 408.99Z" fill="#56b4e9"/>
<path d="M232.00 412.94L238.00 412.94L235.00 408.44Z" fill="#56b4e9"/>
<path d="M235.66 412.58L241.66 412.58L238.66 408.08Z" fill="#56b4e9"/>
<path d="M239.32 412.34L245.32 412.34L242.32 407.84Z" fill="#56b4e9"/>
<path d="M242.98 412.36L248.98 412.36L245.98 407.86Z" fill="#56b4e9"/>
<path d="M246.64 411.99L252.64 411.99L249.64 407.49Z" fill="#56b4e9"/>
<path d="M250.30 411.57L256.30 411.57L253.30 407.07Z" fill="#56b4e9"/>
<path d="M253.96 411.35L259.96 411.35L256.96 406.85Z" fill="#56b4e9"/>
<path d="M257.62 411.18L263.62 411.18L260.62 406.68Z" fill="#56b4e9"/>
<path d="M261.28 410.98L267.28 410.98L264.28 406.48Z" fill="#56b4e9"/>
<path d="M264.94 410.58L270.94 410.58L267.94 406.08Z" fill="#56b4e9"/>
<path d="M268.60 410.45L274.60 410.45L271.60 405.95Z" fill="#56b4e9"/>
<path d="M272.26 410.07L278.26 410.07L275.26 405.57Z" fill="#56b4e9"/>
<path d="M275.92 409.35L281.92 409.35L278.92 404.85Z" fill="#56b4e9"/>
<path d="M279.58 408.73L285.58 408.73L282.58 404.23Z" fill="#56b4e9"/>
<path d="M283.24 408.58L289.24 408.58L286.24 404.08Z" fill="#56b4e9"/>
<path d="M286.90 408.20L292.90 408.20L289.90 403.70Z" fill="#56b4e9"/>
<path d="M290.56 407.73L296.56 407.73L293.56 403.23Z" fill="#56b4e9"/>
<path d="M294.22 407.12L300.22 407.12L297.22 402.62Z" fill="#56b4e9"/>
<path d="M297.88 406.31L303.88 406.31L300.88 401.81Z" fill="#56b4e9"/>
<path d="M301.54 405.94L307.54 405.94L304.54 401.44Z" fill="#56b4e9"/>
<path d="M305.20 404.91L311.20 404.91L308.20 400.41Z" fill="#56b4e9"/>
<path d="M308.86 404.80L314.86 404.80L311.86 400.30Z" fill="#56b4e9"/>
<path d="M312.52 403.92L318.52 403.92L315.52 399.42Z" fill="#56b4e9"/>
<path d="M316.18 402.94L322.18 402.94L319.18 398.44Z" fill="#56b4e9"/>
<path d="M319.84 402.13L325.84 402.13L322.84 397.63Z" fill="#56b4e9"/>
<path d="M323.50 400.80L329.50 400.80L326.50 396.30Z" fill="#56b4e9"/>
<path d="M327.16 399.74L333.16 399.74L330.16 395.24Z" fill="#56b4e9"/>
<path d="M330.82 394.81L336.82 394.81L333.82 390.31Z" fill="#56b4e9"/>
<path d="M334.48 397.45L340.48 397.45L337.48 392.95Z" fill="#56b4e9"/>
<path d="M338.14 396.54L344.14 396.54L341.14 392.04Z" fill="#56b4e9"/>
<path d="M341.80 394.42L347.80 394.42L344.80 389.92Z" fill="#56b4e9"/>
<path d="M345.46 392.62L351.46 392.62L348.46 388.12Z" fill="#56b4e9"/>
<path d="M349.12 390.60L355.12 390.60L352.12 386.10Z" fill="#56b4e9"/>
<path d="M352.78 388.42L358.78 388.42L355.78 383.92Z" fill="#56b4e9"/>
<path d="M356.44 385.13L362.44 385.13L359.44 380.63Z" fill="#56b4e9"/>
<path d="M360.10 381.52L366.10 381.52L363.10 377.02Z" fill="#56b4e9"/>
<path d="M363.76 378.43L369.76 378.43L366.76 373.93Z" fill="#56b4e9"/>
<path d="M367.42 372.54L373.42 372.54L370.42 368.04Z" fill="#56b4e9"/>
<path d="M371.08 366.25L377.08 366.25L374.08 361.75Z" fill="#56b4e9"/>
<path d="M374.74 356.73L380.74 356.73L377.74 352.23Z" fill="#56b4e9"/>
<path d="M378.40 341.85L384.40 341.85L381.40 337.35Z" fill="#56b4e9"/>
<path d="M382.06 316.06L388.06 316.06L385.06 311.56Z" fill="#56b4e9"/>
<path d="M389.38 278.09L395.38 278.09L392.38 273.59Z" fill="#56b4e9"/>
<path d="M67.30 296.88L73.30 296.88L70.30 301.38Z" fill="#e69f00"/>
<path d="M70.96 376.62L76.96 376.62L73.96 381.12Z" fill="#e69f00"/>
<path d="M74.62 389.33L80.62 389.33L77.62 393.83Z" fill="#e69f00"/>
<path d="M78.28 395.33L84.28 395.33L81.28 399.83Z" fill="#e69f00"/>
<path d="M81.94 399.66L87.94 399.66L84.94 404.16Z" fill="#e69f00"/>
<path d="M85.60 402.34L91.60 402.34L88.60 406.84Z" fill="#e69f00"/>
<path d="M89.26 403.80L95.26 403.80L92.26 408.30Z" fill="#e69f00"/>
<path d="M92.92 405.27L98.92 405.27L95.92 409.77Z" fill="#e69f00"/>
<path d="M96.58 406.83L102.58 406.83L99.58 411.33Z" fill="#e69f00"/>
<path d="M100.24 407.69L106.24 407.69L103.24 412.19Z" fill="#e69f00"/>
<path d="M103.90 408.50L109.90 408.50L106.90 413.00Z" fill="#e69f00"/>
<path d="M107.56 409.20L113.56 409.20L110.56 413.70Z" fill="#e69f00"/>
<path d="M111.22 409.63L117.22 409.63L114.22 414.13Z" fill="#e69f00"/>
<path d="M114.88 409.64L120.88 409.64L117.88 414.14Z" fill="#e69f00"/>
<path d="M118.54 410.51L124.54 410.51L121.54 415.01Z" fill="#e69f00"/>
<path d="M122.20 410.72L128.20 410.72L125.20 415.22Z" fill="#e69f00"/>
<path d="M125.86 410.99L131.86 410.99L128.86 415.49Z" fill="#e69f00"/>
<path d="M129.52 411.27L135.52 411.27L132.52 415.77Z" fill="#e69f00"/>
<path d="M133.18 411.21L139.18 411.21L136.18 415.71Z" fill="#e69f00"/>
<path d="M136.84 411.24L142.84 411.24L139.84 415.74Z" fill="#e69f00"/>
<path d="M140.50 411.31L146.50 411.31L143.50 415.81Z" fill="#e69f00"/>
<path d="M144.16 411.52L150.16 411.52L147.16 416.02Z" fill="#e69f00"/>
<path d="M147.82 411.50L153.82 411.50L150.82 416.00Z" fill="#e69f00"/>
<path d="M151.48 411.99L157.48 411.99L154.48 416.49Z" fill="#e69f00"/>
<path d="M155.14 411.88L161.14 411.88L158.14 416.38Z" fill="#e69f00"/>
<path d="M158.80 411.55L164.80 411.55L161.80 416.05Z" fill="#e69f00"/>
<path d="M162.46 412.03L168.46 412.03L165.46 416.53Z" fill="#e69f00"/>
<path d="M166.12 411.92L172.12 411.92L169.12 416.42Z" fill="#e69f00"/>
<path d="M169.78 411.79L175.78 411.79L172.78 416.29Z" fill="#e69f00"/>
<path d="M173.44 411.88L179.44 411.88L176.44 416.38Z" fill="#e69f00"/>
<path d="M177.10 411.68L183.10 411.68L180.10 416.18Z" fill="#e69f00"/>
<path d="M180.76 411.90L186.76 411.90L183.76 416.40Z" fill="#e69f00"/>
<path d="M184.42 411.74L190.42 411.74L187.42 416.24Z" fill="#e69f00"/>
<path d="M188.08 411.27L194.08 411.27L191.08 415.77Z" fill="#e69f00"/>
<path d="M191.74 411.63L197.74 411.63L194.74 416.13Z" fill="#e69f00"/>
<path d="M195.40 411.12L201.40 411.12L198.40 415.62Z" fill="#e69f00"/>
<path d="M199.06 411.41L205.06 411.41L202.06 415.91Z" fill="#e69f00"/>
<path d="M202.72 410.85L208.72 410.85L205.72 415.35Z" fill="#e69f00"/>
<path d="M206.38 410.90L212.38 410.90L209.38 415.40Z" fill="#e69f00"/>
<path d="M210.04 410.78L216.04 410.78L213.04 415.28Z" fill="#e69f00"/>
<path d="M213.70 410.91L219.70 410.91L216.70 415.41Z" fill="#e69f00"/>
<path d="M217.36 410.80L223.36 410.80L220.36 415.30Z" fill="#e69f00"/>
<path d="M221.02 410.24L227.02 410.24L224.02 414.74Z" fill="#e69f00"/>
<path d="M224.68 410.39L230.68 410.39L227.68 414.89Z" fill="#e69f00"/>
<path d="M228.34 410.20L234.34 410.20L231.34 414.70Z" fill="#e69f00"/>
<path d="M232.00 409.63L238.00 409.63L235.00 414.13Z" fill="#e69f00"/>
<path d="M235.66 409.39L241.66 409.39L238.66 413.89Z" fill="#e69f00"/>
<path d="M239.32 409.64L245.32 409.64L242.32 414.14Z" fill="#e69f00"/>
<path d="M242.98 408.87L248.98 408.87L245.98 413.37Z" fill="#e69f00"/>
<path d="M246.64 408.87L252.64 408.87L249.64 413.37Z" fill="#e69f00"/>
<path d="M250.30 408.69L256.30 408.69L253.30 413.19Z" fill="#e69f00"/>
<path d="M253.96 408.58L259.96 408.58L256.96 413.08Z" fill="#e69f00"/>
<path d="M257.62 408.11L263.62 408.11L260.62 412.61Z" fill="#e69f00"/>
<path d="M261.28 407.43L267.28 407.43L264.28 411.93Z" fill="#e69f00"/>
<path d="M264.94 407.53L270.94 407.53L267.94 412.03Z" fill="#e69f00"/>
<path d="M268.60 407.27L274.60 407.27L271.60 411.77Z" fill="#e69f00"/>
<path d="M272.26 406.89L278.26 406.89L275.26 411.39Z" fill="#e69f00"/>
<path d="M275.92 406.51L281.92 406.51L278.92 411.01Z" fill="#e69f00"/>
<path d="M279.58 405.95L285.58 405.95L282.58 410.45Z" fill="#e69f00"/>
<path d="M283.24 405.13L289.24 405.13L286.24 409.63Z" fill="#e69f00"/>
<path d="M286.90 405.22L292.90 405.22L289.90 409.72Z" fill="#e69f00"/>
<path d="M290.56 404.64L296.56 404.64L293.56 409.14Z" fill="#e69f00"/>
<path d="M294.22 403.59L300.22 403.59L297.22 408.09Z" fill="#e69f00"/>
<path d="M297.88 402.97L303.88 402.97L300.88 407.47Z" fill="#e69f00"/>
<path d="M301.54 402.36L307.54 402.36L304.54 406.86Z" fill="#e69f00"/>
<path d="M305.20 402.23L311.20 402.23L308.20 406.73Z" fill="#e69f00"/>
<path d="M308.86 401.45L314.86 401.45L311.86 405.95Z" fill="#e69f00"/>
<path d="M312.52 400.24L318.52 400.24L315.52 404.74Z" fill="#e69f00"/>
<path d="M316.18 399.76L322.18 399.76L319.18 404.26Z" fill="#e69f00"/>
<path d="M319.84 398.70L325.84 398.70L322.84 403.20Z" fill="#e69f00"/>
<path d="M323.50 398.04L329.50 398.04L326.50 402.54Z" fill="#e69f00"/>
<path d="M327.16 397.22L333.16 397.22L330.16 401.72Z" fill="#e69f00"/>
<path d="M330.82 395.78L336.82 395.78L333.82 400.28Z" fill="#e69f00"/>
<path d="M334.48 394.13L340.48 394.13L337.48 398.63Z" fill="#e69f00"/>
<path d="M338.14 392.65L344.14 392.65L341.14 397.15Z" fill="#e69f00"/>
<path d="M341.80 391.23L347.80 391.23L344.80 395.73Z" fill="#e69f00"/>
<path d="M345.46 389.51L351.46 389.51L348.46 394.01Z" fill="#e69f00"/>
<path d="M349.12 387.35L355.12 387.35L352.12 391.85Z" fill="#e69f00"/>
<path d="M352.78 385.05L358.78 385.05L355.78 389.55Z" fill="#e69f00"/>
<path d="M356.44 382.13L362.44 382.13L359.44 386.63Z" fill="#e69f00"/>
<path d="M360.10 378.41L366.10 378.41L363.10 382.91Z" fill="#e69f00"/>
<path d="M363.76 375.10L369.76 375.10L366.76 379.60Z" fill="#e69f00"/>
<path d="M367.42 369.45L373.42 369.45L370.42 373.95Z" fill="#e69f00"/>
<path d="M371.08 362.20L377.08 362.20L374.08 366.70Z" fill="#e69f00"/>
<path d="M374.74 352.96L380.74 352.96L377.74 357.46Z" fill="#e69f00"/>
<path d="M378.40 340.07L384.40 340.07L381.40 344.57Z" fill="#e69f00"/>
<path d="M382.06 312.85L388.06 312.85L385.06 317.35Z" fill="#e69f00"/>
<path d="M389.38 274.89L395.38 274.89L392.38 279.39Z" fill="#e69f00"/>
<path d="M67.50 300.32L70.30 297.32L73.10 300.32L70.30 303.32Z" fill="#ff0000"/>
<path d="M71.16 378.19L73.96 375.19L76.76 378.19L73.96 381.19Z" fill="#ff0000"/>
<path d="M74.82 391.26L77.62 388.26L80.42 391.26L77.62 394.26Z" fill="#ff0000"/>
<path d="M78.48 396.80L81.28 393.80L84.08 396.80L81.28 399.80Z" fill="#ff0000"/>
<path d="M82.14 401.19L84.94 398.19L87.74 401.19L84.94 404.19Z" fill="#ff0000"/>
<path d="M85.80 403.50L88.60 400.50L91.40 403.50L88.60 406.50Z" fill="#ff0000"/>
<path d="M89.46 405.97L92.26 402.97L95.06 405.97L92.26 408.97Z" fill="#ff0000"/>
<path d="M93.12 407.49L95.92 404.49L98.72 407.49L95.92 410.49Z" fill="#ff0000"/>
<path d="M96.78 408.07L99.58 405.07L102.38 408.07L99.58 411.07Z" fill="#ff0000"/>
<path d="M100.44 409.04L103.24 406.04L106.04 409.04L103.24 412.04Z" fill="#ff0000"/>
<path d="M104.10 409.67L106.90 406.67L109.70 409.67L106.90 412.67Z" fill="#ff0000"/>
<path d="M107.76 410.47L110.56 407.47L113.36 410.47L110.56 413.47Z" fill="#ff0000"/>
<path d="M111.42 411.07L114.22 408.07L117.02 411.07L114.22 414.07Z" fill="#ff0000"/>
<path d="M115.08 411.36L117.88 408.36L120.68 411.36L117.88 414.36Z" fill="#ff0000"/>
<path d="M118.74 412.10L121.54 409.10L124.34 412.10L121.54 415.10Z" fill="#ff0000"/>
<path d="M122.40 412.15L125.20 409.15L128.00 412.15L125.20 415.15Z" fill="#ff0000"/>
<path d="M126.06 412.46L128.86 409.46L131.66 412.46L128.86 415.46Z" fill="#ff0000"/>
<path d="M129.72 412.83L132.52 409.83L135.32 412.83L132.52 415.83Z" fill="#ff0000"/>
<path d="M133.38 412.77L136.18 409.77L138.98 412.77L136.18 415.77Z" fill="#ff0000"/>
<path d="M137.04 413.07L139.84 410.07L142.64 413.07L139.84 416.07Z" fill="#ff0000"/>
<path d="M140.70 413.09L143.50 410.09L146.30 413.09L143.50 416.09Z" fill="#ff0000"/>
<path d="M144.36 413.26L147.16 410.26L149.96 413.26L147.16 416.26Z" fill="#ff0000"/>
<path d="M148.02 413.37L150.82 410.37L153.62 413.37L150.82 416.37Z" fill="#ff0000"/>
<path d="M151.68 413.40L154.48 410.40L157.28 413.40L154.48 416.40Z" fill="#ff0000"/>
<path d="M155.34 413.31L158.14 410.31L160.94 413.31L158.14 416.31Z" fill="#ff0000"/>
<path d="M159.00 413.14L161.80 410.14L164.60 413.14L161.80 416.14Z" fill="#ff0000"/>
<path d="M162.66 413.17L165.46 410.17L168.26 413.17L165.46 416.17Z" fill="#ff0000"/>
<path d="M166.32 413.20L169.12 410.20L171.92 413.20L169.12 416.20Z" fill="#ff0000"/>
<path d="M169.98 413.20L172.78 410.20L175.58 413.20L172.78 416.20Z" fill="#ff0000"/>
<path d="M173.64 413.46L176.44 410.46L179.24 413.46L176.44 416.46Z" fill="#ff0000"/>
<path d="M177.30 413.05L180.10 410.05L182.90 413.05L180.10 416.05Z" fill="#ff0000"/>
<path d="M180.96 413.38L183.76 410.38L186.56 413.38L183.76 416.38Z" fill="#ff0000"/>
<path d="M184.62 413.40L187.42 410.40L190.22 413.40L187.42 416.40Z" fill="#ff0000"/>
<path d="M188.28 413.12L191.08 410.12L193.88 413.12L191.08 416.12Z" fill="#ff0000"/>
<path d="M191.94 412.91L194.74 409.91L197.54 412.91L194.74 415.91Z" fill="#ff0000"/>
<path d="M195.60 413.03L198.40 410.03L201.20 413.03L198.40 416.03Z" fill="#ff0000"/>
<path d="M199.26 412.75L202.06 409.75L204.86 412.75L202.06 415.75Z" fill="#ff0000"/>
<path d="M202.92 412.84L205.72 409.84L208.52 412.84L205.72 415.84Z" fill="#ff0000"/>
<path d="M206.58 412.34L209.38 409.34L212.18 412.34L209.38 415.34Z" fill="#ff0000"/>
<path d="M210.24 412.48L213.04 409.48L215.84 412.48L213.04 415.48Z" fill="#ff0000"/>
<path d="M213.90 412.32L216.70 409.32L219.50 412.32L216.70 415.32Z" fill="#ff0000"/>
<path d="M217.56 412.14L220.36 409.14L223.16 412.14L220.36 415.14Z" fill="#ff0000"/>
<path d="M221.22 411.78L224.02 408.78L226.82 411.78L224.02 414.78Z" fill="#ff0000"/>
<path d="M224.88 411.53L227.68 408.53L230.48 411.53L227.68 414.53Z" fill="#ff0000"/>
<path d="M228.54 411.60L231.34 408.60L234.14 411.60L231.34 414.60Z" fill="#ff0000"/>
<path d="M232.20 411.45L235.00 408.45L237.80 411.45L235.00 414.45Z" fill="#ff0000"/>
<path d="M235.86 411.14L238.66 408.14L241.46 411.14L238.66 414.14Z" fill="#ff0000"/>
<path d="M239.52 411.23L242.32 408.23L245.12 411.23L242.32 414.23Z" fill="#ff0000"/>
<path d="M243.18 410.78L245.98 407.78L248.78 410.78L245.98 413.78Z" fill="#ff0000"/>
<path d="M246.84 410.28L249.64 407.28L252.44 410.28L249.64 413.28Z" fill="#ff0000"/>
<path d="M250.50 410.06L253.30 407.06L256.10 410.06L253.30 413.06Z" fill="#ff0000"/>
<path d="M254.16 410.20L256.96 407.20L259.76 410.20L256.96 413.20Z" fill="#ff0000"/>
<path d="M257.82 409.43L260.62 406.43L263.42 409.43L260.62 412.43Z" fill="#ff0000"/>
<path d="M261.48 409.40L264.28 406.40L267.08 409.40L264.28 412.40Z" fill="#ff0000"/>
<path d="M265.14 408.69L267.94 405.69L270.74 408.69L267.94 411.69Z" fill="#ff0000"/>
<path d="M268.80 408.72L271.60 405.72L274.40 408.72L271.60 411.72Z" fill="#ff0000"/>
<path d="M272.46 408.45L275.26 405.45L278.06 408.45L275.26 411.45Z" fill="#ff0000"/>
<path d="M276.12 407.84L278.92 404.84L281.72 407.84L278.92 410.84Z" fill="#ff0000"/>
<path d="M279.78 407.20L282.58 404.20L285.38 407.20L282.58 410.20Z" fill="#ff0000"/>
<path d="M283.44 407.05L286.24 404.05L289.04 407.05L286.24 410.05Z" fill="#ff0000"/>
<path d="M287.10 406.29L289.90 403.29L292.70 406.29L289.90 409.29Z" fill="#ff0000"/>
<path d="M290.76 405.89L293.56 402.89L296.36 405.89L293.56 408.89Z" fill="#ff0000"/>
<path d="M294.42 405.59L297.22 402.59L300.02 405.59L297.22 408.59Z" fill="#ff0000"/>
<path d="M298.08 405.06L300.88 402.06L303.68 405.06L300.88 408.06Z" fill="#ff0000"/>
<path d="M301.74 404.30L304.54 401.30L307.34 404.30L304.54 407.30Z" fill="#ff0000"/>
<path d="M305.40 403.72L308.20 400.72L311.00 403.72L308.20 406.72Z" fill="#ff0000"/>
<path d="M309.06 403.04L311.86 400.04L314.66 403.04L311.86 406.04Z" fill="#ff0000"/>
<path d="M312.72 402.06L315.52 399.06L318.32 402.06L315.52 405.06Z" fill="#ff0000"/>
<path d="M316.38 401.06L319.18 398.06L321.98 401.06L319.18 404.06Z" fill="#ff0000"/>
<path d="M320.04 400.39L322.84 397.39L325.64 400.39L322.84 403.39Z" fill="#ff0000"/>
<path d="M323.70 399.77L326.50 396.77L329.30 399.77L326.50 402.77Z" fill="#ff0000"/>
<path d="M327.36 398.65L330.16 395.65L332.96 398.65L330.16 401.65Z" fill="#ff0000"/>
<path d="M331.02 397.36L333.82 394.36L336.62 397.36L333.82 400.36Z" fill="#ff0000"/>
<path d="M334.68 395.85L337.48 392.85L340.28 395.85L337.48 398.85Z" fill="#ff0000"/>
<path d="M338.34 394.84L341.14 391.84L343.94 394.84L341.14 397.84Z" fill="#ff0000"/>
<path d="M342.00 393.29L344.80 390.29L347.60 393.29L344.80 396.29Z" fill="#ff0000"/>
<path d="M345.66 391.25L348.46 388.25L351.26 391.25L348.46 394.25Z" fill="#ff0000"/>
<path d="M349.32 389.21L352.12 386.21L354.92 389.21L352.12 392.21Z" fill="#ff0000"/>
<path d="M352.98 387.09L355.78 384.09L358.58 387.09L355.78 390.09Z" fill="#ff0000"/>
<path d="M356.64 383.73L359.44 380.73L362.24 383.73L359.44 386.73Z" fill="#ff0000"/>
<path d="M360.30 379.91L363.10 376.91L365.90 379.91L363.10 382.91Z" fill="#ff0000"/>
<path d="M363.96 376.27L366.76 373.27L369.56 376.27L366.76 379.27Z" fill="#ff0000"/>
<path d="M367.62 370.85L370.42 367.85L373.22 370.85L370.42 373.85Z" fill="#ff0000"/>
<path d="M371.28 363.96L374.08 360.96L376.88 363.96L374.08 366.96Z" fill="#ff0000"/>
<path d="M374.94 354.58L377.74 351.58L380.54 354.58L377.74 357.58Z" fill="#ff0000"/>
<path d="M378.60 340.21L381.40 337.21L384.20 340.21L381.40 343.21Z" fill="#ff0000"/>
<path d="M382.26 315.75L385.06 312.75L387.86 315.75L385.06 318.75Z" fill="#ff0000"/>
<path d="M389.58 276.49L392.38 273.49L395.18 276.49L392.38 279.49Z" fill="#ff0000"/>
<path d="M70.30 335.27L70.52 341.09L70.73 345.99L70.95 350.20L71.17 353.85L71.38 357.07L71.60 359.93L71.82 362.49L72.03 364.80L72.25 366.90L72.47 368.81L72.68 370.57L72.90 372.19L73.12 373.69L73.33 375.08L73.55 376.38L73.77 377.59L73.98 378.72L74.20 379.79L74.42 380.80L74.63 381.74L74.85 382.64L75.07 383.49L75.28 384.30L75.50 385.06L75.71 385.79L75.93 386.49L76.15 387.15L76.36 387.79L76.58 388.39L76.80 388.97L77.01 389.53L77.23 390.07L77.45 390.58L77.66 391.08L77.88 391.55L78.10 392.01L78.31 392.45L78.53 392.88L78.75 393.29L78.96 393.69L79.18 394.08L79.40 394.45L79.61 394.81L79.83 395.16L80.05 395.50L80.26 395.83L80.48 396.15L80.70 396.46L80.91 396.76L81.13 397.05L81.35 397.33L81.56 397.61L81.78 397.88L82.00 398.14L82.21 398.39L82.43 398.64L82.65 398.88L82.86 399.12L83.08 399.35L83.30 399.57L83.51 399.79L83.73 400.01L83.95 400.22L84.16 400.42L84.38 400.62L84.60 400.81L84.81 401.00L85.03 401.19L85.25 401.37L85.46 401.55L85.68 401.72L85.90 401.90L86.11 402.06L86.33 402.23L86.54 402.39L86.76 402.54L86.98 402.70L87.19 402.85L87.41 403.00L87.63 403.14L87.84 403.28L88.06 403.42L88.28 403.56L88.49 403.69L88.71 403.82L88.93 403.95L89.14 404.08L89.36 404.21L89.58 404.33L89.79 404.45L90.01 404.57L90.23 404.68L90.44 404.80L90.66 404.91L90.88 405.02L91.09 405.13L91.31 405.23L91.53 405.34L91.74 405.44L91.96 405.54L92.18 405.64L92.39 405.74L92.61 405.84L92.83 405.93L93.04 406.03L93.26 406.12L93.48 406.21L93.69 406.30L93.91 406.39L94.13 406.47L94.34 406.56L94.56 406.64L94.78 406.72L94.99 406.80L95.21 406.88L95.43 406.96L95.64 407.04L95.86 407.12L96.08 407.19L96.29 407.27L96.51 407.34L96.73 407.41L96.94 407.49L97.16 407.56L97.38 407.63L97.59 407.69L97.81 407.76L98.02 407.83L98.24 407.89L98.46 407.96L98.67 408.02L98.89 408.09L99.11 408.15L99.32 408.21L99.54 408.27L99.76 408.33L99.97 408.39L100.19 408.45L100.41 408.51L100.62 408.56L100.84 408.62L101.06 408.67L101.27 408.73L101.49 408.78L101.71 408.84L101.92 408.89L102.14 408.94L102.36 408.99L102.57 409.04L102.79 409.09L103.01 409.14L103.22 409.19L103.44 409.24L103.66 409.29L103.87 409.33L104.09 409.38L104.31 409.43L104.52 409.47L104.74 409.52L104.96 409.56L105.17 409.61L105.39 409.65L105.61 409.69L105.82 409.73L106.04 409.78L106.26 409.82L106.47 409.86L106.69 409.90L106.91 409.94L107.12 409.98L107.34 410.02L107.56 410.06L107.77 410.10L107.99 410.13L108.20 410.17L108.42 410.21L108.64 410.24L108.85 410.28L109.07 410.32L109.29 410.35L109.50 410.39L109.72 410.42L109.94 410.45L110.15 410.49L110.37 410.52L110.59 410.56L110.80 410.59L111.02 410.62L111.24 410.65L111.45 410.68L111.67 410.72L111.89 410.75L112.10 410.78L112.32 410.81L112.54 410.84L112.75 410.87L112.97 410.90L113.19 410.93L113.40 410.95L113.62 410.98L113.84 411.01L114.05 411.04L114.27 411.07L114.49 411.09L114.70 411.12L114.92 411.15L115.14 411.17L115.35 411.20L115.57 411.23L115.79 411.25L116.00 411.28L116.22 411.30L116.44 411.33L116.65 411.35L116.87 411.38L117.09 411.40L117.30 411.42L117.52 411.45L117.74 411.47L117.95 411.49L118.17 411.52L118.39 411.54L118.60 411.56L118.82 411.58L119.03 411.61L119.25 411.63L119.47 411.65L119.68 411.67L119.90 411.69L120.12 411.71L120.33 411.73L120.55 411.75L120.77 411.77L120.98 411.79L121.20 411.81L121.42 411.83L121.63 411.85L121.85 411.87L122.07 411.89L122.28 411.91L122.50 411.93L122.72 411.95L122.93 411.97L123.15 411.99L123.37 412.00L123.58 412.02L123.80 412.04L124.02 412.06L124.23 412.07L124.45 412.09L124.67 412.11L124.88 412.12L125.10 412.14L125.32 412.16L125.53 412.17L125.75 412.19L125.97 412.21L126.18 412.22L126.40 412.24L126.62 412.25L126.83 412.27L127.05 412.28L127.27 412.30L127.48 412.31L127.70 412.33L127.92 412.34L128.13 412.36L128.35 412.37L128.57 412.38L128.78 412.40L129.00 412.41L129.22 412.43L129.43 412.44L129.65 412.45L129.87 412.47L130.08 412.48L130.30 412.49L130.51 412.51L130.73 412.52L130.95 412.53L131.16 412.54L131.38 412.56L131.60 412.57L131.81 412.58L132.03 412.59L132.25 412.60L132.46 412.62L132.68 412.63L132.90 412.64L133.11 412.65L133.33 412.66L133.55 412.67L133.76 412.68L133.98 412.69L134.20 412.71L134.41 412.72L134.63 412.73L134.85 412.74L135.06 412.75L135.28 412.76L135.50 412.77L135.71 412.78L135.93 412.79L136.15 412.80L136.36 412.81L136.58 412.82L136.80 412.83L137.01 412.84L137.23 412.84L137.45 412.85L137.66 412.86L137.88 412.87L138.10 412.88L138.31 412.89L138.53 412.90L138.75 412.91L138.96 412.92L139.18 412.92L139.40 412.93L139.61 412.94L139.83 412.95L140.05 412.96L140.26 412.96L140.48 412.97L140.69 412.98L140.91 412.99L141.13 412.99L141.34 413.00L141.56 413.01L141.78 413.02L141.99 413.02L142.21 413.03L142.43 413.04L142.64 413.05L142.86 413.05L143.08 413.06L143.29 413.07L143.51 413.07L143.73 413.08L143.94 413.09L144.16 413.09L144.38 413.10L144.59 413.10L144.81 413.11L145.03 413.12L145.24 413.12L145.46 413.13L145.68 413.13L145.89 413.14L146.11 413.15L146.33 413.15L146.54 413.16L146.76 413.16L146.98 413.17L147.19 413.17L147.41 413.18L147.63 413.18L147.84 413.19L148.06 413.19L148.28 413.20L148.49 413.20L148.71 413.21L148.93 413.21L149.14 413.22L149.36 413.22L149.58 413.23L149.79 413.23L150.01 413.23L150.23 413.24L150.44 413.24L150.66 413.25L150.88 413.25L151.09 413.25L151.31 413.26L151.52 413.26L151.74 413.27L151.96 413.27L152.17 413.27L152.39 413.28L152.61 413.28L152.82 413.28L153.04 413.29L153.26 413.29L153.47 413.29L153.69 413.30L153.91 413.30L154.12 413.30L154.34 413.31L154.56 413.31L154.77 413.31L154.99 413.32L155.21 413.32L155.42 413.32L155.64 413.32L155.86 413.33L156.07 413.33L156.29 413.33L156.51 413.33L156.72 413.34L156.94 413.34L157.16 413.34L157.37 413.34L157.59 413.35L157.81 413.35L158.02 413.35L158.24 413.35L158.46 413.35L158.67 413.36L158.89 413.36L159.11 413.36L159.32 413.36L159.54 413.36L159.76 413.36L159.97 413.37L160.19 413.37L160.41 413.37L160.62 413.37L160.84 413.37L161.06 413.37L161.27 413.37L161.49 413.37L161.71 413.38L161.92 413.38L162.14 413.38L162.35 413.38L162.57 413.38L162.79 413.38L163.00 413.38L163.22 413.38L163.44 413.38L163.65 413.38L163.87 413.38L164.09 413.38L164.30 413.38L164.52 413.39L164.74 413.39L164.95 413.39L165.17 413.39L165.39 413.39L165.60 413.39L165.82 413.39L166.04 413.39L166.25 413.39L166.47 413.39L166.69 413.39L166.90 413.39L167.12 413.39L167.34 413.39L167.55 413.39L167.77 413.39L167.99 413.39L168.20 413.39L168.42 413.38L168.64 413.38L168.85 413.38L169.07 413.38L169.29 413.38L169.50 413.38L169.72 413.38L169.94 413.38L170.15 413.38L170.37 413.38L170.59 413.38L170.80 413.38L171.02 413.38L171.24 413.38L171.45 413.37L171.67 413.37L171.89 413.37L172.10 413.37L172.32 413.37L172.54 413.37L172.75 413.37L172.97 413.37L173.19 413.36L173.40 413.36L173.62 413.36L173.83 413.36L174.05 413.36L174.27 413.36L174.48 413.35L174.70 413.35L174.92 413.35L175.13 413.35L175.35 413.35L175.57 413.35L175.78 413.34L176.00 413.34L176.22 413.34L176.43 413.34L176.65 413.34L176.87 413.33L177.08 413.33L177.30 413.33L177.52 413.33L177.73 413.32L177.95 413.32L178.17 413.32L178.38 413.32L178.60 413.32L178.82 413.31L179.03 413.31L179.25 413.31L179.47 413.30L179.68 413.30L179.90 413.30L180.12 413.30L180.33 413.29L180.55 413.29L180.77 413.29L180.98 413.29L181.20 413.28L181.42 413.28L181.63 413.28L181.85 413.27L182.07 413.27L182.28 413.27L182.50 413.26L182.72 413.26L182.93 413.26L183.15 413.25L183.37 413.25L183.58 413.25L183.80 413.24L184.01 413.24L184.23 413.24L184.45 413.23L184.66 413.23L184.88 413.23L185.10 413.22L185.31 413.22L185.53 413.22L185.75 413.21L185.96 413.21L186.18 413.20L186.40 413.20L186.61 413.20L186.83 413.19L187.05 413.19L187.26 413.19L187.48 413.18L187.70 413.18L187.91 413.17L188.13 413.17L188.35 413.16L188.56 413.16L188.78 413.16L189.00 413.15L189.21 413.15L189.43 413.14L189.65 413.14L189.86 413.13L190.08 413.13L190.30 413.13L190.51 413.12L190.73 413.12L190.95 413.11L191.16 413.11L191.38 413.10L191.60 413.10L191.81 413.09L192.03 413.09L192.25 413.08L192.46 413.08L192.68 413.07L192.90 413.07L193.11 413.06L193.33 413.06L193.55 413.05L193.76 413.05L193.98 413.04L194.20 413.04L194.41 413.03L194.63 413.03L194.84 413.02L195.06 413.02L195.28 413.01L195.49 413.01L195.71 413.00L195.93 413.00L196.14 412.99L196.36 412.98L196.58 412.98L196.79 412.97L197.01 412.97L197.23 412.96L197.44 412.96L197.66 412.95L197.88 412.94L198.09 412.94L198.31 412.93L198.53 412.93L198.74 412.92L198.96 412.92L199.18 412.91L199.39 412.90L199.61 412.90L199.83 412.89L200.04 412.89L200.26 412.88L200.48 412.87L200.69 412.87L200.91 412.86L201.13 412.85L201.34 412.85L201.56 412.84L201.78 412.83L201.99 412.83L202.21 412.82L202.43 412.82L202.64 412.81L202.86 412.80L203.08 412.80L203.29 412.79L203.51 412.78L203.73 412.78L203.94 412.77L204.16 412.76L204.38 412.76L204.59 412.75L204.81 412.74L205.03 412.73L205.24 412.73L205.46 412.72L205.67 412.71L205.89 412.71L206.11 412.70L206.32 412.69L206.54 412.68L206.76 412.68L206.97 412.67L207.19 412.66L207.41 412.66L207.62 412.65L207.84 412.64L208.06 412.63L208.27 412.63L208.49 412.62L208.71 412.61L208.92 412.60L209.14 412.60L209.36 412.59L209.57 412.58L209.79 412.57L210.01 412.56L210.22 412.56L210.44 412.55L210.66 412.54L210.87 412.53L211.09 412.53L211.31 412.52L211.52 412.51L211.74 412.50L211.96 412.49L212.17 412.49L212.39 412.48L212.61 412.47L212.82 412.46L213.04 412.45L213.26 412.44L213.47 412.44L213.69 412.43L213.91 412.42L214.12 412.41L214.34 412.40L214.56 412.39L214.77 412.39L214.99 412.38L215.21 412.37L215.42 412.36L215.64 412.35L215.86 412.34L216.07 412.33L216.29 412.32L216.50 412.32L216.72 412.31L216.94 412.30L217.15 412.29L217.37 412.28L217.59 412.27L217.80 412.26L218.02 412.25L218.24 412.24L218.45 412.23L218.67 412.23L218.89 412.22L219.10 412.21L219.32 412.20L219.54 412.19L219.75 412.18L219.97 412.17L220.19 412.16L220.40 412.15L220.62 412.14L220.84 412.13L221.05 412.12L221.27 412.11L221.49 412.10L221.70 412.09L221.92 412.08L222.14 412.07L222.35 412.06L222.57 412.05L222.79 412.04L223.00 412.03L223.22 412.02L223.44 412.01L223.65 412.00L223.87 411.99L224.09 411.98L224.30 411.97L224.52 411.96L224.74 411.95L224.95 411.94L225.17 411.93L225.39 411.92L225.60 411.91L225.82 411.90L226.04 411.89L226.25 411.88L226.47 411.87L226.69 411.86L226.90 411.85L227.12 411.84L227.33 411.83L227.55 411.82L227.77 411.80L227.98 411.79L228.20 411.78L228.42 411.77L228.63 411.76L228.85 411.75L229.07 411.74L229.28 411.73L229.50 411.72L229.72 411.71L229.93 411.69L230.15 411.68L230.37 411.67L230.58 411.66L230.80 411.65L231.02 411.64L231.23 411.63L231.45 411.62L231.67 411.60L231.88 411.59L232.10 411.58L232.32 411.57L232.53 411.56L232.75 411.55L232.97 411.53L233.18 411.52L233.40 411.51L233.62 411.50L233.83 411.49L234.05 411.47L234.27 411.46L234.48 411.45L234.70 411.44L234.92 411.43L235.13 411.41L235.35 411.40L235.57 411.39L235.78 411.38L236.00 411.36L236.22 411.35L236.43 411.34L236.65 411.33L236.87 411.31L237.08 411.30L237.30 411.29L237.52 411.28L237.73 411.26L237.95 411.25L238.16 411.24L238.38 411.23L238.60 411.21L238.81 411.20L239.03 411.19L239.25 411.17L239.46 411.16L239.68 411.15L239.90 411.14L240.11 411.12L240.33 411.11L240.55 411.10L240.76 411.08L240.98 411.07L241.20 411.06L241.41 411.04L241.63 411.03L241.85 411.01L242.06 411.00L242.28 410.99L242.50 410.97L242.71 410.96L242.93 410.95L243.15 410.93L243.36 410.92L243.58 410.91L243.80 410.89L244.01 410.88L244.23 410.86L244.45 410.85L244.66 410.83L244.88 410.82L245.10 410.81L245.31 410.79L245.53 410.78L245.75 410.76L245.96 410.75L246.18 410.73L246.40 410.72L246.61 410.71L246.83 410.69L247.05 410.68L247.26 410.66L247.48 410.65L247.70 410.63L247.91 410.62L248.13 410.60L248.35 410.59L248.56 410.57L248.78 410.56L248.99 410.54L249.21 410.53L249.43 410.51L249.64 410.50L249.86 410.48L250.08 410.47L250.29 410.45L250.51 410.44L250.73 410.42L250.94 410.40L251.16 410.39L251.38 410.37L251.59 410.36L251.81 410.34L252.03 410.33L252.24 410.31L252.46 410.29L252.68 410.28L252.89 410.26L253.11 410.25L253.33 410.23L253.54 410.21L253.76 410.20L253.98 410.18L254.19 410.17L254.41 410.15L254.63 410.13L254.84 410.12L255.06 410.10L255.28 410.08L255.49 410.07L255.71 410.05L255.93 410.03L256.14 410.02L256.36 410.00L256.58 409.98L256.79 409.97L257.01 409.95L257.23 409.93L257.44 409.91L257.66 409.90L257.88 409.88L258.09 409.86L258.31 409.84L258.53 409.83L258.74 409.81L258.96 409.79L259.18 409.77L259.39 409.76L259.61 409.74L259.82 409.72L260.04 409.70L260.26 409.69L260.47 409.67L260.69 409.65L260.91 409.63L261.12 409.61L261.34 409.60L261.56 409.58L261.77 409.56L261.99 409.54L262.21 409.52L262.42 409.50L262.64 409.49L262.86 409.47L263.07 409.45L263.29 409.43L263.51 409.41L263.72 409.39L263.94 409.37L264.16 409.35L264.37 409.34L264.59 409.32L264.81 409.30L265.02 409.28L265.24 409.26L265.46 409.24L265.67 409.22L265.89 409.20L266.11 409.18L266.32 409.16L266.54 409.14L266.76 409.12L266.97 409.10L267.19 409.08L267.41 409.06L267.62 409.04L267.84 409.02L268.06 409.00L268.27 408.98L268.49 408.96L268.71 408.94L268.92 408.92L269.14 408.90L269.36 408.88L269.57 408.86L269.79 408.84L270.01 408.82L270.22 408.80L270.44 408.78L270.65 408.75L270.87 408.73L271.09 408.71L271.30 408.69L271.52 408.67L271.74 408.65L271.95 408.63L272.17 408.61L272.39 408.58L272.60 408.56L272.82 408.54L273.04 408.52L273.25 408.50L273.47 408.48L273.69 408.45L273.90 408.43L274.12 408.41L274.34 408.39L274.55 408.37L274.77 408.34L274.99 408.32L275.20 408.30L275.42 408.28L275.64 408.25L275.85 408.23L276.07 408.21L276.29 408.18L276.50 408.16L276.72 408.14L276.94 408.12L277.15 408.09L277.37 408.07L277.59 408.05L277.80 408.02L278.02 408.00L278.24 407.98L278.45 407.95L278.67 407.93L278.89 407.90L279.10 407.88L279.32 407.86L279.54 407.83L279.75 407.81L279.97 407.78L280.19 407.76L280.40 407.73L280.62 407.71L280.84 407.69L281.05 407.66L281.27 407.64L281.49 407.61L281.70 407.59L281.92 407.56L282.13 407.54L282.35 407.51L282.57 407.49L282.78 407.46L283.00 407.43L283.22 407.41L283.43 407.38L283.65 407.36L283.87 407.33L284.08 407.31L284.30 407.28L284.52 407.25L284.73 407.23L284.95 407.20L285.17 407.18L285.38 407.15L285.60 407.12L285.82 407.10L286.03 407.07L286.25 407.04L286.47 407.01L286.68 406.99L286.90 406.96L287.12 406.93L287.33 406.91L287.55 406.88L287.77 406.85L287.98 406.82L288.20 406.80L288.42 406.77L288.63 406.74L288.85 406.71L289.07 406.68L289.28 406.66L289.50 406.63L289.72 406.60L289.93 406.57L290.15 406.54L290.37 406.51L290.58 406.48L290.80 406.45L291.02 406.43L291.23 406.40L291.45 406.37L291.67 406.34L291.88 406.31L292.10 406.28L292.31 406.25L292.53 406.22L292.75 406.19L292.96 406.16L293.18 406.13L293.40 406.10L293.61 406.07L293.83 406.04L294.05 406.01L294.26 405.98L294.48 405.94L294.70 405.91L294.91 405.88L295.13 405.85L295.35 405.82L295.56 405.79L295.78 405.76L296.00 405.72L296.21 405.69L296.43 405.66L296.65 405.63L296.86 405.60L297.08 405.56L297.30 405.53L297.51 405.50L297.73 405.47L297.95 405.43L298.16 405.40L298.38 405.37L298.60 405.33L298.81 405.30L299.03 405.27L299.25 405.23L299.46 405.20L299.68 405.17L299.90 405.13L300.11 405.10L300.33 405.06L300.55 405.03L300.76 404.99L300.98 404.96L301.20 404.93L301.41 404.89L301.63 404.85L301.85 404.82L302.06 404.78L302.28 404.75L302.50 404.71L302.71 404.68L302.93 404.64L303.14 404.60L303.36 404.57L303.58 404.53L303.79 404.50L304.01 404.46L304.23 404.42L304.44 404.38L304.66 404.35L304.88 404.31L305.09 404.27L305.31 404.24L305.53 404.20L305.74 404.16L305.96 404.12L306.18 404.08L306.39 404.04L306.61 404.01L306.83 403.97L307.04 403.93L307.26 403.89L307.48 403.85L307.69 403.81L307.91 403.77L308.13 403.73L308.34 403.69L308.56 403.65L308.78 403.61L308.99 403.57L309.21 403.53L309.43 403.49L309.64 403.45L309.86 403.41L310.08 403.37L310.29 403.32L310.51 403.28L310.73 403.24L310.94 403.20L311.16 403.16L311.38 403.11L311.59 403.07L311.81 403.03L312.03 402.99L312.24 402.94L312.46 402.90L312.68 402.86L312.89 402.81L313.11 402.77L313.33 402.72L313.54 402.68L313.76 402.63L313.97 402.59L314.19 402.54L314.41 402.50L314.62 402.45L314.84 402.41L315.06 402.36L315.27 402.32L315.49 402.27L315.71 402.22L315.92 402.18L316.14 402.13L316.36 402.08L316.57 402.04L316.79 401.99L317.01 401.94L317.22 401.89L317.44 401.84L317.66 401.80L317.87 401.75L318.09 401.70L318.31 401.65L318.52 401.60L318.74 401.55L318.96 401.50L319.17 401.45L319.39 401.40L319.61 401.35L319.82 401.30L320.04 401.25L320.26 401.20L320.47 401.15L320.69 401.09L320.91 401.04L321.12 400.99L321.34 400.94L321.56 400.88L321.77 400.83L321.99 400.78L322.21 400.72L322.42 400.67L322.64 400.62L322.86 400.56L323.07 400.51L323.29 400.45L323.51 400.40L323.72 400.34L323.94 400.29L324.16 400.23L324.37 400.17L324.59 400.12L324.80 400.06L325.02 400.00L325.24 399.95L325.45 399.89L325.67 399.83L325.89 399.77L326.10 399.71L326.32 399.65L326.54 399.60L326.75 399.54L326.97 399.48L327.19 399.42L327.40 399.35L327.62 399.29L327.84 399.23L328.05 399.17L328.27 399.11L328.49 399.05L328.70 398.98L328.92 398.92L329.14 398.86L329.35 398.79L329.57 398.73L329.79 398.67L330.00 398.60L330.22 398.54L330.44 398.47L330.65 398.41L330.87 398.34L331.09 398.27L331.30 398.21L331.52 398.14L331.74 398.07L331.95 398.00L332.17 397.94L332.39 397.87L332.60 397.80L332.82 397.73L333.04 397.66L333.25 397.59L333.47 397.52L333.69 397.45L333.90 397.37L334.12 397.30L334.34 397.23L334.55 397.16L334.77 397.08L334.99 397.01L335.20 396.94L335.42 396.86L335.63 396.79L335.85 396.71L336.07 396.63L336.28 396.56L336.50 396.48L336.72 396.40L336.93 396.33L337.15 396.25L337.37 396.17L337.58 396.09L337.80 396.01L338.02 395.93L338.23 395.85L338.45 395.77L338.67 395.68L338.88 395.60L339.10 395.52L339.32 395.44L339.53 395.35L339.75 395.27L339.97 395.18L340.18 395.10L340.40 395.01L340.62 394.92L340.83 394.84L341.05 394.75L341.27 394.66L341.48 394.57L341.70 394.48L341.92 394.39L342.13 394.30L342.35 394.21L342.57 394.12L342.78 394.02L343.00 393.93L343.22 393.84L343.43 393.74L343.65 393.65L343.87 393.55L344.08 393.45L344.30 393.36L344.52 393.26L344.73 393.16L344.95 393.06L345.17 392.96L345.38 392.86L345.60 392.76L345.82 392.66L346.03 392.55L346.25 392.45L346.46 392.34L346.68 392.24L346.90 392.13L347.11 392.03L347.33 391.92L347.55 391.81L347.76 391.70L347.98 391.59L348.20 391.48L348.41 391.37L348.63 391.25L348.85 391.14L349.06 391.03L349.28 390.91L349.50 390.80L349.71 390.68L349.93 390.56L350.15 390.44L350.36 390.32L350.58 390.20L350.80 390.08L351.01 389.95L351.23 389.83L351.45 389.71L351.66 389.58L351.88 389.45L352.10 389.32L352.31 389.20L352.53 389.07L352.75 388.93L352.96 388.80L353.18 388.67L353.40 388.53L353.61 388.40L353.83 388.26L354.05 388.12L354.26 387.98L354.48 387.84L354.70 387.70L354.91 387.56L355.13 387.41L355.35 387.27L355.56 387.12L355.78 386.97L356.00 386.82L356.21 386.67L356.43 386.52L356.65 386.36L356.86 386.21L357.08 386.05L357.29 385.89L357.51 385.73L357.73 385.57L357.94 385.41L358.16 385.24L358.38 385.07L358.59 384.91L358.81 384.74L359.03 384.56L359.24 384.39L359.46 384.22L359.68 384.04L359.89 383.86L360.11 383.68L360.33 383.50L360.54 383.31L360.76 383.13L360.98 382.94L361.19 382.75L361.41 382.56L361.63 382.36L361.84 382.17L362.06 381.97L362.28 381.77L362.49 381.57L362.71 381.36L362.93 381.15L363.14 380.94L363.36 380.73L363.58 380.52L363.79 380.30L364.01 380.08L364.23 379.86L364.44 379.63L364.66 379.40L364.88 379.17L365.09 378.94L365.31 378.70L365.53 378.46L365.74 378.22L365.96 377.98L366.18 377.73L366.39 377.48L366.61 377.22L366.83 376.96L367.04 376.70L367.26 376.44L367.48 376.17L367.69 375.90L367.91 375.62L368.13 375.34L368.34 375.06L368.56 374.77L368.77 374.48L368.99 374.19L369.21 373.89L369.42 373.58L369.64 373.27L369.86 372.96L370.07 372.64L370.29 372.32L370.51 371.99L370.72 371.66L370.94 371.32L371.16 370.98L371.37 370.63L371.59 370.28L371.81 369.92L372.02 369.55L372.24 369.18L372.46 368.80L372.67 368.42L372.89 368.03L373.11 367.63L373.32 367.23L373.54 366.82L373.76 366.40L373.97 365.97L374.19 365.54L374.41 365.10L374.62 364.65L374.84 364.19L375.06 363.72L375.27 363.25L375.49 362.76L375.71 362.26L375.92 361.76L376.14 361.24L376.36 360.72L376.57 360.18L376.79 359.63L377.01 359.07L377.22 358.50L377.44 357.91L377.66 357.31L377.87 356.70L378.09 356.07L378.31 355.43L378.52 354.78L378.74 354.10L378.95 353.41L379.17 352.71L379.39 351.98L379.60 351.24L379.82 350.47L380.04 349.69L380.25 348.89L380.47 348.06L380.69 347.21L380.90 346.33L381.12 345.43L381.34 344.50L381.55 343.54L381.77 342.55L381.99 341.53L382.20 340.48L382.42 339.39L382.64 338.27L382.85 337.11L383.07 335.90L383.29 334.65L383.50 333.35L383.72 332.01L383.94 330.61L384.15 329.15L384.37 327.63L384.59 326.05L384.80 324.40L385.02 322.67L385.24 320.86L385.45 318.96L385.67 316.97L385.89 314.88L386.10 312.67L386.32 310.35L386.54 307.88L386.75 305.28L386.97 302.50L387.19 299.55L387.40 296.40L387.62 293.02L387.84 289.39L388.05 285.48L388.27 281.24L388.49 276.62L388.70 271.58L388.92 266.04L389.04 262.50" fill="none" stroke="#000" stroke-width="1.3" stroke-linejoin="round"/>
<path d="M70.30 440.1v-7M70.30 262.5v7M108.52 440.1v-7M108.52 262.5v7M146.75 440.1v-7M146.75 262.5v7M184.97 440.1v-7M184.97 262.5v7M223.19 440.1v-7M223.19 262.5v7M261.42 440.1v-7M261.42 262.5v7M299.64 440.1v-7M299.64 262.5v7M337.86 440.1v-7M337.86 262.5v7M376.09 440.1v-7M376.09 262.5v7M70.3 440.10h7M395.2 440.10h-7M70.3 404.58h7M395.2 404.58h-7M70.3 369.06h7M395.2 369.06h-7M70.3 333.54h7M395.2 333.54h-7M70.3 298.02h7M395.2 298.02h-7M70.3 262.50h7M395.2 262.50h-7" stroke="#000" stroke-width="1" fill="none"/>
<rect x="70.3" y="262.5" width="324.90" height="177.60" fill="none" stroke="#000" stroke-width="1.1"/>
<text transform="translate(70.30 463.50) scale(1 1.11)" text-anchor="middle" font-size="19.0" >2</text>
<text transform="translate(108.52 463.50) scale(1 1.11)" text-anchor="middle" font-size="19.0" >3</text>
<text transform="translate(146.75 463.50) scale(1 1.11)" text-anchor="middle" font-size="19.0" >4</text>
<text transform="translate(184.97 463.50) scale(1 1.11)" text-anchor="middle" font-size="19.0" >5</text>
<text transform="translate(223.19 463.50) scale(1 1.11)" text-anchor="middle" font-size="19.0" >6</text>
<text transform="translate(261.42 463.50) scale(1 1.11)" text-anchor="middle" font-size="19.0" >7</text>
<text transform="translate(299.64 463.50) scale(1 1.11)" text-anchor="middle" font-size="19.0" >8</text>
<text transform="translate(337.86 463.50) scale(1 1.11)" text-anchor="middle" font-size="19.0" >9</text>
<text transform="translate(376.09 463.50) scale(1 1.11)" text-anchor="middle" font-size="19.0" >10</text>
<text transform="translate(59.90 445.10) scale(1 1.11)" text-anchor="end" font-size="19.0" >0</text>
<text transform="translate(59.90 409.58) scale(1 1.11)" text-anchor="end" font-size="19.0" >0.1</text>
<text transform="translate(59.90 374.06) scale(1 1.11)" text-anchor="end" font-size="19.0" >0.2</text>
<text transform="translate(59.90 338.54) scale(1 1.11)" text-anchor="end" font-size="19.0" >0.3</text>
<text transform="translate(59.90 303.02) scale(1 1.11)" text-anchor="end" font-size="19.0" >0.4</text>
<text transform="translate(59.90 267.50) scale(1 1.11)" text-anchor="end" font-size="19.0" >0.5</text>
<rect x="488.70" y="430.87" width="5.70" height="5.70" fill="#9400d3"/>
<rect x="491.95" y="430.80" width="5.70" height="5.70" fill="#9400d3"/>
<rect x="495.21" y="430.73" width="5.70" height="5.70" fill="#9400d3"/>
<rect x="498.46" y="430.65" width="5.70" height="5.70" fill="#9400d3"/>
<rect x="501.71" y="430.58" width="5.70" height="5.70" fill="#9400d3"/>
<rect x="504.97" y="430.41" width="5.70" height="5.70" fill="#9400d3"/>
<rect x="508.22" y="430.23" width="5.70" height="5.70" fill="#9400d3"/>
<rect x="511.47" y="430.06" width="5.70" height="5.70" fill="#9400d3"/>
<rect x="514.73" y="429.89" width="5.70" height="5.70" fill="#9400d3"/>
<rect x="517.98" y="429.64" width="5.70" height="5.70" fill="#9400d3"/>
<rect x="521.23" y="429.39" width="5.70" height="5.70" fill="#9400d3"/>
<rect x="524.49" y="429.00" width="5.70" height="5.70" fill="#9400d3"/>
<rect x="527.74" y="428.60" width="5.70" height="5.70" fill="#9400d3"/>
<rect x="530.99" y="427.62" width="5.70" height="5.70" fill="#9400d3"/>
<rect x="534.25" y="426.14" width="5.70" height="5.70" fill="#9400d3"/>
<rect x="537.50" y="423.71" width="5.70" height="5.70" fill="#9400d3"/>
<rect x="540.75" y="420.65" width="5.70" height="5.70" fill="#9400d3"/>
<rect x="544.01" y="416.98" width="5.70" height="5.70" fill="#9400d3"/>
<rect x="547.26" y="410.49" width="5.70" height="5.70" fill="#9400d3"/>
<rect x="550.51" y="402.06" width="5.70" height="5.70" fill="#9400d3"/>
<rect x="553.77" y="393.38" width="5.70" height="5.70" fill="#9400d3"/>
<rect x="557.02" y="386.41" width="5.70" height="5.70" fill="#9400d3"/>
<rect x="560.27" y="390.03" width="5.70" height="5.70" fill="#9400d3"/>
<rect x="566.78" y="286.03" width="5.70" height="5.70" fill="#9400d3"/>
<rect x="570.03" y="380.28" width="5.70" height="5.70" fill="#9400d3"/>
<rect x="573.29" y="401.33" width="5.70" height="5.70" fill="#9400d3"/>
<rect x="576.54" y="410.86" width="5.70" height="5.70" fill="#9400d3"/>
<rect x="579.80" y="415.94" width="5.70" height="5.70" fill="#9400d3"/>
<rect x="583.05" y="419.72" width="5.70" height="5.70" fill="#9400d3"/>
<rect x="586.30" y="423.08" width="5.70" height="5.70" fill="#9400d3"/>
<rect x="589.56" y="425.29" width="5.70" height="5.70" fill="#9400d3"/>
<rect x="592.81" y="427.01" width="5.70" height="5.70" fill="#9400d3"/>
<rect x="596.06" y="428.35" width="5.70" height="5.70" fill="#9400d3"/>
<rect x="599.32" y="429.20" width="5.70" height="5.70" fill="#9400d3"/>
<rect x="602.57" y="429.83" width="5.70" height="5.70" fill="#9400d3"/>
<rect x="605.82" y="430.08" width="5.70" height="5.70" fill="#9400d3"/>
<rect x="609.08" y="430.33" width="5.70" height="5.70" fill="#9400d3"/>
<rect x="612.33" y="430.58" width="5.70" height="5.70" fill="#9400d3"/>
<rect x="615.58" y="430.65" width="5.70" height="5.70" fill="#9400d3"/>
<rect x="618.84" y="430.73" width="5.70" height="5.70" fill="#9400d3"/>
<rect x="622.09" y="430.80" width="5.70" height="5.70" fill="#9400d3"/>
<rect x="625.34" y="430.87" width="5.70" height="5.70" fill="#9400d3"/>
<rect x="628.60" y="430.87" width="5.70" height="5.70" fill="#9400d3"/>
<rect x="631.85" y="430.87" width="5.70" height="5.70" fill="#9400d3"/>
<rect x="635.10" y="430.87" width="5.70" height="5.70" fill="#9400d3"/>
<rect x="638.36" y="430.87" width="5.70" height="5.70" fill="#9400d3"/>
<rect x="641.61" y="430.87" width="5.70" height="5.70" fill="#9400d3"/>
<rect x="644.86" y="430.87" width="5.70" height="5.70" fill="#9400d3"/>
<rect x="648.12" y="430.87" width="5.70" height="5.70" fill="#9400d3"/>
<rect x="651.37" y="430.87" width="5.70" height="5.70" fill="#9400d3"/>
<rect x="654.62" y="430.80" width="5.70" height="5.70" fill="#9400d3"/>
<rect x="657.88" y="430.73" width="5.70" height="5.70" fill="#9400d3"/>
<rect x="661.13" y="430.65" width="5.70" height="5.70" fill="#9400d3"/>
<rect x="664.38" y="430.58" width="5.70" height="5.70" fill="#9400d3"/>
<rect x="667.64" y="430.38" width="5.70" height="5.70" fill="#9400d3"/>
<rect x="670.89" y="430.18" width="5.70" height="5.70" fill="#9400d3"/>
<rect x="674.14" y="429.99" width="5.70" height="5.70" fill="#9400d3"/>
<rect x="677.40" y="429.57" width="5.70" height="5.70" fill="#9400d3"/>
<rect x="680.65" y="428.84" width="5.70" height="5.70" fill="#9400d3"/>
<rect x="683.90" y="427.97" width="5.70" height="5.70" fill="#9400d3"/>
<rect x="687.16" y="426.73" width="5.70" height="5.70" fill="#9400d3"/>
<rect x="690.41" y="425.15" width="5.70" height="5.70" fill="#9400d3"/>
<rect x="693.66" y="423.08" width="5.70" height="5.70" fill="#9400d3"/>
<rect x="696.92" y="420.28" width="5.70" height="5.70" fill="#9400d3"/>
<rect x="700.17" y="416.61" width="5.70" height="5.70" fill="#9400d3"/>
<rect x="703.42" y="411.10" width="5.70" height="5.70" fill="#9400d3"/>
<rect x="706.68" y="402.06" width="5.70" height="5.70" fill="#9400d3"/>
<rect x="709.93" y="383.93" width="5.70" height="5.70" fill="#9400d3"/>
<rect x="716.44" y="387.97" width="5.70" height="5.70" fill="#9400d3"/>
<rect x="719.69" y="383.93" width="5.70" height="5.70" fill="#9400d3"/>
<rect x="722.94" y="387.97" width="5.70" height="5.70" fill="#9400d3"/>
<rect x="726.20" y="397.76" width="5.70" height="5.70" fill="#9400d3"/>
<rect x="729.45" y="407.19" width="5.70" height="5.70" fill="#9400d3"/>
<rect x="732.71" y="413.90" width="5.70" height="5.70" fill="#9400d3"/>
<rect x="735.96" y="418.84" width="5.70" height="5.70" fill="#9400d3"/>
<rect x="739.21" y="422.25" width="5.70" height="5.70" fill="#9400d3"/>
<rect x="742.47" y="424.30" width="5.70" height="5.70" fill="#9400d3"/>
<rect x="745.72" y="425.90" width="5.70" height="5.70" fill="#9400d3"/>
<rect x="748.97" y="427.12" width="5.70" height="5.70" fill="#9400d3"/>
<rect x="752.23" y="428.11" width="5.70" height="5.70" fill="#9400d3"/>
<rect x="755.48" y="428.84" width="5.70" height="5.70" fill="#9400d3"/>
<rect x="758.73" y="429.27" width="5.70" height="5.70" fill="#9400d3"/>
<rect x="761.99" y="429.69" width="5.70" height="5.70" fill="#9400d3"/>
<rect x="765.24" y="429.92" width="5.70" height="5.70" fill="#9400d3"/>
<rect x="768.49" y="430.15" width="5.70" height="5.70" fill="#9400d3"/>
<rect x="771.75" y="430.38" width="5.70" height="5.70" fill="#9400d3"/>
<rect x="775.00" y="430.48" width="5.70" height="5.70" fill="#9400d3"/>
<rect x="778.25" y="430.58" width="5.70" height="5.70" fill="#9400d3"/>
<rect x="781.51" y="430.68" width="5.70" height="5.70" fill="#9400d3"/>
<rect x="784.76" y="430.78" width="5.70" height="5.70" fill="#9400d3"/>
<rect x="788.01" y="430.79" width="5.70" height="5.70" fill="#9400d3"/>
<rect x="791.27" y="430.80" width="5.70" height="5.70" fill="#9400d3"/>
<rect x="794.52" y="430.81" width="5.70" height="5.70" fill="#9400d3"/>
<rect x="797.77" y="430.82" width="5.70" height="5.70" fill="#9400d3"/>
<rect x="801.03" y="430.84" width="5.70" height="5.70" fill="#9400d3"/>
<rect x="804.28" y="430.85" width="5.70" height="5.70" fill="#9400d3"/>
<rect x="807.53" y="430.86" width="5.70" height="5.70" fill="#9400d3"/>
<rect x="810.79" y="430.87" width="5.70" height="5.70" fill="#9400d3"/>
<circle cx="491.55" cy="429.26" r="2.7" fill="#009e73"/>
<circle cx="494.80" cy="429.08" r="2.7" fill="#009e73"/>
<circle cx="498.06" cy="428.80" r="2.7" fill="#009e73"/>
<circle cx="501.31" cy="428.41" r="2.7" fill="#009e73"/>
<circle cx="504.56" cy="428.03" r="2.7" fill="#009e73"/>
<circle cx="507.82" cy="427.51" r="2.7" fill="#009e73"/>
<circle cx="511.07" cy="426.78" r="2.7" fill="#009e73"/>
<circle cx="514.32" cy="425.99" r="2.7" fill="#009e73"/>
<circle cx="517.58" cy="425.03" r="2.7" fill="#009e73"/>
<circle cx="520.83" cy="423.77" r="2.7" fill="#009e73"/>
<circle cx="524.08" cy="422.11" r="2.7" fill="#009e73"/>
<circle cx="527.34" cy="420.11" r="2.7" fill="#009e73"/>
<circle cx="530.59" cy="417.23" r="2.7" fill="#009e73"/>
<circle cx="533.84" cy="413.79" r="2.7" fill="#009e73"/>
<circle cx="537.10" cy="408.89" r="2.7" fill="#009e73"/>
<circle cx="540.35" cy="402.08" r="2.7" fill="#009e73"/>
<circle cx="543.60" cy="392.42" r="2.7" fill="#009e73"/>
<circle cx="546.86" cy="378.67" r="2.7" fill="#009e73"/>
<circle cx="550.11" cy="357.49" r="2.7" fill="#009e73"/>
<circle cx="553.36" cy="328.48" r="2.7" fill="#009e73"/>
<circle cx="556.62" cy="296.72" r="2.7" fill="#009e73"/>
<circle cx="559.87" cy="279.09" r="2.7" fill="#009e73"/>
<circle cx="563.12" cy="288.44" r="2.7" fill="#009e73"/>
<circle cx="566.38" cy="319.46" r="2.7" fill="#009e73"/>
<circle cx="569.63" cy="350.87" r="2.7" fill="#009e73"/>
<circle cx="572.88" cy="373.66" r="2.7" fill="#009e73"/>
<circle cx="576.14" cy="388.99" r="2.7" fill="#009e73"/>
<circle cx="579.39" cy="399.52" r="2.7" fill="#009e73"/>
<circle cx="582.65" cy="407.33" r="2.7" fill="#009e73"/>
<circle cx="585.90" cy="412.65" r="2.7" fill="#009e73"/>
<circle cx="589.15" cy="416.43" r="2.7" fill="#009e73"/>
<circle cx="592.41" cy="419.36" r="2.7" fill="#009e73"/>
<circle cx="595.66" cy="421.51" r="2.7" fill="#009e73"/>
<circle cx="598.91" cy="423.25" r="2.7" fill="#009e73"/>
<circle cx="602.17" cy="424.68" r="2.7" fill="#009e73"/>
<circle cx="605.42" cy="425.75" r="2.7" fill="#009e73"/>
<circle cx="608.67" cy="426.60" r="2.7" fill="#009e73"/>
<circle cx="611.93" cy="427.27" r="2.7" fill="#009e73"/>
<circle cx="615.18" cy="427.90" r="2.7" fill="#009e73"/>
<circle cx="618.43" cy="428.35" r="2.7" fill="#009e73"/>
<circle cx="621.69" cy="428.74" r="2.7" fill="#009e73"/>
<circle cx="624.94" cy="428.99" r="2.7" fill="#009e73"/>
<circle cx="628.19" cy="429.27" r="2.7" fill="#009e73"/>
<circle cx="631.45" cy="429.37" r="2.7" fill="#009e73"/>
<circle cx="634.70" cy="429.53" r="2.7" fill="#009e73"/>
<circle cx="637.95" cy="429.60" r="2.7" fill="#009e73"/>
<circle cx="641.21" cy="429.66" r="2.7" fill="#009e73"/>
<circle cx="644.46" cy="429.63" r="2.7" fill="#009e73"/>
<circle cx="647.71" cy="429.55" r="2.7" fill="#009e73"/>
<circle cx="650.97" cy="429.42" r="2.7" fill="#009e73"/>
<circle cx="654.22" cy="429.28" r="2.7" fill="#009e73"/>
<circle cx="657.47" cy="429.09" r="2.7" fill="#009e73"/>
<circle cx="660.73" cy="428.76" r="2.7" fill="#009e73"/>
<circle cx="663.98" cy="428.43" r="2.7" fill="#009e73"/>
<circle cx="667.23" cy="428.01" r="2.7" fill="#009e73"/>
<circle cx="670.49" cy="427.50" r="2.7" fill="#009e73"/>
<circle cx="673.74" cy="426.84" r="2.7" fill="#009e73"/>
<circle cx="676.99" cy="425.95" r="2.7" fill="#009e73"/>
<circle cx="680.25" cy="425.03" r="2.7" fill="#009e73"/>
<circle cx="683.50" cy="423.70" r="2.7" fill="#009e73"/>
<circle cx="686.75" cy="422.07" r="2.7" fill="#009e73"/>
<circle cx="690.01" cy="420.04" r="2.7" fill="#009e73"/>
<circle cx="693.26" cy="417.25" r="2.7" fill="#009e73"/>
<circle cx="696.51" cy="413.60" r="2.7" fill="#009e73"/>
<circle cx="699.77" cy="408.70" r="2.7" fill="#009e73"/>
<circle cx="703.02" cy="401.94" r="2.7" fill="#009e73"/>
<circle cx="706.27" cy="392.58" r="2.7" fill="#009e73"/>
<circle cx="709.53" cy="378.92" r="2.7" fill="#009e73"/>
<circle cx="712.78" cy="357.68" r="2.7" fill="#009e73"/>
<circle cx="716.03" cy="328.93" r="2.7" fill="#009e73"/>
<circle cx="719.29" cy="297.13" r="2.7" fill="#009e73"/>
<circle cx="722.54" cy="277.63" r="2.7" fill="#009e73"/>
<circle cx="725.79" cy="289.78" r="2.7" fill="#009e73"/>
<circle cx="729.05" cy="319.28" r="2.7" fill="#009e73"/>
<circle cx="732.30" cy="350.00" r="2.7" fill="#009e73"/>
<circle cx="735.56" cy="373.90" r="2.7" fill="#009e73"/>
<circle cx="738.81" cy="388.90" r="2.7" fill="#009e73"/>
<circle cx="742.06" cy="399.77" r="2.7" fill="#009e73"/>
<circle cx="745.32" cy="407.28" r="2.7" fill="#009e73"/>
<circle cx="748.57" cy="412.60" r="2.7" fill="#009e73"/>
<circle cx="751.82" cy="416.53" r="2.7" fill="#009e73"/>
<circle cx="755.08" cy="419.35" r="2.7" fill="#009e73"/>
<circle cx="758.33" cy="421.59" r="2.7" fill="#009e73"/>
<circle cx="761.58" cy="423.25" r="2.7" fill="#009e73"/>
<circle cx="764.84" cy="424.62" r="2.7" fill="#009e73"/>
<circle cx="768.09" cy="425.79" r="2.7" fill="#009e73"/>
<circle cx="771.34" cy="426.62" r="2.7" fill="#009e73"/>
<circle cx="774.60" cy="427.32" r="2.7" fill="#009e73"/>
<circle cx="777.85" cy="427.91" r="2.7" fill="#009e73"/>
<circle cx="781.10" cy="428.36" r="2.7" fill="#009e73"/>
<circle cx="784.36" cy="428.73" r="2.7" fill="#009e73"/>
<circle cx="787.61" cy="428.99" r="2.7" fill="#009e73"/>
<circle cx="790.86" cy="429.24" r="2.7" fill="#009e73"/>
<circle cx="794.12" cy="429.43" r="2.7" fill="#009e73"/>
<circle cx="797.37" cy="429.55" r="2.7" fill="#009e73"/>
<circle cx="800.62" cy="429.60" r="2.7" fill="#009e73"/>
<circle cx="803.88" cy="429.62" r="2.7" fill="#009e73"/>
<circle cx="807.13" cy="429.63" r="2.7" fill="#009e73"/>
<circle cx="810.38" cy="429.54" r="2.7" fill="#009e73"/>
<circle cx="813.64" cy="429.46" r="2.7" fill="#009e73"/>
<path d="M488.55 430.84L494.55 430.84L491.55 426.34Z" fill="#56b4e9"/>
<path d="M491.80 430.63L497.80 430.63L494.80 426.13Z" fill="#56b4e9"/>
<path d="M495.06 430.38L501.06 430.38L498.06 425.88Z" fill="#56b4e9"/>
<path d="M498.31 429.98L504.31 429.98L501.31 425.48Z" fill="#56b4e9"/>
<path d="M501.56 429.57L507.56 429.57L504.56 425.07Z" fill="#56b4e9"/>
<path d="M504.82 429.02L510.82 429.02L507.82 424.52Z" fill="#56b4e9"/>
<path d="M508.07 428.34L514.07 428.34L511.07 423.84Z" fill="#56b4e9"/>
<path d="M511.32 427.50L517.32 427.50L514.32 423.00Z" fill="#56b4e9"/>
<path d="M514.58 426.49L520.58 426.49L517.58 421.99Z" fill="#56b4e9"/>
<path d="M517.83 425.25L523.83 425.25L520.83 420.75Z" fill="#56b4e9"/>
<path d="M521.08 423.49L527.08 423.49L524.08 418.99Z" fill="#56b4e9"/>
<path d="M524.34 421.34L530.34 421.34L527.34 416.84Z" fill="#56b4e9"/>
<path d="M527.59 418.62L533.59 418.62L530.59 414.12Z" fill="#56b4e9"/>
<path d="M530.84 414.87L536.84 414.87L533.84 410.37Z" fill="#56b4e9"/>
<path d="M534.10 409.86L540.10 409.86L537.10 405.36Z" fill="#56b4e9"/>
<path d="M537.35 402.47L543.35 402.47L540.35 397.97Z" fill="#56b4e9"/>
<path d="M540.60 392.23L546.60 392.23L543.60 387.73Z" fill="#56b4e9"/>
<path d="M543.86 377.43L549.86 377.43L546.86 372.93Z" fill="#56b4e9"/>
<path d="M547.11 354.80L553.11 354.80L550.11 350.30Z" fill="#56b4e9"/>
<path d="M550.36 324.01L556.36 324.01L553.36 319.51Z" fill="#56b4e9"/>
<path d="M553.62 291.18L559.62 291.18L556.62 286.68Z" fill="#56b4e9"/>
<path d="M556.87 270.67L562.87 270.67L559.87 266.17Z" fill="#56b4e9"/>
<path d="M560.12 283.22L566.12 283.22L563.12 278.72Z" fill="#56b4e9"/>
<path d="M563.38 315.70L569.38 315.70L566.38 311.20Z" fill="#56b4e9"/>
<path d="M566.63 347.33L572.63 347.33L569.63 342.83Z" fill="#56b4e9"/>
<path d="M569.88 372.09L575.88 372.09L572.88 367.59Z" fill="#56b4e9"/>
<path d="M573.14 388.62L579.14 388.62L576.14 384.12Z" fill="#56b4e9"/>
<path d="M576.39 400.14L582.39 400.14L579.39 395.64Z" fill="#56b4e9"/>
<path d="M579.65 408.20L585.65 408.20L582.65 403.70Z" fill="#56b4e9"/>
<path d="M582.90 413.64L588.90 413.64L585.90 409.14Z" fill="#56b4e9"/>
<path d="M586.15 417.62L592.15 417.62L589.15 413.12Z" fill="#56b4e9"/>
<path d="M589.41 420.72L595.41 420.72L592.41 416.22Z" fill="#56b4e9"/>
<path d="M592.66 423.00L598.66 423.00L595.66 418.50Z" fill="#56b4e9"/>
<path d="M595.91 424.72L601.91 424.72L598.91 420.22Z" fill="#56b4e9"/>
<path d="M599.17 426.17L605.17 426.17L602.17 421.67Z" fill="#56b4e9"/>
<path d="M602.42 427.26L608.42 427.26L605.42 422.76Z" fill="#56b4e9"/>
<path d="M605.67 428.13L611.67 428.13L608.67 423.63Z" fill="#56b4e9"/>
<path d="M608.93 428.82L614.93 428.82L611.93 424.32Z" fill="#56b4e9"/>
<path d="M612.18 429.45L618.18 429.45L615.18 424.95Z" fill="#56b4e9"/>
<path d="M615.43 429.93L621.43 429.93L618.43 425.43Z" fill="#56b4e9"/>
<path d="M618.69 430.25L624.69 430.25L621.69 425.75Z" fill="#56b4e9"/>
<path d="M621.94 430.56L627.94 430.56L624.94 426.06Z" fill="#56b4e9"/>
<path d="M625.19 430.81L631.19 430.81L628.19 426.31Z" fill="#56b4e9"/>
<path d="M628.45 430.94L634.45 430.94L631.45 426.44Z" fill="#56b4e9"/>
<path d="M631.70 431.07L637.70 431.07L634.70 426.57Z" fill="#56b4e9"/>
<path d="M634.95 431.17L640.95 431.17L637.95 426.67Z" fill="#56b4e9"/>
<path d="M638.21 431.17L644.21 431.17L641.21 426.67Z" fill="#56b4e9"/>
<path d="M641.46 431.16L647.46 431.16L644.46 426.66Z" fill="#56b4e9"/>
<path d="M644.71 431.10L650.71 431.10L647.71 426.60Z" fill="#56b4e9"/>
<path d="M647.97 431.03L653.97 431.03L650.97 426.53Z" fill="#56b4e9"/>
<path d="M651.22 430.89L657.22 430.89L654.22 426.39Z" fill="#56b4e9"/>
<path d="M654.47 430.62L660.47 430.62L657.47 426.12Z" fill="#56b4e9"/>
<path d="M657.73 430.34L663.73 430.34L660.73 425.84Z" fill="#56b4e9"/>
<path d="M660.98 430.02L666.98 430.02L663.98 425.52Z" fill="#56b4e9"/>
<path d="M664.23 429.57L670.23 429.57L667.23 425.07Z" fill="#56b4e9"/>
<path d="M667.49 429.01L673.49 429.01L670.49 424.51Z" fill="#56b4e9"/>
<path d="M670.74 428.38L676.74 428.38L673.74 423.88Z" fill="#56b4e9"/>
<path d="M673.99 427.50L679.99 427.50L676.99 423.00Z" fill="#56b4e9"/>
<path d="M677.25 426.48L683.25 426.48L680.25 421.98Z" fill="#56b4e9"/>
<path d="M680.50 425.20L686.50 425.20L683.50 420.70Z" fill="#56b4e9"/>
<path d="M683.75 423.60L689.75 423.60L686.75 419.10Z" fill="#56b4e9"/>
<path d="M687.01 421.40L693.01 421.40L690.01 416.90Z" fill="#56b4e9"/>
<path d="M690.26 418.66L696.26 418.66L693.26 414.16Z" fill="#56b4e9"/>
<path d="M693.51 414.83L699.51 414.83L696.51 410.33Z" fill="#56b4e9"/>
<path d="M696.77 409.90L702.77 409.90L699.77 405.40Z" fill="#56b4e9"/>
<path d="M700.02 402.67L706.02 402.67L703.02 398.17Z" fill="#56b4e9"/>
<path d="M703.27 392.50L709.27 392.50L706.27 388.00Z" fill="#56b4e9"/>
<path d="M706.53 377.30L712.53 377.30L709.53 372.80Z" fill="#56b4e9"/>
<path d="M709.78 355.04L715.78 355.04L712.78 350.54Z" fill="#56b4e9"/>
<path d="M713.03 325.20L719.03 325.20L716.03 320.70Z" fill="#56b4e9"/>
<path d="M716.29 291.69L722.29 291.69L719.29 287.19Z" fill="#56b4e9"/>
<path d="M719.54 271.69L725.54 271.69L722.54 267.19Z" fill="#56b4e9"/>
<path d="M722.79 283.74L728.79 283.74L725.79 279.24Z" fill="#56b4e9"/>
<path d="M726.05 315.22L732.05 315.22L729.05 310.72Z" fill="#56b4e9"/>
<path d="M729.30 347.93L735.30 347.93L732.30 343.43Z" fill="#56b4e9"/>
<path d="M732.56 372.27L738.56 372.27L735.56 367.77Z" fill="#56b4e9"/>
<path d="M735.81 388.74L741.81 388.74L738.81 384.24Z" fill="#56b4e9"/>
<path d="M739.06 399.99L745.06 399.99L742.06 395.49Z" fill="#56b4e9"/>
<path d="M742.32 407.94L748.32 407.94L745.32 403.44Z" fill="#56b4e9"/>
<path d="M745.57 413.65L751.57 413.65L748.57 409.15Z" fill="#56b4e9"/>
<path d="M748.82 417.73L754.82 417.73L751.82 413.23Z" fill="#56b4e9"/>
<path d="M752.08 420.80L758.08 420.80L755.08 416.30Z" fill="#56b4e9"/>
<path d="M755.33 423.04L761.33 423.04L758.33 418.54Z" fill="#56b4e9"/>
<path d="M758.58 424.80L764.58 424.80L761.58 420.30Z" fill="#56b4e9"/>
<path d="M761.84 426.10L767.84 426.10L764.84 421.60Z" fill="#56b4e9"/>
<path d="M765.09 427.30L771.09 427.30L768.09 422.80Z" fill="#56b4e9"/>
<path d="M768.34 428.09L774.34 428.09L771.34 423.59Z" fill="#56b4e9"/>
<path d="M771.60 428.85L777.60 428.85L774.60 424.35Z" fill="#56b4e9"/>
<path d="M774.85 429.43L780.85 429.43L777.85 424.93Z" fill="#56b4e9"/>
<path d="M778.10 429.91L784.10 429.91L781.10 425.41Z" fill="#56b4e9"/>
<path d="M781.36 430.23L787.36 430.23L784.36 425.73Z" fill="#56b4e9"/>
<path d="M784.61 430.59L790.61 430.59L787.61 426.09Z" fill="#56b4e9"/>
<path d="M787.86 430.79L793.86 430.79L790.86 426.29Z" fill="#56b4e9"/>
<path d="M791.12 430.97L797.12 430.97L794.12 426.47Z" fill="#56b4e9"/>
<path d="M794.37 431.12L800.37 431.12L797.37 426.62Z" fill="#56b4e9"/>
<path d="M797.62 431.19L803.62 431.19L800.62 426.69Z" fill="#56b4e9"/>
<path d="M800.88 431.17L806.88 431.17L803.88 426.67Z" fill="#56b4e9"/>
<path d="M804.13 431.16L810.13 431.16L807.13 426.66Z" fill="#56b4e9"/>
<path d="M807.38 431.10L813.38 431.10L810.38 426.60Z" fill="#56b4e9"/>
<path d="M810.64 430.98L816.64 430.98L813.64 426.48Z" fill="#56b4e9"/>
<path d="M488.55 427.68L494.55 427.68L491.55 432.18Z" fill="#e69f00"/>
<path d="M491.80 427.42L497.80 427.42L494.80 431.92Z" fill="#e69f00"/>
<path d="M495.06 427.14L501.06 427.14L498.06 431.64Z" fill="#e69f00"/>
<path d="M498.31 426.83L504.31 426.83L501.31 431.33Z" fill="#e69f00"/>
<path d="M501.56 426.37L507.56 426.37L504.56 430.87Z" fill="#e69f00"/>
<path d="M504.82 425.77L510.82 425.77L507.82 430.27Z" fill="#e69f00"/>
<path d="M508.07 425.17L514.07 425.17L511.07 429.67Z" fill="#e69f00"/>
<path d="M511.32 424.29L517.32 424.29L514.32 428.79Z" fill="#e69f00"/>
<path d="M514.58 423.33L520.58 423.33L517.58 427.83Z" fill="#e69f00"/>
<path d="M517.83 421.96L523.83 421.96L520.83 426.46Z" fill="#e69f00"/>
<path d="M521.08 420.37L527.08 420.37L524.08 424.87Z" fill="#e69f00"/>
<path d="M524.34 418.21L530.34 418.21L527.34 422.71Z" fill="#e69f00"/>
<path d="M527.59 415.45L533.59 415.45L530.59 419.95Z" fill="#e69f00"/>
<path d="M530.84 411.59L536.84 411.59L533.84 416.09Z" fill="#e69f00"/>
<path d="M534.10 406.51L540.10 406.51L537.10 411.01Z" fill="#e69f00"/>
<path d="M537.35 399.43L543.35 399.43L540.35 403.93Z" fill="#e69f00"/>
<path d="M540.60 389.03L546.60 389.03L543.60 393.53Z" fill="#e69f00"/>
<path d="M543.86 374.08L549.86 374.08L546.86 378.58Z" fill="#e69f00"/>
<path d="M547.11 351.61L553.11 351.61L550.11 356.11Z" fill="#e69f00"/>
<path d="M550.36 321.79L556.36 321.79L553.36 326.29Z" fill="#e69f00"/>
<path d="M553.62 287.63L559.62 287.63L556.62 292.13Z" fill="#e69f00"/>
<path d="M556.87 268.29L562.87 268.29L559.87 272.79Z" fill="#e69f00"/>
<path d="M560.12 280.20L566.12 280.20L563.12 284.70Z" fill="#e69f00"/>
<path d="M563.38 312.69L569.38 312.69L566.38 317.19Z" fill="#e69f00"/>
<path d="M566.63 344.72L572.63 344.72L569.63 349.22Z" fill="#e69f00"/>
<path d="M569.88 368.65L575.88 368.65L572.88 373.15Z" fill="#e69f00"/>
<path d="M573.14 385.73L579.14 385.73L576.14 390.23Z" fill="#e69f00"/>
<path d="M576.39 396.86L582.39 396.86L579.39 401.36Z" fill="#e69f00"/>
<path d="M579.65 404.87L585.65 404.87L582.65 409.37Z" fill="#e69f00"/>
<path d="M582.90 410.32L588.90 410.32L585.90 414.82Z" fill="#e69f00"/>
<path d="M586.15 414.42L592.15 414.42L589.15 418.92Z" fill="#e69f00"/>
<path d="M589.41 417.47L595.41 417.47L592.41 421.97Z" fill="#e69f00"/>
<path d="M592.66 419.83L598.66 419.83L595.66 424.33Z" fill="#e69f00"/>
<path d="M595.91 421.64L601.91 421.64L598.91 426.14Z" fill="#e69f00"/>
<path d="M599.17 422.95L605.17 422.95L602.17 427.45Z" fill="#e69f00"/>
<path d="M602.42 424.03L608.42 424.03L605.42 428.53Z" fill="#e69f00"/>
<path d="M605.67 424.89L611.67 424.89L608.67 429.39Z" fill="#e69f00"/>
<path d="M608.93 425.68L614.93 425.68L611.93 430.18Z" fill="#e69f00"/>
<path d="M612.18 426.26L618.18 426.26L615.18 430.76Z" fill="#e69f00"/>
<path d="M615.43 426.65L621.43 426.65L618.43 431.15Z" fill="#e69f00"/>
<path d="M618.69 427.05L624.69 427.05L621.69 431.55Z" fill="#e69f00"/>
<path d="M621.94 427.37L627.94 427.37L624.94 431.87Z" fill="#e69f00"/>
<path d="M625.19 427.58L631.19 427.58L628.19 432.08Z" fill="#e69f00"/>
<path d="M628.45 427.80L634.45 427.80L631.45 432.30Z" fill="#e69f00"/>
<path d="M631.70 427.89L637.70 427.89L634.70 432.39Z" fill="#e69f00"/>
<path d="M634.95 427.96L640.95 427.96L637.95 432.46Z" fill="#e69f00"/>
<path d="M638.21 427.99L644.21 427.99L641.21 432.49Z" fill="#e69f00"/>
<path d="M641.46 428.01L647.46 428.01L644.46 432.51Z" fill="#e69f00"/>
<path d="M644.71 427.95L650.71 427.95L647.71 432.45Z" fill="#e69f00"/>
<path d="M647.97 427.80L653.97 427.80L650.97 432.30Z" fill="#e69f00"/>
<path d="M651.22 427.62L657.22 427.62L654.22 432.12Z" fill="#e69f00"/>
<path d="M654.47 427.46L660.47 427.46L657.47 431.96Z" fill="#e69f00"/>
<path d="M657.73 427.20L663.73 427.20L660.73 431.70Z" fill="#e69f00"/>
<path d="M660.98 426.84L666.98 426.84L663.98 431.34Z" fill="#e69f00"/>
<path d="M664.23 426.34L670.23 426.34L667.23 430.84Z" fill="#e69f00"/>
<path d="M667.49 425.83L673.49 425.83L670.49 430.33Z" fill="#e69f00"/>
<path d="M670.74 425.15L676.74 425.15L673.74 429.65Z" fill="#e69f00"/>
<path d="M673.99 424.26L679.99 424.26L676.99 428.76Z" fill="#e69f00"/>
<path d="M677.25 423.27L683.25 423.27L680.25 427.77Z" fill="#e69f00"/>
<path d="M680.50 422.02L686.50 422.02L683.50 426.52Z" fill="#e69f00"/>
<path d="M683.75 420.30L689.75 420.30L686.75 424.80Z" fill="#e69f00"/>
<path d="M687.01 418.30L693.01 418.30L690.01 422.80Z" fill="#e69f00"/>
<path d="M690.26 415.47L696.26 415.47L693.26 419.97Z" fill="#e69f00"/>
<path d="M693.51 411.64L699.51 411.64L696.51 416.14Z" fill="#e69f00"/>
<path d="M696.77 406.70L702.77 406.70L699.77 411.20Z" fill="#e69f00"/>
<path d="M700.02 399.62L706.02 399.62L703.02 404.12Z" fill="#e69f00"/>
<path d="M703.27 389.12L709.27 389.12L706.27 393.62Z" fill="#e69f00"/>
<path d="M706.53 374.15L712.53 374.15L709.53 378.65Z" fill="#e69f00"/>
<path d="M709.78 351.45L715.78 351.45L712.78 355.95Z" fill="#e69f00"/>
<path d="M713.03 322.00L719.03 322.00L716.03 326.50Z" fill="#e69f00"/>
<path d="M716.29 287.18L722.29 287.18L719.29 291.68Z" fill="#e69f00"/>
<path d="M719.54 268.68L725.54 268.68L722.54 273.18Z" fill="#e69f00"/>
<path d="M722.79 279.43L728.79 279.43L725.79 283.93Z" fill="#e69f00"/>
<path d="M726.05 312.11L732.05 312.11L729.05 316.61Z" fill="#e69f00"/>
<path d="M729.30 344.19L735.30 344.19L732.30 348.69Z" fill="#e69f00"/>
<path d="M732.56 368.90L738.56 368.90L735.56 373.40Z" fill="#e69f00"/>
<path d="M735.81 385.72L741.81 385.72L738.81 390.22Z" fill="#e69f00"/>
<path d="M739.06 397.00L745.06 397.00L742.06 401.50Z" fill="#e69f00"/>
<path d="M742.32 404.76L748.32 404.76L745.32 409.26Z" fill="#e69f00"/>
<path d="M745.57 410.49L751.57 410.49L748.57 414.99Z" fill="#e69f00"/>
<path d="M748.82 414.57L754.82 414.57L751.82 419.07Z" fill="#e69f00"/>
<path d="M752.08 417.54L758.08 417.54L755.08 422.04Z" fill="#e69f00"/>
<path d="M755.33 419.87L761.33 419.87L758.33 424.37Z" fill="#e69f00"/>
<path d="M758.58 421.60L764.58 421.60L761.58 426.10Z" fill="#e69f00"/>
<path d="M761.84 422.95L767.84 422.95L764.84 427.45Z" fill="#e69f00"/>
<path d="M765.09 424.05L771.09 424.05L768.09 428.55Z" fill="#e69f00"/>
<path d="M768.34 424.93L774.34 424.93L771.34 429.43Z" fill="#e69f00"/>
<path d="M771.60 425.67L777.60 425.67L774.60 430.17Z" fill="#e69f00"/>
<path d="M774.85 426.27L780.85 426.27L777.85 430.77Z" fill="#e69f00"/>
<path d="M778.10 426.73L784.10 426.73L781.10 431.23Z" fill="#e69f00"/>
<path d="M781.36 427.08L787.36 427.08L784.36 431.58Z" fill="#e69f00"/>
<path d="M784.61 427.39L790.61 427.39L787.61 431.89Z" fill="#e69f00"/>
<path d="M787.86 427.59L793.86 427.59L790.86 432.09Z" fill="#e69f00"/>
<path d="M791.12 427.79L797.12 427.79L794.12 432.29Z" fill="#e69f00"/>
<path d="M794.37 427.88L800.37 427.88L797.37 432.38Z" fill="#e69f00"/>
<path d="M797.62 427.96L803.62 427.96L800.62 432.46Z" fill="#e69f00"/>
<path d="M800.88 427.99L806.88 427.99L803.88 432.49Z" fill="#e69f00"/>
<path d="M804.13 427.97L810.13 427.97L807.13 432.47Z" fill="#e69f00"/>
<path d="M807.38 427.92L813.38 427.92L810.38 432.42Z" fill="#e69f00"/>
<path d="M810.64 427.82L816.64 427.82L813.64 432.32Z" fill="#e69f00"/>
<path d="M488.75 429.27L491.55 426.27L494.35 429.27L491.55 432.27Z" fill="#ff0000"/>
<path d="M492.00 429.07L494.80 426.07L497.60 429.07L494.80 432.07Z" fill="#ff0000"/>
<path d="M495.26 428.73L498.06 425.73L500.86 428.73L498.06 431.73Z" fill="#ff0000"/>
<path d="M498.51 428.40L501.31 425.40L504.11 428.40L501.31 431.40Z" fill="#ff0000"/>
<path d="M501.76 428.00L504.56 425.00L507.36 428.00L504.56 431.00Z" fill="#ff0000"/>
<path d="M505.02 427.38L507.82 424.38L510.62 427.38L507.82 430.38Z" fill="#ff0000"/>
<path d="M508.27 426.74L511.07 423.74L513.87 426.74L511.07 429.74Z" fill="#ff0000"/>
<path d="M511.52 425.91L514.32 422.91L517.12 425.91L514.32 428.91Z" fill="#ff0000"/>
<path d="M514.78 424.89L517.58 421.89L520.38 424.89L517.58 427.89Z" fill="#ff0000"/>
<path d="M518.03 423.64L520.83 420.64L523.63 423.64L520.83 426.64Z" fill="#ff0000"/>
<path d="M521.28 421.85L524.08 418.85L526.88 421.85L524.08 424.85Z" fill="#ff0000"/>
<path d="M524.54 419.87L527.34 416.87L530.14 419.87L527.34 422.87Z" fill="#ff0000"/>
<path d="M527.79 417.05L530.59 414.05L533.39 417.05L530.59 420.05Z" fill="#ff0000"/>
<path d="M531.04 413.16L533.84 410.16L536.64 413.16L533.84 416.16Z" fill="#ff0000"/>
<path d="M534.30 408.31L537.10 405.31L539.90 408.31L537.10 411.31Z" fill="#ff0000"/>
<path d="M537.55 401.03L540.35 398.03L543.15 401.03L540.35 404.03Z" fill="#ff0000"/>
<path d="M540.80 390.75L543.60 387.75L546.40 390.75L543.60 393.75Z" fill="#ff0000"/>
<path d="M544.06 375.81L546.86 372.81L549.66 375.81L546.86 378.81Z" fill="#ff0000"/>
<path d="M547.31 353.10L550.11 350.10L552.91 353.10L550.11 356.10Z" fill="#ff0000"/>
<path d="M550.56 323.18L553.36 320.18L556.16 323.18L553.36 326.18Z" fill="#ff0000"/>
<path d="M553.82 290.16L556.62 287.16L559.42 290.16L556.62 293.16Z" fill="#ff0000"/>
<path d="M557.07 270.11L559.87 267.11L562.67 270.11L559.87 273.11Z" fill="#ff0000"/>
<path d="M560.32 282.50L563.12 279.50L565.92 282.50L563.12 285.50Z" fill="#ff0000"/>
<path d="M563.58 313.33L566.38 310.33L569.18 313.33L566.38 316.33Z" fill="#ff0000"/>
<path d="M566.83 345.57L569.63 342.57L572.43 345.57L569.63 348.57Z" fill="#ff0000"/>
<path d="M570.09 370.04L572.88 367.04L575.68 370.04L572.88 373.04Z" fill="#ff0000"/>
<path d="M573.34 387.42L576.14 384.42L578.94 387.42L576.14 390.42Z" fill="#ff0000"/>
<path d="M576.59 398.50L579.39 395.50L582.19 398.50L579.39 401.50Z" fill="#ff0000"/>
<path d="M579.85 406.53L582.65 403.53L585.45 406.53L582.65 409.53Z" fill="#ff0000"/>
<path d="M583.10 412.06L585.90 409.06L588.70 412.06L585.90 415.06Z" fill="#ff0000"/>
<path d="M586.35 416.15L589.15 413.15L591.95 416.15L589.15 419.15Z" fill="#ff0000"/>
<path d="M589.61 419.16L592.41 416.16L595.21 419.16L592.41 422.16Z" fill="#ff0000"/>
<path d="M592.86 421.47L595.66 418.47L598.46 421.47L595.66 424.47Z" fill="#ff0000"/>
<path d="M596.11 423.15L598.91 420.15L601.71 423.15L598.91 426.15Z" fill="#ff0000"/>
<path d="M599.37 424.61L602.17 421.61L604.97 424.61L602.17 427.61Z" fill="#ff0000"/>
<path d="M602.62 425.60L605.42 422.60L608.22 425.60L605.42 428.60Z" fill="#ff0000"/>
<path d="M605.87 426.59L608.67 423.59L611.47 426.59L608.67 429.59Z" fill="#ff0000"/>
<path d="M609.13 427.20L611.93 424.20L614.73 427.20L611.93 430.20Z" fill="#ff0000"/>
<path d="M612.38 427.85L615.18 424.85L617.98 427.85L615.18 430.85Z" fill="#ff0000"/>
<path d="M615.63 428.33L618.43 425.33L621.23 428.33L618.43 431.33Z" fill="#ff0000"/>
<path d="M618.89 428.65L621.69 425.65L624.49 428.65L621.69 431.65Z" fill="#ff0000"/>
<path d="M622.14 428.96L624.94 425.96L627.74 428.96L624.94 431.96Z" fill="#ff0000"/>
<path d="M625.39 429.18L628.19 426.18L630.99 429.18L628.19 432.18Z" fill="#ff0000"/>
<path d="M628.65 429.37L631.45 426.37L634.25 429.37L631.45 432.37Z" fill="#ff0000"/>
<path d="M631.90 429.49L634.70 426.49L637.50 429.49L634.70 432.49Z" fill="#ff0000"/>
<path d="M635.15 429.60L637.95 426.60L640.75 429.60L637.95 432.60Z" fill="#ff0000"/>
<path d="M638.41 429.59L641.21 426.59L644.01 429.59L641.21 432.59Z" fill="#ff0000"/>
<path d="M641.66 429.58L644.46 426.58L647.26 429.58L644.46 432.58Z" fill="#ff0000"/>
<path d="M644.91 429.49L647.71 426.49L650.51 429.49L647.71 432.49Z" fill="#ff0000"/>
<path d="M648.17 429.45L650.97 426.45L653.77 429.45L650.97 432.45Z" fill="#ff0000"/>
<path d="M651.42 429.28L654.22 426.28L657.02 429.28L654.22 432.28Z" fill="#ff0000"/>
<path d="M654.67 429.02L657.47 426.02L660.27 429.02L657.47 432.02Z" fill="#ff0000"/>
<path d="M657.93 428.72L660.73 425.72L663.53 428.72L660.73 431.72Z" fill="#ff0000"/>
<path d="M661.18 428.41L663.98 425.41L666.78 428.41L663.98 431.41Z" fill="#ff0000"/>
<path d="M664.43 427.94L667.23 424.94L670.03 427.94L667.23 430.94Z" fill="#ff0000"/>
<path d="M667.69 427.42L670.49 424.42L673.29 427.42L670.49 430.42Z" fill="#ff0000"/>
<path d="M670.94 426.76L673.74 423.76L676.54 426.76L673.74 429.76Z" fill="#ff0000"/>
<path d="M674.19 425.92L676.99 422.92L679.79 425.92L676.99 428.92Z" fill="#ff0000"/>
<path d="M677.45 424.87L680.25 421.87L683.05 424.87L680.25 427.87Z" fill="#ff0000"/>
<path d="M680.70 423.65L683.50 420.65L686.30 423.65L683.50 426.65Z" fill="#ff0000"/>
<path d="M683.95 421.97L686.75 418.97L689.55 421.97L686.75 424.97Z" fill="#ff0000"/>
<path d="M687.21 419.76L690.01 416.76L692.81 419.76L690.01 422.76Z" fill="#ff0000"/>
<path d="M690.46 417.07L693.26 414.07L696.06 417.07L693.26 420.07Z" fill="#ff0000"/>
<path d="M693.71 413.30L696.51 410.30L699.31 413.30L696.51 416.30Z" fill="#ff0000"/>
<path d="M696.97 408.27L699.77 405.27L702.57 408.27L699.77 411.27Z" fill="#ff0000"/>
<path d="M700.22 401.09L703.02 398.09L705.82 401.09L703.02 404.09Z" fill="#ff0000"/>
<path d="M703.47 390.65L706.27 387.65L709.07 390.65L706.27 393.65Z" fill="#ff0000"/>
<path d="M706.73 375.46L709.53 372.46L712.33 375.46L709.53 378.46Z" fill="#ff0000"/>
<path d="M709.98 353.06L712.78 350.06L715.58 353.06L712.78 356.06Z" fill="#ff0000"/>
<path d="M713.23 323.10L716.03 320.10L718.83 323.10L716.03 326.10Z" fill="#ff0000"/>
<path d="M716.49 289.83L719.29 286.83L722.09 289.83L719.29 292.83Z" fill="#ff0000"/>
<path d="M719.74 270.38L722.54 267.38L725.34 270.38L722.54 273.38Z" fill="#ff0000"/>
<path d="M722.99 282.40L725.79 279.40L728.59 282.40L725.79 285.40Z" fill="#ff0000"/>
<path d="M726.25 314.01L729.05 311.01L731.85 314.01L729.05 317.01Z" fill="#ff0000"/>
<path d="M729.50 345.88L732.30 342.88L735.10 345.88L732.30 348.88Z" fill="#ff0000"/>
<path d="M732.76 370.27L735.56 367.27L738.36 370.27L735.56 373.27Z" fill="#ff0000"/>
<path d="M736.01 387.31L738.81 384.31L741.61 387.31L738.81 390.31Z" fill="#ff0000"/>
<path d="M739.26 398.72L742.06 395.72L744.86 398.72L742.06 401.72Z" fill="#ff0000"/>
<path d="M742.52 406.61L745.32 403.61L748.12 406.61L745.32 409.61Z" fill="#ff0000"/>
<path d="M745.77 412.14L748.57 409.14L751.37 412.14L748.57 415.14Z" fill="#ff0000"/>
<path d="M749.02 416.10L751.82 413.10L754.62 416.10L751.82 419.10Z" fill="#ff0000"/>
<path d="M752.28 419.17L755.08 416.17L757.88 419.17L755.08 422.17Z" fill="#ff0000"/>
<path d="M755.53 421.34L758.33 418.34L761.13 421.34L758.33 424.34Z" fill="#ff0000"/>
<path d="M758.78 423.16L761.58 420.16L764.38 423.16L761.58 426.16Z" fill="#ff0000"/>
<path d="M762.04 424.58L764.84 421.58L767.64 424.58L764.84 427.58Z" fill="#ff0000"/>
<path d="M765.29 425.67L768.09 422.67L770.89 425.67L768.09 428.67Z" fill="#ff0000"/>
<path d="M768.54 426.59L771.34 423.59L774.14 426.59L771.34 429.59Z" fill="#ff0000"/>
<path d="M771.80 427.23L774.60 424.23L777.40 427.23L774.60 430.23Z" fill="#ff0000"/>
<path d="M775.05 427.80L777.85 424.80L780.65 427.80L777.85 430.80Z" fill="#ff0000"/>
<path d="M778.30 428.30L781.10 425.30L783.90 428.30L781.10 431.30Z" fill="#ff0000"/>
<path d="M781.56 428.65L784.36 425.65L787.16 428.65L784.36 431.65Z" fill="#ff0000"/>
<path d="M784.81 428.98L787.61 425.98L790.41 428.98L787.61 431.98Z" fill="#ff0000"/>
<path d="M788.06 429.22L790.86 426.22L793.66 429.22L790.86 432.22Z" fill="#ff0000"/>
<path d="M791.32 429.39L794.12 426.39L796.92 429.39L794.12 432.39Z" fill="#ff0000"/>
<path d="M794.57 429.52L797.37 426.52L800.17 429.52L797.37 432.52Z" fill="#ff0000"/>
<path d="M797.82 429.56L800.62 426.56L803.42 429.56L800.62 432.56Z" fill="#ff0000"/>
<path d="M801.08 429.59L803.88 426.59L806.68 429.59L803.88 432.59Z" fill="#ff0000"/>
<path d="M804.33 429.57L807.13 426.57L809.93 429.57L807.13 432.57Z" fill="#ff0000"/>
<path d="M807.58 429.55L810.38 426.55L813.18 429.55L810.38 432.55Z" fill="#ff0000"/>
<path d="M810.84 429.39L813.64 426.39L816.44 429.39L813.64 432.39Z" fill="#ff0000"/>
<path d="M490.00 429.34L490.22 429.33L490.43 429.31L490.65 429.30L490.87 429.29L491.08 429.28L491.30 429.27L491.52 429.26L491.73 429.24L491.95 429.23L492.17 429.22L492.39 429.20L492.60 429.19L492.82 429.18L493.04 429.16L493.25 429.15L493.47 429.13L493.69 429.12L493.90 429.10L494.12 429.09L494.34 429.07L494.55 429.06L494.77 429.04L494.99 429.02L495.20 429.01L495.42 428.99L495.64 428.97L495.86 428.95L496.07 428.94L496.29 428.92L496.51 428.90L496.72 428.88L496.94 428.86L497.16 428.84L497.37 428.82L497.59 428.80L497.81 428.78L498.02 428.76L498.24 428.74L498.46 428.72L498.67 428.70L498.89 428.68L499.11 428.65L499.33 428.63L499.54 428.61L499.76 428.58L499.98 428.56L500.19 428.54L500.41 428.51L500.63 428.49L500.84 428.46L501.06 428.44L501.28 428.41L501.49 428.38L501.71 428.36L501.93 428.33L502.14 428.30L502.36 428.27L502.58 428.25L502.80 428.22L503.01 428.19L503.23 428.16L503.45 428.13L503.66 428.10L503.88 428.07L504.10 428.04L504.31 428.01L504.53 427.97L504.75 427.94L504.96 427.91L505.18 427.87L505.40 427.84L505.61 427.81L505.83 427.77L506.05 427.73L506.26 427.70L506.48 427.66L506.70 427.63L506.92 427.59L507.13 427.55L507.35 427.51L507.57 427.47L507.78 427.43L508.00 427.39L508.22 427.35L508.43 427.31L508.65 427.27L508.87 427.22L509.08 427.18L509.30 427.14L509.52 427.09L509.73 427.05L509.95 427.00L510.17 426.96L510.39 426.91L510.60 426.86L510.82 426.81L511.04 426.76L511.25 426.71L511.47 426.66L511.69 426.61L511.90 426.56L512.12 426.51L512.34 426.45L512.55 426.40L512.77 426.34L512.99 426.29L513.20 426.23L513.42 426.18L513.64 426.12L513.86 426.06L514.07 426.00L514.29 425.94L514.51 425.87L514.72 425.81L514.94 425.75L515.16 425.68L515.37 425.62L515.59 425.55L515.81 425.48L516.02 425.42L516.24 425.35L516.46 425.28L516.67 425.20L516.89 425.13L517.11 425.06L517.33 424.98L517.54 424.91L517.76 424.83L517.98 424.75L518.19 424.67L518.41 424.59L518.63 424.51L518.84 424.43L519.06 424.34L519.28 424.26L519.49 424.17L519.71 424.08L519.93 423.99L520.14 423.90L520.36 423.80L520.58 423.71L520.80 423.61L521.01 423.52L521.23 423.42L521.45 423.32L521.66 423.21L521.88 423.11L522.10 423.01L522.31 422.90L522.53 422.79L522.75 422.68L522.96 422.57L523.18 422.45L523.40 422.33L523.61 422.22L523.83 422.09L524.05 421.97L524.26 421.85L524.48 421.72L524.70 421.59L524.92 421.46L525.13 421.33L525.35 421.19L525.57 421.05L525.78 420.91L526.00 420.77L526.22 420.62L526.43 420.48L526.65 420.33L526.87 420.17L527.08 420.02L527.30 419.86L527.52 419.70L527.73 419.53L527.95 419.36L528.17 419.19L528.39 419.02L528.60 418.84L528.82 418.66L529.04 418.48L529.25 418.29L529.47 418.10L529.69 417.90L529.90 417.71L530.12 417.50L530.34 417.30L530.55 417.09L530.77 416.87L530.99 416.66L531.20 416.43L531.42 416.21L531.64 415.97L531.86 415.74L532.07 415.50L532.29 415.25L532.51 415.00L532.72 414.75L532.94 414.49L533.16 414.22L533.37 413.95L533.59 413.67L533.81 413.39L534.02 413.10L534.24 412.80L534.46 412.50L534.67 412.19L534.89 411.88L535.11 411.56L535.33 411.23L535.54 410.89L535.76 410.55L535.98 410.20L536.19 409.84L536.41 409.48L536.63 409.10L536.84 408.72L537.06 408.33L537.28 407.93L537.49 407.52L537.71 407.10L537.93 406.67L538.14 406.23L538.36 405.78L538.58 405.33L538.79 404.86L539.01 404.38L539.23 403.88L539.45 403.38L539.66 402.86L539.88 402.33L540.10 401.79L540.31 401.24L540.53 400.67L540.75 400.09L540.96 399.49L541.18 398.88L541.40 398.25L541.61 397.61L541.83 396.95L542.05 396.28L542.26 395.59L542.48 394.88L542.70 394.15L542.92 393.40L543.13 392.64L543.35 391.85L543.57 391.05L543.78 390.22L544.00 389.37L544.22 388.50L544.43 387.61L544.65 386.69L544.87 385.75L545.08 384.79L545.30 383.80L545.52 382.78L545.73 381.74L545.95 380.67L546.17 379.57L546.39 378.44L546.60 377.28L546.82 376.09L547.04 374.88L547.25 373.62L547.47 372.34L547.69 371.02L547.90 369.67L548.12 368.28L548.34 366.86L548.55 365.40L548.77 363.91L548.99 362.38L549.20 360.81L549.42 359.20L549.64 357.55L549.86 355.86L550.07 354.13L550.29 352.37L550.51 350.56L550.72 348.71L550.94 346.82L551.16 344.90L551.37 342.93L551.59 340.92L551.81 338.88L552.02 336.80L552.24 334.68L552.46 332.53L552.67 330.34L552.89 328.12L553.11 325.88L553.33 323.60L553.54 321.31L553.76 318.99L553.98 316.65L554.19 314.30L554.41 311.94L554.63 309.58L554.84 307.21L555.06 304.85L555.28 302.51L555.49 300.18L555.71 297.87L555.93 295.59L556.14 293.35L556.36 291.16L556.58 289.02L556.79 286.94L557.01 284.93L557.23 283.00L557.45 281.15L557.66 279.40L557.88 277.75L558.10 276.21L558.31 274.78L558.53 273.49L558.75 272.32L558.96 271.29L559.18 270.40L559.40 269.66L559.61 269.08L559.83 268.65L560.05 268.38L560.26 268.26L560.48 268.31L560.70 268.52L560.92 268.89L561.13 269.41L561.35 270.09L561.57 270.92L561.78 271.89L562.00 273.01L562.22 274.25L562.43 275.63L562.65 277.12L562.87 278.73L563.08 280.44L563.30 282.25L563.52 284.15L563.73 286.13L563.95 288.19L564.17 290.30L564.39 292.48L564.60 294.70L564.82 296.96L565.04 299.26L565.25 301.58L565.47 303.92L565.69 306.28L565.90 308.64L566.12 311.00L566.34 313.37L566.55 315.72L566.77 318.06L566.99 320.39L567.20 322.69L567.42 324.98L567.64 327.24L567.86 329.47L568.07 331.66L568.29 333.83L568.51 335.96L568.72 338.06L568.94 340.12L569.16 342.14L569.37 344.12L569.59 346.06L569.81 347.97L570.02 349.83L570.24 351.65L570.46 353.44L570.67 355.18L570.89 356.88L571.11 358.55L571.33 360.17L571.54 361.76L571.76 363.30L571.98 364.81L572.19 366.29L572.41 367.72L572.63 369.12L572.84 370.49L573.06 371.82L573.28 373.12L573.49 374.38L573.71 375.61L573.93 376.81L574.14 377.98L574.36 379.12L574.58 380.23L574.79 381.32L575.01 382.37L575.23 383.40L575.45 384.40L575.66 385.37L575.88 386.32L576.10 387.25L576.31 388.15L576.53 389.03L576.75 389.89L576.96 390.72L577.18 391.54L577.40 392.33L577.61 393.10L577.83 393.86L578.05 394.59L578.26 395.31L578.48 396.01L578.70 396.69L578.92 397.35L579.13 398.00L579.35 398.63L579.57 399.25L579.78 399.85L580.00 400.44L580.22 401.01L580.43 401.57L580.65 402.12L580.87 402.65L581.08 403.18L581.30 403.68L581.52 404.18L581.73 404.67L581.95 405.14L582.17 405.60L582.39 406.06L582.60 406.50L582.82 406.93L583.04 407.35L583.25 407.77L583.47 408.17L583.69 408.56L583.90 408.95L584.12 409.33L584.34 409.70L584.55 410.06L584.77 410.41L584.99 410.76L585.20 411.10L585.42 411.43L585.64 411.75L585.86 412.07L586.07 412.38L586.29 412.68L586.51 412.98L586.72 413.27L586.94 413.56L587.16 413.84L587.37 414.11L587.59 414.38L587.81 414.64L588.02 414.90L588.24 415.15L588.46 415.40L588.67 415.64L588.89 415.88L589.11 416.11L589.32 416.34L589.54 416.57L589.76 416.79L589.98 417.00L590.19 417.21L590.41 417.42L590.63 417.63L590.84 417.83L591.06 418.02L591.28 418.21L591.49 418.40L591.71 418.59L591.93 418.77L592.14 418.95L592.36 419.12L592.58 419.30L592.79 419.46L593.01 419.63L593.23 419.79L593.45 419.95L593.66 420.11L593.88 420.27L594.10 420.42L594.31 420.57L594.53 420.71L594.75 420.86L594.96 421.00L595.18 421.14L595.40 421.27L595.61 421.41L595.83 421.54L596.05 421.67L596.26 421.80L596.48 421.92L596.70 422.05L596.92 422.17L597.13 422.29L597.35 422.40L597.57 422.52L597.78 422.63L598.00 422.74L598.22 422.85L598.43 422.96L598.65 423.07L598.87 423.17L599.08 423.28L599.30 423.38L599.52 423.48L599.73 423.58L599.95 423.67L600.17 423.77L600.39 423.86L600.60 423.95L600.82 424.04L601.04 424.13L601.25 424.22L601.47 424.31L601.69 424.39L601.90 424.48L602.12 424.56L602.34 424.64L602.55 424.72L602.77 424.80L602.99 424.88L603.20 424.95L603.42 425.03L603.64 425.10L603.86 425.18L604.07 425.25L604.29 425.32L604.51 425.39L604.72 425.46L604.94 425.53L605.16 425.59L605.37 425.66L605.59 425.72L605.81 425.79L606.02 425.85L606.24 425.91L606.46 425.97L606.67 426.03L606.89 426.09L607.11 426.15L607.32 426.21L607.54 426.27L607.76 426.32L607.98 426.38L608.19 426.43L608.41 426.49L608.63 426.54L608.84 426.59L609.06 426.64L609.28 426.69L609.49 426.74L609.71 426.79L609.93 426.84L610.14 426.89L610.36 426.94L610.58 426.98L610.79 427.03L611.01 427.08L611.23 427.12L611.45 427.16L611.66 427.21L611.88 427.25L612.10 427.29L612.31 427.33L612.53 427.38L612.75 427.42L612.96 427.46L613.18 427.50L613.40 427.53L613.61 427.57L613.83 427.61L614.05 427.65L614.26 427.68L614.48 427.72L614.70 427.76L614.92 427.79L615.13 427.83L615.35 427.86L615.57 427.89L615.78 427.93L616.00 427.96L616.22 427.99L616.43 428.02L616.65 428.06L616.87 428.09L617.08 428.12L617.30 428.15L617.52 428.18L617.73 428.21L617.95 428.24L618.17 428.26L618.39 428.29L618.60 428.32L618.82 428.35L619.04 428.37L619.25 428.40L619.47 428.43L619.69 428.45L619.90 428.48L620.12 428.50L620.34 428.53L620.55 428.55L620.77 428.57L620.99 428.60L621.20 428.62L621.42 428.64L621.64 428.67L621.85 428.69L622.07 428.71L622.29 428.73L622.51 428.75L622.72 428.77L622.94 428.79L623.16 428.81L623.37 428.83L623.59 428.85L623.81 428.87L624.02 428.89L624.24 428.91L624.46 428.93L624.67 428.95L624.89 428.97L625.11 428.98L625.32 429.00L625.54 429.02L625.76 429.03L625.98 429.05L626.19 429.07L626.41 429.08L626.63 429.10L626.84 429.11L627.06 429.13L627.28 429.14L627.49 429.16L627.71 429.17L627.93 429.18L628.14 429.20L628.36 429.21L628.58 429.23L628.79 429.24L629.01 429.25L629.23 429.26L629.45 429.28L629.66 429.29L629.88 429.30L630.10 429.31L630.31 429.32L630.53 429.33L630.75 429.34L630.96 429.35L631.18 429.36L631.40 429.37L631.61 429.38L631.83 429.39L632.05 429.40L632.26 429.41L632.48 429.42L632.70 429.43L632.92 429.44L633.13 429.45L633.35 429.45L633.57 429.46L633.78 429.47L634.00 429.48L634.22 429.48L634.43 429.49L634.65 429.50L634.87 429.50L635.08 429.51L635.30 429.52L635.52 429.52L635.73 429.53L635.95 429.53L636.17 429.54L636.38 429.54L636.60 429.55L636.82 429.55L637.04 429.56L637.25 429.56L637.47 429.57L637.69 429.57L637.90 429.57L638.12 429.58L638.34 429.58L638.55 429.58L638.77 429.58L638.99 429.59L639.20 429.59L639.42 429.59L639.64 429.59L639.85 429.60L640.07 429.60L640.29 429.60L640.51 429.60L640.72 429.60L640.94 429.60L641.16 429.60L641.37 429.60L641.59 429.60L641.81 429.60L642.02 429.60L642.24 429.60L642.46 429.60L642.67 429.60L642.89 429.60L643.11 429.60L643.32 429.60L643.54 429.59L643.76 429.59L643.98 429.59L644.19 429.59L644.41 429.59L644.63 429.58L644.84 429.58L645.06 429.58L645.28 429.57L645.49 429.57L645.71 429.57L645.93 429.56L646.14 429.56L646.36 429.55L646.58 429.55L646.79 429.55L647.01 429.54L647.23 429.54L647.45 429.53L647.66 429.52L647.88 429.52L648.10 429.51L648.31 429.51L648.53 429.50L648.75 429.49L648.96 429.49L649.18 429.48L649.40 429.47L649.61 429.46L649.83 429.46L650.05 429.45L650.26 429.44L650.48 429.43L650.70 429.42L650.92 429.42L651.13 429.41L651.35 429.40L651.57 429.39L651.78 429.38L652.00 429.37L652.22 429.36L652.43 429.35L652.65 429.34L652.87 429.33L653.08 429.31L653.30 429.30L653.52 429.29L653.73 429.28L653.95 429.27L654.17 429.26L654.38 429.24L654.60 429.23L654.82 429.22L655.04 429.20L655.25 429.19L655.47 429.18L655.69 429.16L655.90 429.15L656.12 429.13L656.34 429.12L656.55 429.10L656.77 429.09L656.99 429.07L657.20 429.06L657.42 429.04L657.64 429.02L657.85 429.01L658.07 428.99L658.29 428.97L658.51 428.95L658.72 428.94L658.94 428.92L659.16 428.90L659.37 428.88L659.59 428.86L659.81 428.84L660.02 428.82L660.24 428.80L660.46 428.78L660.67 428.76L660.89 428.74L661.11 428.72L661.32 428.70L661.54 428.68L661.76 428.65L661.98 428.63L662.19 428.61L662.41 428.58L662.63 428.56L662.84 428.54L663.06 428.51L663.28 428.49L663.49 428.46L663.71 428.44L663.93 428.41L664.14 428.38L664.36 428.36L664.58 428.33L664.79 428.30L665.01 428.27L665.23 428.25L665.45 428.22L665.66 428.19L665.88 428.16L666.10 428.13L666.31 428.10L666.53 428.07L666.75 428.04L666.96 428.01L667.18 427.97L667.40 427.94L667.61 427.91L667.83 427.87L668.05 427.84L668.26 427.81L668.48 427.77L668.70 427.73L668.91 427.70L669.13 427.66L669.35 427.63L669.57 427.59L669.78 427.55L670.00 427.51L670.22 427.47L670.43 427.43L670.65 427.39L670.87 427.35L671.08 427.31L671.30 427.27L671.52 427.22L671.73 427.18L671.95 427.14L672.17 427.09L672.38 427.05L672.60 427.00L672.82 426.96L673.04 426.91L673.25 426.86L673.47 426.81L673.69 426.76L673.90 426.71L674.12 426.66L674.34 426.61L674.55 426.56L674.77 426.51L674.99 426.45L675.20 426.40L675.42 426.34L675.64 426.29L675.85 426.23L676.07 426.18L676.29 426.12L676.51 426.06L676.72 426.00L676.94 425.94L677.16 425.87L677.37 425.81L677.59 425.75L677.81 425.68L678.02 425.62L678.24 425.55L678.46 425.48L678.67 425.42L678.89 425.35L679.11 425.28L679.32 425.20L679.54 425.13L679.76 425.06L679.98 424.98L680.19 424.91L680.41 424.83L680.63 424.75L680.84 424.67L681.06 424.59L681.28 424.51L681.49 424.43L681.71 424.34L681.93 424.26L682.14 424.17L682.36 424.08L682.58 423.99L682.79 423.90L683.01 423.80L683.23 423.71L683.45 423.61L683.66 423.52L683.88 423.42L684.10 423.32L684.31 423.21L684.53 423.11L684.75 423.01L684.96 422.90L685.18 422.79L685.40 422.68L685.61 422.57L685.83 422.45L686.05 422.33L686.26 422.22L686.48 422.09L686.70 421.97L686.91 421.85L687.13 421.72L687.35 421.59L687.57 421.46L687.78 421.33L688.00 421.19L688.22 421.05L688.43 420.91L688.65 420.77L688.87 420.62L689.08 420.48L689.30 420.33L689.52 420.17L689.73 420.02L689.95 419.86L690.17 419.70L690.38 419.53L690.60 419.36L690.82 419.19L691.04 419.02L691.25 418.84L691.47 418.66L691.69 418.48L691.90 418.29L692.12 418.10L692.34 417.90L692.55 417.71L692.77 417.50L692.99 417.30L693.20 417.09L693.42 416.87L693.64 416.66L693.85 416.43L694.07 416.21L694.29 415.97L694.51 415.74L694.72 415.50L694.94 415.25L695.16 415.00L695.37 414.75L695.59 414.49L695.81 414.22L696.02 413.95L696.24 413.67L696.46 413.39L696.67 413.10L696.89 412.80L697.11 412.50L697.32 412.19L697.54 411.88L697.76 411.56L697.98 411.23L698.19 410.89L698.41 410.55L698.63 410.20L698.84 409.84L699.06 409.48L699.28 409.10L699.49 408.72L699.71 408.33L699.93 407.93L700.14 407.52L700.36 407.10L700.58 406.67L700.79 406.23L701.01 405.78L701.23 405.33L701.44 404.86L701.66 404.38L701.88 403.88L702.10 403.38L702.31 402.86L702.53 402.33L702.75 401.79L702.96 401.24L703.18 400.67L703.40 400.09L703.61 399.49L703.83 398.88L704.05 398.25L704.26 397.61L704.48 396.95L704.70 396.28L704.91 395.59L705.13 394.88L705.35 394.15L705.57 393.40L705.78 392.64L706.00 391.85L706.22 391.05L706.43 390.22L706.65 389.37L706.87 388.50L707.08 387.61L707.30 386.69L707.52 385.75L707.73 384.79L707.95 383.80L708.17 382.78L708.38 381.74L708.60 380.67L708.82 379.57L709.04 378.44L709.25 377.28L709.47 376.09L709.69 374.88L709.90 373.62L710.12 372.34L710.34 371.02L710.55 369.67L710.77 368.28L710.99 366.86L711.20 365.40L711.42 363.91L711.64 362.38L711.85 360.81L712.07 359.20L712.29 357.55L712.51 355.86L712.72 354.13L712.94 352.37L713.16 350.56L713.37 348.71L713.59 346.82L713.81 344.90L714.02 342.93L714.24 340.92L714.46 338.88L714.67 336.80L714.89 334.68L715.11 332.53L715.32 330.34L715.54 328.12L715.76 325.88L715.98 323.60L716.19 321.31L716.41 318.99L716.63 316.65L716.84 314.30L717.06 311.94L717.28 309.58L717.49 307.21L717.71 304.85L717.93 302.51L718.14 300.18L718.36 297.87L718.58 295.59L718.79 293.35L719.01 291.16L719.23 289.02L719.44 286.94L719.66 284.93L719.88 283.00L720.10 281.15L720.31 279.40L720.53 277.75L720.75 276.21L720.96 274.78L721.18 273.49L721.40 272.32L721.61 271.29L721.83 270.40L722.05 269.66L722.26 269.08L722.48 268.65L722.70 268.38L722.91 268.26L723.13 268.31L723.35 268.52L723.57 268.89L723.78 269.41L724.00 270.09L724.22 270.92L724.43 271.89L724.65 273.01L724.87 274.25L725.08 275.63L725.30 277.12L725.52 278.73L725.73 280.44L725.95 282.25L726.17 284.15L726.38 286.13L726.60 288.19L726.82 290.30L727.04 292.48L727.25 294.70L727.47 296.96L727.69 299.26L727.90 301.58L728.12 303.92L728.34 306.28L728.55 308.64L728.77 311.00L728.99 313.37L729.20 315.72L729.42 318.06L729.64 320.39L729.85 322.69L730.07 324.98L730.29 327.24L730.51 329.47L730.72 331.66L730.94 333.83L731.16 335.96L731.37 338.06L731.59 340.12L731.81 342.14L732.02 344.12L732.24 346.06L732.46 347.97L732.67 349.83L732.89 351.65L733.11 353.44L733.32 355.18L733.54 356.88L733.76 358.55L733.97 360.17L734.19 361.76L734.41 363.30L734.63 364.81L734.84 366.29L735.06 367.72L735.28 369.12L735.49 370.49L735.71 371.82L735.93 373.12L736.14 374.38L736.36 375.61L736.58 376.81L736.79 377.98L737.01 379.12L737.23 380.23L737.44 381.32L737.66 382.37L737.88 383.40L738.10 384.40L738.31 385.37L738.53 386.32L738.75 387.25L738.96 388.15L739.18 389.03L739.40 389.89L739.61 390.72L739.83 391.54L740.05 392.33L740.26 393.10L740.48 393.86L740.70 394.59L740.91 395.31L741.13 396.01L741.35 396.69L741.57 397.35L741.78 398.00L742.00 398.63L742.22 399.25L742.43 399.85L742.65 400.44L742.87 401.01L743.08 401.57L743.30 402.12L743.52 402.65L743.73 403.18L743.95 403.68L744.17 404.18L744.38 404.67L744.60 405.14L744.82 405.60L745.04 406.06L745.25 406.50L745.47 406.93L745.69 407.35L745.90 407.77L746.12 408.17L746.34 408.56L746.55 408.95L746.77 409.33L746.99 409.70L747.20 410.06L747.42 410.41L747.64 410.76L747.85 411.10L748.07 411.43L748.29 411.75L748.51 412.07L748.72 412.38L748.94 412.68L749.16 412.98L749.37 413.27L749.59 413.56L749.81 413.84L750.02 414.11L750.24 414.38L750.46 414.64L750.67 414.90L750.89 415.15L751.11 415.40L751.32 415.64L751.54 415.88L751.76 416.11L751.97 416.34L752.19 416.57L752.41 416.79L752.63 417.00L752.84 417.21L753.06 417.42L753.28 417.63L753.49 417.83L753.71 418.02L753.93 418.21L754.14 418.40L754.36 418.59L754.58 418.77L754.79 418.95L755.01 419.12L755.23 419.30L755.44 419.46L755.66 419.63L755.88 419.79L756.10 419.95L756.31 420.11L756.53 420.27L756.75 420.42L756.96 420.57L757.18 420.71L757.40 420.86L757.61 421.00L757.83 421.14L758.05 421.27L758.26 421.41L758.48 421.54L758.70 421.67L758.91 421.80L759.13 421.92L759.35 422.05L759.57 422.17L759.78 422.29L760.00 422.40L760.22 422.52L760.43 422.63L760.65 422.74L760.87 422.85L761.08 422.96L761.30 423.07L761.52 423.17L761.73 423.28L761.95 423.38L762.17 423.48L762.38 423.58L762.60 423.67L762.82 423.77L763.04 423.86L763.25 423.95L763.47 424.04L763.69 424.13L763.90 424.22L764.12 424.31L764.34 424.39L764.55 424.48L764.77 424.56L764.99 424.64L765.20 424.72L765.42 424.80L765.64 424.88L765.85 424.95L766.07 425.03L766.29 425.10L766.50 425.18L766.72 425.25L766.94 425.32L767.16 425.39L767.37 425.46L767.59 425.53L767.81 425.59L768.02 425.66L768.24 425.72L768.46 425.79L768.67 425.85L768.89 425.91L769.11 425.97L769.32 426.03L769.54 426.09L769.76 426.15L769.97 426.21L770.19 426.27L770.41 426.32L770.63 426.38L770.84 426.43L771.06 426.49L771.28 426.54L771.49 426.59L771.71 426.64L771.93 426.69L772.14 426.74L772.36 426.79L772.58 426.84L772.79 426.89L773.01 426.94L773.23 426.98L773.44 427.03L773.66 427.08L773.88 427.12L774.10 427.16L774.31 427.21L774.53 427.25L774.75 427.29L774.96 427.33L775.18 427.38L775.40 427.42L775.61 427.46L775.83 427.50L776.05 427.53L776.26 427.57L776.48 427.61L776.70 427.65L776.91 427.68L777.13 427.72L777.35 427.76L777.57 427.79L777.78 427.83L778.00 427.86L778.22 427.89L778.43 427.93L778.65 427.96L778.87 427.99L779.08 428.02L779.30 428.06L779.52 428.09L779.73 428.12L779.95 428.15L780.17 428.18L780.38 428.21L780.60 428.24L780.82 428.26L781.04 428.29L781.25 428.32L781.47 428.35L781.69 428.37L781.90 428.40L782.12 428.43L782.34 428.45L782.55 428.48L782.77 428.50L782.99 428.53L783.20 428.55L783.42 428.57L783.64 428.60L783.85 428.62L784.07 428.64L784.29 428.67L784.50 428.69L784.72 428.71L784.94 428.73L785.16 428.75L785.37 428.77L785.59 428.79L785.81 428.81L786.02 428.83L786.24 428.85L786.46 428.87L786.67 428.89L786.89 428.91L787.11 428.93L787.32 428.95L787.54 428.97L787.76 428.98L787.97 429.00L788.19 429.02L788.41 429.03L788.63 429.05L788.84 429.07L789.06 429.08L789.28 429.10L789.49 429.11L789.71 429.13L789.93 429.14L790.14 429.16L790.36 429.17L790.58 429.18L790.79 429.20L791.01 429.21L791.23 429.23L791.44 429.24L791.66 429.25L791.88 429.26L792.10 429.28L792.31 429.29L792.53 429.30L792.75 429.31L792.96 429.32L793.18 429.33L793.40 429.34L793.61 429.35L793.83 429.36L794.05 429.37L794.26 429.38L794.48 429.39L794.70 429.40L794.91 429.41L795.13 429.42L795.35 429.43L795.57 429.44L795.78 429.45L796.00 429.45L796.22 429.46L796.43 429.47L796.65 429.48L796.87 429.48L797.08 429.49L797.30 429.50L797.52 429.50L797.73 429.51L797.95 429.52L798.17 429.52L798.38 429.53L798.60 429.53L798.82 429.54L799.03 429.54L799.25 429.55L799.47 429.55L799.69 429.56L799.90 429.56L800.12 429.57L800.34 429.57L800.55 429.57L800.77 429.58L800.99 429.58L801.20 429.58L801.42 429.58L801.64 429.59L801.85 429.59L802.07 429.59L802.29 429.59L802.50 429.60L802.72 429.60L802.94 429.60L803.16 429.60L803.37 429.60L803.59 429.60L803.81 429.60L804.02 429.60L804.24 429.60L804.46 429.60L804.67 429.60L804.89 429.60L805.11 429.60L805.32 429.60L805.54 429.60L805.76 429.60L805.97 429.60L806.19 429.59L806.41 429.59L806.63 429.59L806.84 429.59L807.06 429.59L807.28 429.58L807.49 429.58L807.71 429.58L807.93 429.57L808.14 429.57L808.36 429.57L808.58 429.56L808.79 429.56L809.01 429.55L809.23 429.55L809.44 429.55L809.66 429.54L809.88 429.54L810.10 429.53L810.31 429.52L810.53 429.52L810.75 429.51L810.96 429.51L811.18 429.50L811.40 429.49L811.61 429.49L811.83 429.48L812.05 429.47L812.26 429.46L812.48 429.46L812.70 429.45L812.91 429.44L813.13 429.43L813.35 429.42L813.57 429.42L813.78 429.41L814.00 429.40L814.22 429.39L814.43 429.38L814.65 429.37L814.87 429.36L815.08 429.35L815.30 429.34" fill="none" stroke="#000" stroke-width="1.3" stroke-linejoin="round"/>
<path d="M490.00 435.5v-7M490.00 257.9v7M541.77 435.5v-7M541.77 257.9v7M593.55 435.5v-7M593.55 257.9v7M645.32 435.5v-7M645.32 257.9v7M697.09 435.5v-7M697.09 257.9v7M748.87 435.5v-7M748.87 257.9v7M800.64 435.5v-7M800.64 257.9v7M490.0 435.50h7M815.3 435.50h-7M490.0 376.30h7M815.3 376.30h-7M490.0 317.10h7M815.3 317.10h-7M490.0 257.90h7M815.3 257.90h-7" stroke="#000" stroke-width="1" fill="none"/>
<rect x="490.0" y="257.9" width="325.30" height="177.60" fill="none" stroke="#000" stroke-width="1.1"/>
<text transform="translate(490.00 458.90) scale(1 1.11)" text-anchor="middle" font-size="19.0" >0</text>
<text transform="translate(541.77 458.90) scale(1 1.11)" text-anchor="middle" font-size="19.0" >1</text>
<text transform="translate(593.55 458.90) scale(1 1.11)" text-anchor="middle" font-size="19.0" >2</text>
<text transform="translate(645.32 458.90) scale(1 1.11)" text-anchor="middle" font-size="19.0" >3</text>
<text transform="translate(697.09 458.90) scale(1 1.11)" text-anchor="middle" font-size="19.0" >4</text>
<text transform="translate(748.87 458.90) scale(1 1.11)" text-anchor="middle" font-size="19.0" >5</text>
<text transform="translate(800.64 458.90) scale(1 1.11)" text-anchor="middle" font-size="19.0" >6</text>
<text transform="translate(479.60 440.50) scale(1 1.11)" text-anchor="end" font-size="19.0" >0</text>
<text transform="translate(479.60 381.30) scale(1 1.11)" text-anchor="end" font-size="19.0" >0.3</text>
<text transform="translate(479.60 322.10) scale(1 1.11)" text-anchor="end" font-size="19.0" >0.6</text>
<text transform="translate(479.60 262.90) scale(1 1.11)" text-anchor="end" font-size="19.0" >0.9</text>
<text transform="translate(230.90 238.20) scale(1 1)" text-anchor="middle" font-size="20.5" ><tspan font-style="italic" stroke-width="0.2">x</tspan></text>
<text transform="translate(652.50 233.70) scale(1 1)" text-anchor="middle" font-size="20.5" ><tspan font-style="italic" stroke-width="0.2">y</tspan></text>
<text transform="translate(232.30 490.90) scale(1 1)" text-anchor="middle" font-size="20.5" ><tspan font-style="italic" stroke-width="0.2">r</tspan></text>
<text transform="translate(652.10 485.80) scale(1 1)" text-anchor="middle" font-size="20.5" ><tspan font-style="italic" stroke-width="0.2">φ</tspan></text>
<text transform="translate(15.60 99.40) rotate(-90) scale(1 1)" text-anchor="middle" font-size="20.5" ><tspan font-style="italic" stroke-width="0.2">p</tspan><tspan font-style="italic" font-size="15.5" dy="3.8" stroke-width="0.1">x</tspan><tspan dy="-3.8" font-size="1"> </tspan><tspan font-size="23.0" dy="1.2">(</tspan><tspan dy="-1.2" font-size="1"> </tspan><tspan font-style="italic" stroke-width="0.2">x</tspan><tspan font-size="23.0" dy="1.2">)</tspan><tspan dy="-1.2" font-size="1"> </tspan></text>
<text transform="translate(434.90 96.00) rotate(-90) scale(1 1)" text-anchor="middle" font-size="20.5" ><tspan font-style="italic" stroke-width="0.2">p</tspan><tspan font-style="italic" font-size="15.5" dy="3.8" stroke-width="0.1">y</tspan><tspan dy="-3.8" font-size="1"> </tspan><tspan font-size="23.0" dy="1.2">(</tspan><tspan dy="-1.2" font-size="1"> </tspan><tspan font-style="italic" stroke-width="0.2">y</tspan><tspan font-size="23.0" dy="1.2">)</tspan><tspan dy="-1.2" font-size="1"> </tspan></text>
<text transform="translate(15.60 351.90) rotate(-90) scale(1 1)" text-anchor="middle" font-size="20.5" ><tspan font-style="italic" stroke-width="0.2">p</tspan><tspan font-size="23.0" dy="1.2">(</tspan><tspan dy="-1.2" font-size="1"> </tspan><tspan font-style="italic" stroke-width="0.2">r</tspan><tspan font-size="23.0" dy="1.2">)</tspan><tspan dy="-1.2" font-size="1"> </tspan></text>
<text transform="translate(435.40 347.00) rotate(-90) scale(1 1)" text-anchor="middle" font-size="20.5" ><tspan font-style="italic" stroke-width="0.2">p</tspan><tspan font-size="23.0" dy="1.2">(</tspan><tspan dy="-1.2" font-size="1"> </tspan><tspan font-style="italic" stroke-width="0.2">φ</tspan><tspan font-size="23.0" dy="1.2">)</tspan><tspan dy="-1.2" font-size="1"> </tspan></text>
<text transform="translate(180.00 284.00) scale(1 1)" text-anchor="start" font-size="21" ><tspan font-style="italic" stroke-width="0.2">α</tspan></text>
<path d="M199.3 276.90H212.3M199.3 281.10H212.3" stroke="#000" stroke-width="0.9" fill="none"/>
<text transform="translate(242.60 284.00) scale(1 1.11)" text-anchor="end" font-size="19.0" >0.1</text>
<rect x="254.45" y="276.15" width="5.70" height="5.70" fill="#9400d3"/>
<text transform="translate(180.00 302.60) scale(1 1)" text-anchor="start" font-size="21" ><tspan font-style="italic" stroke-width="0.2">α</tspan></text>
<path d="M199.3 295.50H212.3M199.3 299.70H212.3" stroke="#000" stroke-width="0.9" fill="none"/>
<text transform="translate(242.60 302.60) scale(1 1.11)" text-anchor="end" font-size="19.0" >0.5</text>
<circle cx="257.30" cy="297.60" r="2.7" fill="#009e73"/>
<text transform="translate(180.00 320.90) scale(1 1)" text-anchor="start" font-size="21" ><tspan font-style="italic" stroke-width="0.2">α</tspan></text>
<path d="M199.3 313.80H212.3M199.3 318.00H212.3" stroke="#000" stroke-width="0.9" fill="none"/>
<text transform="translate(242.60 320.90) scale(1 1.11)" text-anchor="end" font-size="19.0" >1.0</text>
<path d="M254.30 317.50L260.30 317.50L257.30 313.00Z" fill="#56b4e9"/>
<text transform="translate(180.00 339.40) scale(1 1)" text-anchor="start" font-size="21" ><tspan font-style="italic" stroke-width="0.2">α</tspan></text>
<path d="M199.3 332.30H212.3M199.3 336.50H212.3" stroke="#000" stroke-width="0.9" fill="none"/>
<text transform="translate(242.60 339.40) scale(1 1.11)" text-anchor="end" font-size="19.0" >1.5</text>
<path d="M254.30 332.80L260.30 332.80L257.30 337.30Z" fill="#e69f00"/>
<text transform="translate(180.00 357.70) scale(1 1)" text-anchor="start" font-size="21" ><tspan font-style="italic" stroke-width="0.2">α</tspan></text>
<path d="M199.3 350.60H212.3M199.3 354.80H212.3" stroke="#000" stroke-width="0.9" fill="none"/>
<text transform="translate(242.60 357.70) scale(1 1.11)" text-anchor="end" font-size="19.0" >2.0</text>
<path d="M254.50 352.70L257.30 349.70L260.10 352.70L257.30 355.70Z" fill="#ff0000"/>
</svg></body></html>
